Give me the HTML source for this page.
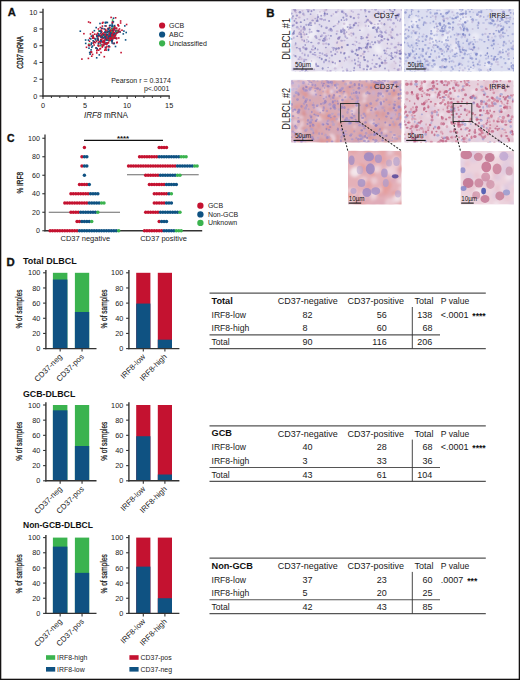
<!DOCTYPE html>
<html><head><meta charset="utf-8"><style>
html,body{margin:0;padding:0;background:#fff;}
body{width:520px;height:680px;overflow:hidden;}
svg{display:block;}
text{font-family:"Liberation Sans",sans-serif;}
.k0{fill:#e8d8e4;opacity:0.5}.k1{fill:#d8cce0;opacity:0.5}.k2{fill:#f4f2f8;opacity:0.7}.k3{fill:#b49ac4;opacity:0.45}.k4{fill:#6260ac;opacity:0.6}.k5{fill:#6e66b2;opacity:0.55}.k6{fill:#9a88c4;opacity:0.45}.k7{fill:#8076bc;opacity:0.5}.k8{fill:#cdd0ec;opacity:0.5}.k9{fill:#f2f2fa;opacity:0.7}.k10{fill:#e4e0f0;opacity:0.5}.k11{fill:#6470bc;opacity:0.55}.k12{fill:#9ca2d8;opacity:0.45}.k13{fill:#a898c8;opacity:0.4}.k14{fill:#7c86c8;opacity:0.5}.k15{fill:#6e7ac4;opacity:0.5}.k16{fill:#e4a09a;opacity:0.55}.k17{fill:#c4b0dc;opacity:0.5}.k18{fill:#f2e4ec;opacity:0.55}.k19{fill:#e0908a;opacity:0.6}.k20{fill:#d89090;opacity:0.55}.k21{fill:#a090cc;opacity:0.6}.k22{fill:#ac9cd0;opacity:0.55}.k23{fill:#9484c8;opacity:0.65}.k24{fill:#8878c0;opacity:0.65}.k25{fill:#e0b4c4;opacity:0.5}.k26{fill:#f6eef6;opacity:0.55}.k27{fill:#dcd0e8;opacity:0.5}.k28{fill:#bc5478;opacity:0.7}.k29{fill:#d48ca4;opacity:0.6}.k30{fill:#c4607e;opacity:0.7}.k31{fill:#cc7490;opacity:0.65}.k32{fill:#8890d0;opacity:0.55}.k33{fill:#b44c70;opacity:0.65}
</style></head><body>
<svg width="520" height="680" viewBox="0 0 520 680">
<defs><filter id="bl" x="-5%" y="-5%" width="110%" height="110%"><feGaussianBlur stdDeviation="0.5"/></filter><filter id="bm" x="-5%" y="-5%" width="110%" height="110%"><feGaussianBlur stdDeviation="1.6"/></filter><filter id="bh" x="-5%" y="-5%" width="110%" height="110%"><feGaussianBlur stdDeviation="0.8"/></filter><filter id="bi" x="-5%" y="-5%" width="110%" height="110%"><feGaussianBlur stdDeviation="0.75"/></filter></defs>
<rect x="0" y="0" width="520" height="680" fill="#fff"/>
<text x="7.70" y="16.10" font-size="11.2" text-anchor="start" font-weight="bold" fill="#111" stroke="#111" stroke-width="0.3">A</text>
<line x1="43.00" y1="8.80" x2="43.00" y2="96.60" stroke="#333" stroke-width="1.4" />
<line x1="42.40" y1="96.00" x2="169.80" y2="96.00" stroke="#333" stroke-width="1.4" />
<line x1="39.50" y1="96.00" x2="43.00" y2="96.00" stroke="#333" stroke-width="1.1" />
<text x="37.40" y="98.60" font-size="7.3" text-anchor="end" fill="#1a1a1a" >0</text>
<line x1="39.50" y1="79.24" x2="43.00" y2="79.24" stroke="#333" stroke-width="1.1" />
<text x="37.40" y="81.84" font-size="7.3" text-anchor="end" fill="#1a1a1a" >2</text>
<line x1="39.50" y1="62.48" x2="43.00" y2="62.48" stroke="#333" stroke-width="1.1" />
<text x="37.40" y="65.08" font-size="7.3" text-anchor="end" fill="#1a1a1a" >4</text>
<line x1="39.50" y1="45.72" x2="43.00" y2="45.72" stroke="#333" stroke-width="1.1" />
<text x="37.40" y="48.32" font-size="7.3" text-anchor="end" fill="#1a1a1a" >6</text>
<line x1="39.50" y1="28.96" x2="43.00" y2="28.96" stroke="#333" stroke-width="1.1" />
<text x="37.40" y="31.56" font-size="7.3" text-anchor="end" fill="#1a1a1a" >8</text>
<line x1="39.50" y1="12.20" x2="43.00" y2="12.20" stroke="#333" stroke-width="1.1" />
<text x="37.40" y="14.80" font-size="7.3" text-anchor="end" fill="#1a1a1a" >10</text>
<line x1="43.00" y1="96.00" x2="43.00" y2="99.00" stroke="#333" stroke-width="1.1" />
<text x="43.00" y="107.60" font-size="7.3" text-anchor="middle" fill="#1a1a1a" >0</text>
<line x1="51.41" y1="96.00" x2="51.41" y2="98.00" stroke="#333" stroke-width="1.0" />
<line x1="59.82" y1="96.00" x2="59.82" y2="98.00" stroke="#333" stroke-width="1.0" />
<line x1="68.23" y1="96.00" x2="68.23" y2="98.00" stroke="#333" stroke-width="1.0" />
<line x1="76.64" y1="96.00" x2="76.64" y2="98.00" stroke="#333" stroke-width="1.0" />
<line x1="85.05" y1="96.00" x2="85.05" y2="99.00" stroke="#333" stroke-width="1.1" />
<text x="85.05" y="107.60" font-size="7.3" text-anchor="middle" fill="#1a1a1a" >5</text>
<line x1="93.46" y1="96.00" x2="93.46" y2="98.00" stroke="#333" stroke-width="1.0" />
<line x1="101.87" y1="96.00" x2="101.87" y2="98.00" stroke="#333" stroke-width="1.0" />
<line x1="110.28" y1="96.00" x2="110.28" y2="98.00" stroke="#333" stroke-width="1.0" />
<line x1="118.69" y1="96.00" x2="118.69" y2="98.00" stroke="#333" stroke-width="1.0" />
<line x1="127.10" y1="96.00" x2="127.10" y2="99.00" stroke="#333" stroke-width="1.1" />
<text x="127.10" y="107.60" font-size="7.3" text-anchor="middle" fill="#1a1a1a" >10</text>
<line x1="135.51" y1="96.00" x2="135.51" y2="98.00" stroke="#333" stroke-width="1.0" />
<line x1="143.92" y1="96.00" x2="143.92" y2="98.00" stroke="#333" stroke-width="1.0" />
<line x1="152.33" y1="96.00" x2="152.33" y2="98.00" stroke="#333" stroke-width="1.0" />
<line x1="160.74" y1="96.00" x2="160.74" y2="98.00" stroke="#333" stroke-width="1.0" />
<line x1="169.15" y1="96.00" x2="169.15" y2="99.00" stroke="#333" stroke-width="1.1" />
<text x="169.15" y="107.60" font-size="7.3" text-anchor="middle" fill="#1a1a1a" >15</text>
<text x="106.00" y="117.80" font-size="8.2" text-anchor="middle" fill="#1a1a1a" ><tspan font-style="italic">IRF8</tspan> mRNA</text>
<text transform="translate(22.8,52.5) rotate(-90) scale(0.61,1)" font-size="9.3" text-anchor="middle" fill="#1a1a1a" stroke="#1a1a1a" stroke-width="0.35"><tspan font-style="italic">CD37</tspan> mRNA</text>
<rect x="114.0" y="25.9" width="1.6" height="1.6" fill="#c41230"/>
<rect x="113.1" y="31.8" width="1.6" height="1.6" fill="#c41230"/>
<rect x="101.5" y="45.4" width="1.6" height="1.6" fill="#c41230"/>
<rect x="109.3" y="24.5" width="1.6" height="1.6" fill="#0f5282"/>
<rect x="88.2" y="47.4" width="1.6" height="1.6" fill="#0f5282"/>
<rect x="90.8" y="51.3" width="1.6" height="1.6" fill="#c41230"/>
<rect x="101.3" y="35.6" width="1.6" height="1.6" fill="#c41230"/>
<rect x="99.9" y="41.2" width="1.6" height="1.6" fill="#0f5282"/>
<rect x="111.8" y="21.6" width="1.6" height="1.6" fill="#0f5282"/>
<rect x="102.6" y="34.4" width="1.6" height="1.6" fill="#c41230"/>
<rect x="108.8" y="26.8" width="1.6" height="1.6" fill="#c41230"/>
<rect x="112.6" y="30.1" width="1.6" height="1.6" fill="#0f5282"/>
<rect x="92.2" y="34.7" width="1.6" height="1.6" fill="#0f5282"/>
<rect x="104.0" y="36.5" width="1.6" height="1.6" fill="#0f5282"/>
<rect x="111.1" y="36.0" width="1.6" height="1.6" fill="#c41230"/>
<rect x="116.3" y="41.4" width="1.6" height="1.6" fill="#c41230"/>
<rect x="111.0" y="39.1" width="1.6" height="1.6" fill="#c41230"/>
<rect x="113.8" y="24.8" width="1.6" height="1.6" fill="#0f5282"/>
<rect x="111.7" y="24.7" width="1.6" height="1.6" fill="#0f5282"/>
<rect x="95.0" y="39.1" width="1.6" height="1.6" fill="#0f5282"/>
<rect x="95.3" y="47.3" width="1.6" height="1.6" fill="#c41230"/>
<rect x="90.1" y="51.0" width="1.6" height="1.6" fill="#c41230"/>
<rect x="100.0" y="38.9" width="1.6" height="1.6" fill="#c41230"/>
<rect x="112.1" y="28.4" width="1.6" height="1.6" fill="#3bb34f"/>
<rect x="103.9" y="33.4" width="1.6" height="1.6" fill="#c41230"/>
<rect x="99.2" y="22.7" width="1.6" height="1.6" fill="#0f5282"/>
<rect x="93.2" y="40.7" width="1.6" height="1.6" fill="#c41230"/>
<rect x="117.5" y="29.4" width="1.6" height="1.6" fill="#c41230"/>
<rect x="88.9" y="37.5" width="1.6" height="1.6" fill="#c41230"/>
<rect x="97.1" y="35.0" width="1.6" height="1.6" fill="#c41230"/>
<rect x="104.7" y="30.1" width="1.6" height="1.6" fill="#0f5282"/>
<rect x="110.6" y="33.7" width="1.6" height="1.6" fill="#c41230"/>
<rect x="93.3" y="44.2" width="1.6" height="1.6" fill="#c41230"/>
<rect x="105.7" y="37.7" width="1.6" height="1.6" fill="#c41230"/>
<rect x="100.8" y="40.0" width="1.6" height="1.6" fill="#c41230"/>
<rect x="91.0" y="46.5" width="1.6" height="1.6" fill="#0f5282"/>
<rect x="97.2" y="37.7" width="1.6" height="1.6" fill="#0f5282"/>
<rect x="113.1" y="33.3" width="1.6" height="1.6" fill="#c41230"/>
<rect x="97.0" y="39.0" width="1.6" height="1.6" fill="#0f5282"/>
<rect x="91.7" y="36.0" width="1.6" height="1.6" fill="#c41230"/>
<rect x="116.0" y="42.0" width="1.6" height="1.6" fill="#c41230"/>
<rect x="96.3" y="35.6" width="1.6" height="1.6" fill="#0f5282"/>
<rect x="109.7" y="37.3" width="1.6" height="1.6" fill="#c41230"/>
<rect x="100.1" y="30.2" width="1.6" height="1.6" fill="#0f5282"/>
<rect x="109.9" y="35.7" width="1.6" height="1.6" fill="#c41230"/>
<rect x="102.3" y="33.6" width="1.6" height="1.6" fill="#c41230"/>
<rect x="124.8" y="39.1" width="1.6" height="1.6" fill="#0f5282"/>
<rect x="115.3" y="27.7" width="1.6" height="1.6" fill="#0f5282"/>
<rect x="101.2" y="43.8" width="1.6" height="1.6" fill="#c41230"/>
<rect x="108.1" y="37.8" width="1.6" height="1.6" fill="#0f5282"/>
<rect x="108.9" y="31.3" width="1.6" height="1.6" fill="#c41230"/>
<rect x="103.5" y="34.1" width="1.6" height="1.6" fill="#c41230"/>
<rect x="112.8" y="28.1" width="1.6" height="1.6" fill="#c41230"/>
<rect x="112.5" y="26.2" width="1.6" height="1.6" fill="#3bb34f"/>
<rect x="113.2" y="35.1" width="1.6" height="1.6" fill="#c41230"/>
<rect x="103.2" y="40.0" width="1.6" height="1.6" fill="#0f5282"/>
<rect x="121.2" y="29.4" width="1.6" height="1.6" fill="#c41230"/>
<rect x="100.4" y="29.3" width="1.6" height="1.6" fill="#c41230"/>
<rect x="94.7" y="41.8" width="1.6" height="1.6" fill="#c41230"/>
<rect x="88.7" y="40.5" width="1.6" height="1.6" fill="#c41230"/>
<rect x="112.1" y="34.4" width="1.6" height="1.6" fill="#0f5282"/>
<rect x="107.2" y="27.7" width="1.6" height="1.6" fill="#c41230"/>
<rect x="102.2" y="35.2" width="1.6" height="1.6" fill="#3bb34f"/>
<rect x="99.8" y="44.4" width="1.6" height="1.6" fill="#0f5282"/>
<rect x="96.1" y="33.6" width="1.6" height="1.6" fill="#c41230"/>
<rect x="105.2" y="37.3" width="1.6" height="1.6" fill="#c41230"/>
<rect x="113.4" y="42.5" width="1.6" height="1.6" fill="#c41230"/>
<rect x="101.9" y="36.9" width="1.6" height="1.6" fill="#c41230"/>
<rect x="109.1" y="29.7" width="1.6" height="1.6" fill="#0f5282"/>
<rect x="103.9" y="42.1" width="1.6" height="1.6" fill="#0f5282"/>
<rect x="97.6" y="44.5" width="1.6" height="1.6" fill="#c41230"/>
<rect x="117.9" y="25.1" width="1.6" height="1.6" fill="#c41230"/>
<rect x="104.6" y="21.6" width="1.6" height="1.6" fill="#0f5282"/>
<rect x="104.3" y="31.2" width="1.6" height="1.6" fill="#0f5282"/>
<rect x="109.7" y="30.9" width="1.6" height="1.6" fill="#0f5282"/>
<rect x="105.2" y="38.2" width="1.6" height="1.6" fill="#c41230"/>
<rect x="105.9" y="35.0" width="1.6" height="1.6" fill="#c41230"/>
<rect x="93.7" y="37.5" width="1.6" height="1.6" fill="#c41230"/>
<rect x="99.8" y="40.2" width="1.6" height="1.6" fill="#c41230"/>
<rect x="111.8" y="29.9" width="1.6" height="1.6" fill="#c41230"/>
<rect x="96.5" y="48.8" width="1.6" height="1.6" fill="#c41230"/>
<rect x="107.5" y="28.2" width="1.6" height="1.6" fill="#c41230"/>
<rect x="109.7" y="36.1" width="1.6" height="1.6" fill="#3bb34f"/>
<rect x="99.9" y="32.8" width="1.6" height="1.6" fill="#c41230"/>
<rect x="115.1" y="33.1" width="1.6" height="1.6" fill="#0f5282"/>
<rect x="103.9" y="41.9" width="1.6" height="1.6" fill="#0f5282"/>
<rect x="101.9" y="27.8" width="1.6" height="1.6" fill="#c41230"/>
<rect x="84.9" y="42.6" width="1.6" height="1.6" fill="#0f5282"/>
<rect x="108.0" y="40.0" width="1.6" height="1.6" fill="#c41230"/>
<rect x="105.9" y="31.2" width="1.6" height="1.6" fill="#0f5282"/>
<rect x="104.6" y="46.5" width="1.6" height="1.6" fill="#0f5282"/>
<rect x="105.3" y="25.2" width="1.6" height="1.6" fill="#c41230"/>
<rect x="112.0" y="32.9" width="1.6" height="1.6" fill="#c41230"/>
<rect x="110.9" y="31.7" width="1.6" height="1.6" fill="#c41230"/>
<rect x="106.0" y="31.1" width="1.6" height="1.6" fill="#3bb34f"/>
<rect x="109.2" y="32.0" width="1.6" height="1.6" fill="#c41230"/>
<rect x="91.7" y="45.3" width="1.6" height="1.6" fill="#0f5282"/>
<rect x="111.7" y="21.1" width="1.6" height="1.6" fill="#c41230"/>
<rect x="112.4" y="42.7" width="1.6" height="1.6" fill="#c41230"/>
<rect x="125.8" y="23.7" width="1.6" height="1.6" fill="#c41230"/>
<rect x="112.8" y="36.6" width="1.6" height="1.6" fill="#c41230"/>
<rect x="106.6" y="21.7" width="1.6" height="1.6" fill="#0f5282"/>
<rect x="104.3" y="25.1" width="1.6" height="1.6" fill="#0f5282"/>
<rect x="103.2" y="43.6" width="1.6" height="1.6" fill="#0f5282"/>
<rect x="111.4" y="23.1" width="1.6" height="1.6" fill="#0f5282"/>
<rect x="101.5" y="36.0" width="1.6" height="1.6" fill="#0f5282"/>
<rect x="95.9" y="34.8" width="1.6" height="1.6" fill="#c41230"/>
<rect x="108.2" y="33.1" width="1.6" height="1.6" fill="#0f5282"/>
<rect x="111.2" y="40.7" width="1.6" height="1.6" fill="#c41230"/>
<rect x="114.8" y="37.4" width="1.6" height="1.6" fill="#0f5282"/>
<rect x="105.4" y="47.1" width="1.6" height="1.6" fill="#c41230"/>
<rect x="106.1" y="35.8" width="1.6" height="1.6" fill="#c41230"/>
<rect x="113.3" y="34.3" width="1.6" height="1.6" fill="#c41230"/>
<rect x="107.6" y="28.0" width="1.6" height="1.6" fill="#0f5282"/>
<rect x="100.9" y="30.7" width="1.6" height="1.6" fill="#c41230"/>
<rect x="108.9" y="39.9" width="1.6" height="1.6" fill="#3bb34f"/>
<rect x="110.3" y="34.2" width="1.6" height="1.6" fill="#c41230"/>
<rect x="111.6" y="39.4" width="1.6" height="1.6" fill="#c41230"/>
<rect x="91.9" y="31.5" width="1.6" height="1.6" fill="#c41230"/>
<rect x="98.4" y="34.4" width="1.6" height="1.6" fill="#0f5282"/>
<rect x="103.5" y="28.2" width="1.6" height="1.6" fill="#0f5282"/>
<rect x="111.0" y="34.8" width="1.6" height="1.6" fill="#c41230"/>
<rect x="93.7" y="41.0" width="1.6" height="1.6" fill="#0f5282"/>
<rect x="100.1" y="40.7" width="1.6" height="1.6" fill="#0f5282"/>
<rect x="84.8" y="39.2" width="1.6" height="1.6" fill="#0f5282"/>
<rect x="79.5" y="30.4" width="1.6" height="1.6" fill="#0f5282"/>
<rect x="92.3" y="40.0" width="1.6" height="1.6" fill="#0f5282"/>
<rect x="91.6" y="35.1" width="1.6" height="1.6" fill="#3bb34f"/>
<rect x="108.7" y="30.8" width="1.6" height="1.6" fill="#0f5282"/>
<rect x="105.7" y="21.6" width="1.6" height="1.6" fill="#0f5282"/>
<rect x="91.9" y="37.3" width="1.6" height="1.6" fill="#c41230"/>
<rect x="107.6" y="46.0" width="1.6" height="1.6" fill="#c41230"/>
<rect x="99.3" y="35.5" width="1.6" height="1.6" fill="#c41230"/>
<rect x="106.4" y="39.3" width="1.6" height="1.6" fill="#0f5282"/>
<rect x="104.7" y="22.2" width="1.6" height="1.6" fill="#0f5282"/>
<rect x="103.5" y="55.9" width="1.6" height="1.6" fill="#c41230"/>
<rect x="109.0" y="34.6" width="1.6" height="1.6" fill="#c41230"/>
<rect x="100.0" y="35.4" width="1.6" height="1.6" fill="#0f5282"/>
<rect x="103.0" y="37.1" width="1.6" height="1.6" fill="#0f5282"/>
<rect x="99.5" y="35.3" width="1.6" height="1.6" fill="#0f5282"/>
<rect x="104.8" y="42.9" width="1.6" height="1.6" fill="#0f5282"/>
<rect x="114.0" y="34.4" width="1.6" height="1.6" fill="#3bb34f"/>
<rect x="100.7" y="34.4" width="1.6" height="1.6" fill="#0f5282"/>
<rect x="106.1" y="45.6" width="1.6" height="1.6" fill="#c41230"/>
<rect x="108.8" y="34.3" width="1.6" height="1.6" fill="#c41230"/>
<rect x="110.9" y="28.5" width="1.6" height="1.6" fill="#c41230"/>
<rect x="104.4" y="36.4" width="1.6" height="1.6" fill="#c41230"/>
<rect x="107.7" y="35.4" width="1.6" height="1.6" fill="#0f5282"/>
<rect x="117.4" y="24.6" width="1.6" height="1.6" fill="#c41230"/>
<rect x="90.6" y="35.4" width="1.6" height="1.6" fill="#0f5282"/>
<rect x="104.3" y="38.4" width="1.6" height="1.6" fill="#c41230"/>
<rect x="105.0" y="29.7" width="1.6" height="1.6" fill="#c41230"/>
<rect x="99.1" y="48.1" width="1.6" height="1.6" fill="#c41230"/>
<rect x="89.7" y="52.0" width="1.6" height="1.6" fill="#c41230"/>
<rect x="88.2" y="43.3" width="1.6" height="1.6" fill="#3bb34f"/>
<rect x="87.7" y="39.3" width="1.6" height="1.6" fill="#0f5282"/>
<rect x="106.5" y="30.2" width="1.6" height="1.6" fill="#c41230"/>
<rect x="114.7" y="34.9" width="1.6" height="1.6" fill="#c41230"/>
<rect x="102.3" y="37.0" width="1.6" height="1.6" fill="#0f5282"/>
<rect x="100.4" y="31.8" width="1.6" height="1.6" fill="#0f5282"/>
<rect x="92.4" y="37.2" width="1.6" height="1.6" fill="#c41230"/>
<rect x="106.1" y="41.9" width="1.6" height="1.6" fill="#0f5282"/>
<rect x="111.3" y="30.9" width="1.6" height="1.6" fill="#0f5282"/>
<rect x="104.9" y="39.0" width="1.6" height="1.6" fill="#0f5282"/>
<rect x="108.8" y="46.0" width="1.6" height="1.6" fill="#c41230"/>
<rect x="111.8" y="29.4" width="1.6" height="1.6" fill="#c41230"/>
<rect x="111.4" y="39.8" width="1.6" height="1.6" fill="#0f5282"/>
<rect x="105.4" y="49.3" width="1.6" height="1.6" fill="#c41230"/>
<rect x="102.9" y="44.7" width="1.6" height="1.6" fill="#c41230"/>
<rect x="110.5" y="36.4" width="1.6" height="1.6" fill="#0f5282"/>
<rect x="90.8" y="42.3" width="1.6" height="1.6" fill="#0f5282"/>
<rect x="114.8" y="17.0" width="1.6" height="1.6" fill="#c41230"/>
<rect x="107.6" y="31.1" width="1.6" height="1.6" fill="#c41230"/>
<rect x="112.6" y="20.9" width="1.6" height="1.6" fill="#0f5282"/>
<rect x="118.2" y="30.6" width="1.6" height="1.6" fill="#0f5282"/>
<rect x="83.1" y="32.9" width="1.6" height="1.6" fill="#c41230"/>
<rect x="110.5" y="36.7" width="1.6" height="1.6" fill="#0f5282"/>
<rect x="112.0" y="35.8" width="1.6" height="1.6" fill="#0f5282"/>
<rect x="101.9" y="32.6" width="1.6" height="1.6" fill="#c41230"/>
<rect x="92.5" y="35.9" width="1.6" height="1.6" fill="#c41230"/>
<rect x="100.9" y="27.4" width="1.6" height="1.6" fill="#0f5282"/>
<rect x="122.5" y="33.1" width="1.6" height="1.6" fill="#0f5282"/>
<rect x="95.4" y="26.8" width="1.6" height="1.6" fill="#0f5282"/>
<rect x="105.1" y="36.4" width="1.6" height="1.6" fill="#c41230"/>
<rect x="109.1" y="37.3" width="1.6" height="1.6" fill="#c41230"/>
<rect x="109.8" y="36.4" width="1.6" height="1.6" fill="#0f5282"/>
<rect x="109.5" y="39.4" width="1.6" height="1.6" fill="#c41230"/>
<rect x="111.3" y="42.1" width="1.6" height="1.6" fill="#0f5282"/>
<rect x="110.8" y="33.0" width="1.6" height="1.6" fill="#0f5282"/>
<rect x="113.9" y="34.3" width="1.6" height="1.6" fill="#c41230"/>
<rect x="110.5" y="29.1" width="1.6" height="1.6" fill="#0f5282"/>
<rect x="104.7" y="35.3" width="1.6" height="1.6" fill="#0f5282"/>
<rect x="110.0" y="37.3" width="1.6" height="1.6" fill="#c41230"/>
<rect x="109.5" y="29.4" width="1.6" height="1.6" fill="#c41230"/>
<rect x="108.8" y="33.3" width="1.6" height="1.6" fill="#0f5282"/>
<rect x="104.5" y="34.3" width="1.6" height="1.6" fill="#c41230"/>
<rect x="114.2" y="36.3" width="1.6" height="1.6" fill="#c41230"/>
<rect x="95.3" y="47.1" width="1.6" height="1.6" fill="#0f5282"/>
<rect x="114.2" y="33.3" width="1.6" height="1.6" fill="#0f5282"/>
<rect x="107.8" y="34.6" width="1.6" height="1.6" fill="#3bb34f"/>
<rect x="98.4" y="40.7" width="1.6" height="1.6" fill="#c41230"/>
<rect x="100.1" y="36.5" width="1.6" height="1.6" fill="#c41230"/>
<rect x="111.1" y="37.4" width="1.6" height="1.6" fill="#0f5282"/>
<rect x="110.3" y="37.2" width="1.6" height="1.6" fill="#c41230"/>
<rect x="105.1" y="33.6" width="1.6" height="1.6" fill="#0f5282"/>
<rect x="87.8" y="21.2" width="1.6" height="1.6" fill="#c41230"/>
<rect x="97.8" y="34.4" width="1.6" height="1.6" fill="#0f5282"/>
<rect x="108.0" y="37.3" width="1.6" height="1.6" fill="#0f5282"/>
<rect x="115.6" y="31.9" width="1.6" height="1.6" fill="#0f5282"/>
<rect x="99.7" y="47.7" width="1.6" height="1.6" fill="#c41230"/>
<rect x="101.5" y="40.8" width="1.6" height="1.6" fill="#0f5282"/>
<rect x="105.4" y="33.5" width="1.6" height="1.6" fill="#c41230"/>
<rect x="113.5" y="37.3" width="1.6" height="1.6" fill="#c41230"/>
<rect x="99.5" y="44.9" width="1.6" height="1.6" fill="#3bb34f"/>
<rect x="97.6" y="28.2" width="1.6" height="1.6" fill="#c41230"/>
<rect x="96.4" y="47.8" width="1.6" height="1.6" fill="#0f5282"/>
<rect x="113.5" y="29.2" width="1.6" height="1.6" fill="#c41230"/>
<rect x="112.7" y="17.4" width="1.6" height="1.6" fill="#0f5282"/>
<rect x="111.0" y="40.2" width="1.6" height="1.6" fill="#0f5282"/>
<rect x="90.3" y="49.1" width="1.6" height="1.6" fill="#0f5282"/>
<rect x="113.5" y="28.0" width="1.6" height="1.6" fill="#0f5282"/>
<rect x="104.9" y="34.5" width="1.6" height="1.6" fill="#c41230"/>
<rect x="108.9" y="33.8" width="1.6" height="1.6" fill="#0f5282"/>
<rect x="113.2" y="34.0" width="1.6" height="1.6" fill="#0f5282"/>
<rect x="114.6" y="27.5" width="1.6" height="1.6" fill="#c41230"/>
<rect x="81.1" y="58.3" width="1.6" height="1.6" fill="#c41230"/>
<rect x="113.8" y="35.0" width="1.6" height="1.6" fill="#c41230"/>
<rect x="107.9" y="39.1" width="1.6" height="1.6" fill="#0f5282"/>
<rect x="105.6" y="36.4" width="1.6" height="1.6" fill="#c41230"/>
<rect x="102.2" y="21.6" width="1.6" height="1.6" fill="#c41230"/>
<rect x="102.2" y="33.8" width="1.6" height="1.6" fill="#c41230"/>
<rect x="108.1" y="45.1" width="1.6" height="1.6" fill="#0f5282"/>
<rect x="124.0" y="25.1" width="1.6" height="1.6" fill="#0f5282"/>
<rect x="88.0" y="44.8" width="1.6" height="1.6" fill="#0f5282"/>
<rect x="94.4" y="38.2" width="1.6" height="1.6" fill="#0f5282"/>
<rect x="100.5" y="39.1" width="1.6" height="1.6" fill="#c41230"/>
<rect x="104.8" y="31.7" width="1.6" height="1.6" fill="#c41230"/>
<rect x="110.2" y="30.7" width="1.6" height="1.6" fill="#c41230"/>
<rect x="88.9" y="51.7" width="1.6" height="1.6" fill="#0f5282"/>
<rect x="110.0" y="32.6" width="1.6" height="1.6" fill="#c41230"/>
<rect x="111.1" y="36.2" width="1.6" height="1.6" fill="#c41230"/>
<rect x="101.8" y="37.6" width="1.6" height="1.6" fill="#c41230"/>
<rect x="105.8" y="37.6" width="1.6" height="1.6" fill="#c41230"/>
<rect x="107.7" y="41.9" width="1.6" height="1.6" fill="#c41230"/>
<rect x="107.6" y="28.7" width="1.6" height="1.6" fill="#0f5282"/>
<rect x="99.6" y="42.2" width="1.6" height="1.6" fill="#0f5282"/>
<rect x="107.7" y="48.5" width="1.6" height="1.6" fill="#0f5282"/>
<rect x="90.4" y="43.7" width="1.6" height="1.6" fill="#0f5282"/>
<rect x="104.8" y="28.6" width="1.6" height="1.6" fill="#c41230"/>
<rect x="103.7" y="40.9" width="1.6" height="1.6" fill="#0f5282"/>
<rect x="87.6" y="57.6" width="1.6" height="1.6" fill="#c41230"/>
<rect x="97.3" y="35.9" width="1.6" height="1.6" fill="#c41230"/>
<rect x="107.8" y="36.0" width="1.6" height="1.6" fill="#c41230"/>
<rect x="96.0" y="49.9" width="1.6" height="1.6" fill="#c41230"/>
<rect x="111.4" y="32.8" width="1.6" height="1.6" fill="#c41230"/>
<rect x="116.0" y="32.3" width="1.6" height="1.6" fill="#c41230"/>
<rect x="108.8" y="36.1" width="1.6" height="1.6" fill="#c41230"/>
<rect x="109.1" y="32.6" width="1.6" height="1.6" fill="#c41230"/>
<rect x="110.3" y="31.1" width="1.6" height="1.6" fill="#0f5282"/>
<rect x="116.8" y="31.3" width="1.6" height="1.6" fill="#c41230"/>
<rect x="97.5" y="38.9" width="1.6" height="1.6" fill="#c41230"/>
<rect x="101.5" y="46.3" width="1.6" height="1.6" fill="#c41230"/>
<rect x="95.9" y="57.0" width="1.6" height="1.6" fill="#0f5282"/>
<rect x="93.2" y="41.4" width="1.6" height="1.6" fill="#c41230"/>
<rect x="108.7" y="37.5" width="1.6" height="1.6" fill="#c41230"/>
<rect x="102.8" y="40.4" width="1.6" height="1.6" fill="#c41230"/>
<rect x="107.6" y="30.6" width="1.6" height="1.6" fill="#0f5282"/>
<rect x="94.0" y="33.4" width="1.6" height="1.6" fill="#c41230"/>
<rect x="106.4" y="38.7" width="1.6" height="1.6" fill="#0f5282"/>
<rect x="100.2" y="51.7" width="1.6" height="1.6" fill="#c41230"/>
<rect x="111.9" y="31.0" width="1.6" height="1.6" fill="#c41230"/>
<rect x="111.1" y="38.4" width="1.6" height="1.6" fill="#0f5282"/>
<rect x="109.4" y="39.5" width="1.6" height="1.6" fill="#c41230"/>
<rect x="113.7" y="34.8" width="1.6" height="1.6" fill="#c41230"/>
<rect x="114.7" y="45.7" width="1.6" height="1.6" fill="#0f5282"/>
<rect x="112.0" y="38.1" width="1.6" height="1.6" fill="#c41230"/>
<rect x="105.9" y="37.0" width="1.6" height="1.6" fill="#0f5282"/>
<rect x="105.8" y="34.0" width="1.6" height="1.6" fill="#c41230"/>
<rect x="97.9" y="49.4" width="1.6" height="1.6" fill="#c41230"/>
<rect x="110.0" y="33.5" width="1.6" height="1.6" fill="#c41230"/>
<rect x="110.3" y="16.6" width="1.6" height="1.6" fill="#c41230"/>
<rect x="108.9" y="27.1" width="1.6" height="1.6" fill="#c41230"/>
<rect x="113.6" y="26.7" width="1.6" height="1.6" fill="#c41230"/>
<rect x="115.7" y="38.0" width="1.6" height="1.6" fill="#c41230"/>
<rect x="90.0" y="38.1" width="1.6" height="1.6" fill="#0f5282"/>
<rect x="112.3" y="37.3" width="1.6" height="1.6" fill="#c41230"/>
<rect x="106.1" y="43.5" width="1.6" height="1.6" fill="#c41230"/>
<rect x="99.5" y="26.7" width="1.6" height="1.6" fill="#c41230"/>
<rect x="115.2" y="29.5" width="1.6" height="1.6" fill="#c41230"/>
<rect x="119.3" y="31.3" width="1.6" height="1.6" fill="#0f5282"/>
<rect x="89.3" y="53.4" width="1.6" height="1.6" fill="#0f5282"/>
<rect x="93.6" y="29.9" width="1.6" height="1.6" fill="#0f5282"/>
<rect x="98.2" y="30.1" width="1.6" height="1.6" fill="#3bb34f"/>
<rect x="102.8" y="34.1" width="1.6" height="1.6" fill="#0f5282"/>
<rect x="100.4" y="40.2" width="1.6" height="1.6" fill="#0f5282"/>
<rect x="102.7" y="41.8" width="1.6" height="1.6" fill="#c41230"/>
<rect x="100.5" y="34.2" width="1.6" height="1.6" fill="#c41230"/>
<rect x="92.1" y="34.7" width="1.6" height="1.6" fill="#c41230"/>
<rect x="90.9" y="55.4" width="1.6" height="1.6" fill="#c41230"/>
<rect x="96.9" y="37.8" width="1.6" height="1.6" fill="#c41230"/>
<rect x="116.5" y="29.8" width="1.6" height="1.6" fill="#c41230"/>
<rect x="97.4" y="39.3" width="1.6" height="1.6" fill="#0f5282"/>
<rect x="119.8" y="20.2" width="1.6" height="1.6" fill="#c41230"/>
<rect x="100.6" y="36.9" width="1.6" height="1.6" fill="#0f5282"/>
<rect x="105.7" y="37.9" width="1.6" height="1.6" fill="#0f5282"/>
<rect x="95.8" y="40.4" width="1.6" height="1.6" fill="#c41230"/>
<rect x="96.4" y="37.4" width="1.6" height="1.6" fill="#0f5282"/>
<rect x="106.6" y="38.3" width="1.6" height="1.6" fill="#0f5282"/>
<rect x="103.1" y="32.1" width="1.6" height="1.6" fill="#c41230"/>
<rect x="110.9" y="30.6" width="1.6" height="1.6" fill="#c41230"/>
<rect x="96.0" y="35.3" width="1.6" height="1.6" fill="#0f5282"/>
<rect x="89.5" y="21.9" width="1.6" height="1.6" fill="#c41230"/>
<rect x="100.3" y="39.9" width="1.6" height="1.6" fill="#c41230"/>
<rect x="100.7" y="30.6" width="1.6" height="1.6" fill="#c41230"/>
<rect x="107.3" y="38.3" width="1.6" height="1.6" fill="#0f5282"/>
<rect x="115.1" y="30.4" width="1.6" height="1.6" fill="#0f5282"/>
<rect x="85.7" y="46.5" width="1.6" height="1.6" fill="#c41230"/>
<rect x="104.7" y="38.8" width="1.6" height="1.6" fill="#c41230"/>
<rect x="102.3" y="44.6" width="1.6" height="1.6" fill="#c41230"/>
<rect x="119.8" y="22.2" width="1.6" height="1.6" fill="#c41230"/>
<rect x="98.5" y="54.1" width="1.6" height="1.6" fill="#0f5282"/>
<rect x="107.0" y="38.5" width="1.6" height="1.6" fill="#3bb34f"/>
<rect x="115.9" y="37.2" width="1.6" height="1.6" fill="#c41230"/>
<rect x="111.5" y="30.1" width="1.6" height="1.6" fill="#0f5282"/>
<rect x="117.2" y="23.9" width="1.6" height="1.6" fill="#c41230"/>
<rect x="92.7" y="42.3" width="1.6" height="1.6" fill="#c41230"/>
<rect x="108.2" y="35.5" width="1.6" height="1.6" fill="#0f5282"/>
<rect x="110.6" y="31.8" width="1.6" height="1.6" fill="#0f5282"/>
<rect x="114.6" y="32.5" width="1.6" height="1.6" fill="#0f5282"/>
<rect x="103.6" y="41.3" width="1.6" height="1.6" fill="#c41230"/>
<rect x="113.4" y="37.0" width="1.6" height="1.6" fill="#c41230"/>
<rect x="88.9" y="44.7" width="1.6" height="1.6" fill="#c41230"/>
<rect x="109.5" y="31.4" width="1.6" height="1.6" fill="#c41230"/>
<rect x="106.5" y="31.6" width="1.6" height="1.6" fill="#0f5282"/>
<rect x="117.2" y="31.3" width="1.6" height="1.6" fill="#0f5282"/>
<rect x="115.9" y="27.4" width="1.6" height="1.6" fill="#c41230"/>
<rect x="113.6" y="31.8" width="1.6" height="1.6" fill="#c41230"/>
<rect x="109.5" y="31.5" width="1.6" height="1.6" fill="#c41230"/>
<rect x="106.7" y="37.5" width="1.6" height="1.6" fill="#c41230"/>
<rect x="104.6" y="48.3" width="1.6" height="1.6" fill="#c41230"/>
<rect x="104.0" y="49.4" width="1.6" height="1.6" fill="#c41230"/>
<rect x="101.7" y="37.9" width="1.6" height="1.6" fill="#c41230"/>
<rect x="104.2" y="31.6" width="1.6" height="1.6" fill="#0f5282"/>
<rect x="103.9" y="43.0" width="1.6" height="1.6" fill="#c41230"/>
<rect x="105.2" y="36.9" width="1.6" height="1.6" fill="#c41230"/>
<rect x="123.1" y="30.3" width="1.6" height="1.6" fill="#0f5282"/>
<rect x="108.6" y="39.2" width="1.6" height="1.6" fill="#c41230"/>
<rect x="109.3" y="31.3" width="1.6" height="1.6" fill="#c41230"/>
<rect x="110.9" y="27.8" width="1.6" height="1.6" fill="#0f5282"/>
<rect x="109.6" y="33.3" width="1.6" height="1.6" fill="#c41230"/>
<rect x="111.0" y="31.0" width="1.6" height="1.6" fill="#3bb34f"/>
<rect x="120.3" y="51.8" width="1.6" height="1.6" fill="#c41230"/>
<rect x="111.3" y="39.7" width="1.6" height="1.6" fill="#0f5282"/>
<rect x="110.6" y="34.1" width="1.6" height="1.6" fill="#c41230"/>
<rect x="101.6" y="22.4" width="1.6" height="1.6" fill="#c41230"/>
<rect x="96.9" y="32.4" width="1.6" height="1.6" fill="#c41230"/>
<rect x="92.1" y="37.4" width="1.6" height="1.6" fill="#c41230"/>
<rect x="99.5" y="41.9" width="1.6" height="1.6" fill="#c41230"/>
<rect x="119.1" y="30.6" width="1.6" height="1.6" fill="#c41230"/>
<rect x="108.8" y="25.0" width="1.6" height="1.6" fill="#0f5282"/>
<rect x="89.7" y="33.2" width="1.6" height="1.6" fill="#c41230"/>
<rect x="106.4" y="33.8" width="1.6" height="1.6" fill="#0f5282"/>
<rect x="109.7" y="32.1" width="1.6" height="1.6" fill="#0f5282"/>
<rect x="106.3" y="33.8" width="1.6" height="1.6" fill="#0f5282"/>
<rect x="111.2" y="25.9" width="1.6" height="1.6" fill="#0f5282"/>
<rect x="87.8" y="44.2" width="1.6" height="1.6" fill="#c41230"/>
<rect x="97.6" y="41.8" width="1.6" height="1.6" fill="#c41230"/>
<rect x="108.5" y="34.9" width="1.6" height="1.6" fill="#0f5282"/>
<rect x="112.4" y="31.0" width="1.6" height="1.6" fill="#c41230"/>
<rect x="101.5" y="40.8" width="1.6" height="1.6" fill="#c41230"/>
<rect x="107.3" y="37.4" width="1.6" height="1.6" fill="#0f5282"/>
<rect x="97.4" y="44.7" width="1.6" height="1.6" fill="#c41230"/>
<rect x="108.3" y="33.9" width="1.6" height="1.6" fill="#c41230"/>
<rect x="91.8" y="53.6" width="1.6" height="1.6" fill="#c41230"/>
<rect x="97.9" y="33.1" width="1.6" height="1.6" fill="#0f5282"/>
<rect x="110.8" y="28.5" width="1.6" height="1.6" fill="#3bb34f"/>
<rect x="90.8" y="42.4" width="1.6" height="1.6" fill="#0f5282"/>
<rect x="106.7" y="42.3" width="1.6" height="1.6" fill="#c41230"/>
<rect x="114.1" y="33.2" width="1.6" height="1.6" fill="#3bb34f"/>
<rect x="96.0" y="52.1" width="1.6" height="1.6" fill="#c41230"/>
<rect x="118.0" y="37.2" width="1.6" height="1.6" fill="#c41230"/>
<rect x="97.9" y="45.2" width="1.6" height="1.6" fill="#c41230"/>
<rect x="111.3" y="24.5" width="1.6" height="1.6" fill="#0f5282"/>
<rect x="109.9" y="33.4" width="1.6" height="1.6" fill="#0f5282"/>
<rect x="111.6" y="36.6" width="1.6" height="1.6" fill="#3bb34f"/>
<rect x="111.2" y="36.7" width="1.6" height="1.6" fill="#c41230"/>
<rect x="103.5" y="39.6" width="1.6" height="1.6" fill="#c41230"/>
<rect x="111.7" y="22.0" width="1.6" height="1.6" fill="#c41230"/>
<rect x="113.5" y="33.0" width="1.6" height="1.6" fill="#0f5282"/>
<rect x="116.4" y="30.5" width="1.6" height="1.6" fill="#3bb34f"/>
<rect x="110.4" y="38.2" width="1.6" height="1.6" fill="#c41230"/>
<rect x="104.1" y="35.9" width="1.6" height="1.6" fill="#0f5282"/>
<rect x="112.1" y="28.5" width="1.6" height="1.6" fill="#c41230"/>
<rect x="109.6" y="35.2" width="1.6" height="1.6" fill="#0f5282"/>
<rect x="102.1" y="41.6" width="1.6" height="1.6" fill="#c41230"/>
<rect x="106.8" y="38.1" width="1.6" height="1.6" fill="#c41230"/>
<rect x="108.5" y="30.6" width="1.6" height="1.6" fill="#0f5282"/>
<rect x="113.5" y="42.7" width="1.6" height="1.6" fill="#0f5282"/>
<rect x="106.6" y="42.4" width="1.6" height="1.6" fill="#c41230"/>
<rect x="114.7" y="33.6" width="1.6" height="1.6" fill="#c41230"/>
<rect x="111.8" y="34.7" width="1.6" height="1.6" fill="#c41230"/>
<rect x="103.5" y="41.9" width="1.6" height="1.6" fill="#c41230"/>
<rect x="97.7" y="42.9" width="1.6" height="1.6" fill="#0f5282"/>
<rect x="100.2" y="40.1" width="1.6" height="1.6" fill="#0f5282"/>
<rect x="111.0" y="34.1" width="1.6" height="1.6" fill="#c41230"/>
<rect x="107.6" y="49.5" width="1.6" height="1.6" fill="#0f5282"/>
<rect x="98.6" y="30.4" width="1.6" height="1.6" fill="#0f5282"/>
<rect x="104.4" y="37.2" width="1.6" height="1.6" fill="#0f5282"/>
<rect x="111.8" y="19.3" width="1.6" height="1.6" fill="#3bb34f"/>
<rect x="107.9" y="27.7" width="1.6" height="1.6" fill="#0f5282"/>
<rect x="110.0" y="29.8" width="1.6" height="1.6" fill="#c41230"/>
<rect x="105.8" y="39.1" width="1.6" height="1.6" fill="#0f5282"/>
<rect x="101.6" y="25.3" width="1.6" height="1.6" fill="#c41230"/>
<rect x="105.1" y="43.2" width="1.6" height="1.6" fill="#c41230"/>
<rect x="125.4" y="31.7" width="1.6" height="1.6" fill="#0f5282"/>
<rect x="99.9" y="30.6" width="1.6" height="1.6" fill="#0f5282"/>
<rect x="117.2" y="31.5" width="1.6" height="1.6" fill="#c41230"/>
<rect x="106.2" y="33.8" width="1.6" height="1.6" fill="#0f5282"/>
<rect x="118.7" y="28.2" width="1.6" height="1.6" fill="#c41230"/>
<rect x="111.7" y="25.4" width="1.6" height="1.6" fill="#0f5282"/>
<circle cx="162.1" cy="25.5" r="3.1" fill="#c41230"/>
<text x="169.10" y="28.00" font-size="7" text-anchor="start" fill="#1a1a1a" >GCB</text>
<circle cx="162.1" cy="34.5" r="3.1" fill="#0f5282"/>
<text x="169.10" y="37.00" font-size="7" text-anchor="start" fill="#1a1a1a" >ABC</text>
<circle cx="162.1" cy="43.3" r="3.1" fill="#3bb34f"/>
<text x="169.10" y="45.80" font-size="7" text-anchor="start" fill="#1a1a1a" >Unclassified</text>
<text x="170.90" y="83.00" font-size="7" text-anchor="end" fill="#1a1a1a" >Pearson r = 0.3174</text>
<text x="169.40" y="90.80" font-size="7" text-anchor="end" fill="#1a1a1a" >p&lt;.0001</text>
<text x="266.30" y="16.60" font-size="10.2" text-anchor="start" font-weight="bold" fill="#111" stroke="#111" stroke-width="0.35" transform="translate(266.3 0) scale(1.12 1) translate(-266.3 0)">B</text>
<text transform="translate(290.3,38.9) rotate(-90) scale(0.86,1)" font-size="10.6" text-anchor="middle" fill="#1a1a1a">DLBCL #1</text>
<text transform="translate(290.3,108.8) rotate(-90) scale(0.86,1)" font-size="10.6" text-anchor="middle" fill="#1a1a1a">DLBCL #2</text>
<clipPath id="c11"><rect x="291.2" y="9" width="110.8" height="62.5"/></clipPath>
<g clip-path="url(#c11)"><rect x="291.2" y="9" width="110.8" height="62.5" fill="#e2deee"/>
<g filter="url(#bm)">
<ellipse class="k0" cx="341.0" cy="44.3" rx="4.8" ry="3.8"/>
<ellipse class="k1" cx="310.4" cy="61.1" rx="2.9" ry="3.4"/>
<ellipse class="k1" cx="323.6" cy="12.2" rx="3.9" ry="4.4"/>
<ellipse class="k0" cx="400.9" cy="50.8" rx="2.6" ry="3.8"/>
<ellipse class="k1" cx="295.6" cy="8.4" rx="4.6" ry="3.9"/>
<ellipse class="k0" cx="339.7" cy="63.7" rx="3.0" ry="3.6"/>
<ellipse class="k2" cx="298.1" cy="50.9" rx="3.2" ry="2.6"/>
<ellipse class="k2" cx="370.9" cy="27.6" rx="1.9" ry="2.7"/>
<circle class="k2" cx="335.0" cy="64.0" r="3.2"/>
<ellipse class="k1" cx="313.1" cy="69.5" rx="2.2" ry="1.6"/>
<ellipse class="k1" cx="296.7" cy="49.1" rx="3.1" ry="4.3"/>
<ellipse class="k2" cx="290.0" cy="34.1" rx="4.8" ry="3.1"/>
<ellipse class="k2" cx="295.2" cy="60.6" rx="2.1" ry="2.5"/>
<ellipse class="k2" cx="403.3" cy="58.7" rx="2.5" ry="3.3"/>
<ellipse class="k2" cx="288.3" cy="65.2" rx="4.9" ry="4.1"/>
<ellipse class="k2" cx="312.8" cy="33.0" rx="3.9" ry="4.6"/>
<ellipse class="k2" cx="313.1" cy="23.7" rx="3.2" ry="4.3"/>
<ellipse class="k0" cx="296.9" cy="20.3" rx="2.4" ry="3.9"/>
<ellipse class="k2" cx="341.1" cy="71.7" rx="3.5" ry="2.9"/>
<ellipse class="k2" cx="361.5" cy="27.3" rx="2.7" ry="2.3"/>
<circle class="k0" cx="374.6" cy="70.4" r="2.6"/>
<ellipse class="k0" cx="297.4" cy="9.2" rx="1.9" ry="2.3"/>
<ellipse class="k2" cx="370.5" cy="23.6" rx="3.7" ry="4.5"/>
<ellipse class="k0" cx="396.7" cy="72.9" rx="2.4" ry="1.9"/>
<ellipse class="k1" cx="360.0" cy="25.2" rx="3.2" ry="4.8"/>
<ellipse class="k2" cx="336.3" cy="23.1" rx="2.1" ry="1.5"/>
<ellipse class="k0" cx="299.0" cy="15.5" rx="3.4" ry="2.5"/>
<ellipse class="k0" cx="356.5" cy="15.6" rx="2.1" ry="1.3"/>
<ellipse class="k1" cx="324.6" cy="8.3" rx="2.4" ry="3.8"/>
<ellipse class="k0" cx="325.4" cy="74.5" rx="2.2" ry="1.8"/>
<ellipse class="k1" cx="374.3" cy="14.9" rx="3.6" ry="4.9"/>
<ellipse class="k0" cx="393.4" cy="65.7" rx="3.3" ry="3.0"/>
<ellipse class="k2" cx="289.9" cy="51.4" rx="1.9" ry="3.1"/>
<ellipse class="k0" cx="362.9" cy="74.0" rx="4.1" ry="4.6"/>
<ellipse class="k0" cx="369.3" cy="37.4" rx="3.4" ry="2.8"/>
<ellipse class="k1" cx="291.7" cy="47.2" rx="3.4" ry="2.4"/>
<circle class="k2" cx="379.3" cy="51.2" r="3.3"/>
<circle class="k1" cx="367.4" cy="19.9" r="2.5"/>
<ellipse class="k2" cx="346.4" cy="22.5" rx="3.2" ry="2.3"/>
<ellipse class="k1" cx="391.0" cy="32.3" rx="2.7" ry="3.7"/>
<ellipse class="k2" cx="329.2" cy="67.4" rx="2.1" ry="1.3"/>
<ellipse class="k0" cx="301.4" cy="38.3" rx="4.5" ry="4.8"/>
<circle class="k2" cx="345.9" cy="27.6" r="4.5"/>
<ellipse class="k1" cx="385.0" cy="25.1" rx="3.3" ry="3.8"/>
<ellipse class="k2" cx="324.3" cy="60.2" rx="1.3" ry="2.1"/>
<ellipse class="k2" cx="378.0" cy="24.2" rx="4.3" ry="4.0"/>
<ellipse class="k0" cx="340.3" cy="49.2" rx="4.0" ry="3.7"/>
<ellipse class="k0" cx="311.3" cy="62.4" rx="2.8" ry="2.5"/>
<ellipse class="k0" cx="371.6" cy="18.3" rx="2.8" ry="2.1"/>
<circle class="k2" cx="346.6" cy="74.3" r="2.5"/>
<ellipse class="k0" cx="298.4" cy="69.9" rx="2.7" ry="4.2"/>
<ellipse class="k1" cx="391.8" cy="6.5" rx="3.7" ry="3.1"/>
<ellipse class="k0" cx="342.4" cy="50.6" rx="2.6" ry="2.3"/>
<ellipse class="k1" cx="396.2" cy="14.5" rx="2.1" ry="2.7"/>
<circle class="k1" cx="350.9" cy="60.2" r="3.0"/>
<ellipse class="k2" cx="347.2" cy="8.5" rx="2.3" ry="3.0"/>
<ellipse class="k0" cx="313.7" cy="65.4" rx="3.3" ry="2.0"/>
<ellipse class="k0" cx="380.2" cy="15.6" rx="2.4" ry="2.0"/>
<circle class="k2" cx="368.7" cy="70.8" r="3.4"/>
<ellipse class="k0" cx="339.5" cy="44.3" rx="3.7" ry="4.5"/>
<ellipse class="k0" cx="386.7" cy="44.4" rx="2.9" ry="2.2"/>
<ellipse class="k2" cx="312.5" cy="64.3" rx="4.9" ry="4.0"/>
<ellipse class="k2" cx="336.2" cy="13.8" rx="2.0" ry="1.5"/>
<ellipse class="k0" cx="348.5" cy="33.4" rx="3.6" ry="4.4"/>
<circle class="k1" cx="307.7" cy="69.8" r="3.4"/>
<ellipse class="k1" cx="319.6" cy="38.4" rx="2.4" ry="1.8"/>
<ellipse class="k0" cx="349.5" cy="13.4" rx="2.0" ry="3.3"/>
<ellipse class="k1" cx="379.2" cy="7.6" rx="2.6" ry="1.8"/>
<ellipse class="k0" cx="372.7" cy="22.7" rx="3.5" ry="2.8"/>
<ellipse class="k0" cx="361.0" cy="55.2" rx="3.9" ry="4.1"/>
<ellipse class="k0" cx="336.5" cy="42.3" rx="2.5" ry="1.7"/>
<ellipse class="k0" cx="313.7" cy="20.8" rx="3.0" ry="3.6"/>
<ellipse class="k2" cx="361.5" cy="29.8" rx="2.5" ry="2.1"/>
<ellipse class="k0" cx="313.7" cy="74.4" rx="3.0" ry="4.7"/>
<circle class="k0" cx="298.5" cy="32.6" r="3.3"/>
<ellipse class="k0" cx="302.9" cy="33.6" rx="2.5" ry="4.1"/>
<ellipse class="k1" cx="330.0" cy="62.2" rx="3.1" ry="2.7"/>
<ellipse class="k2" cx="346.9" cy="53.0" rx="1.6" ry="2.6"/>
<ellipse class="k2" cx="377.2" cy="48.0" rx="3.7" ry="4.7"/>
<circle class="k2" cx="312.0" cy="63.6" r="4.8"/>
<ellipse class="k1" cx="303.9" cy="52.6" rx="1.4" ry="2.2"/>
<ellipse class="k2" cx="348.4" cy="35.5" rx="3.8" ry="2.3"/>
<ellipse class="k2" cx="309.4" cy="37.1" rx="3.2" ry="4.2"/>
<ellipse class="k0" cx="299.3" cy="60.3" rx="3.0" ry="1.9"/>
<ellipse class="k1" cx="397.9" cy="45.0" rx="2.1" ry="2.6"/>
<ellipse class="k2" cx="320.8" cy="14.0" rx="4.2" ry="2.8"/>
<ellipse class="k1" cx="392.9" cy="66.3" rx="4.1" ry="3.7"/>
<ellipse class="k1" cx="312.4" cy="18.7" rx="3.2" ry="4.4"/>
<ellipse class="k1" cx="403.9" cy="67.8" rx="2.1" ry="1.5"/>
<ellipse class="k1" cx="327.7" cy="51.2" rx="3.0" ry="3.7"/>
</g>
<g filter="url(#bl)">
<circle class="k3" cx="363.2" cy="54.0" r="1.3"/>
<ellipse class="k4" cx="300.8" cy="22.2" rx="1.1" ry="0.9"/>
<ellipse class="k4" cx="289.5" cy="23.7" rx="1.0" ry="0.8"/>
<ellipse class="k5" cx="401.2" cy="44.9" rx="1.4" ry="1.2"/>
<ellipse class="k4" cx="352.4" cy="51.8" rx="1.4" ry="1.0"/>
<ellipse class="k4" cx="343.3" cy="17.6" rx="1.0" ry="1.1"/>
<ellipse class="k6" cx="337.3" cy="42.1" rx="0.9" ry="1.2"/>
<ellipse class="k7" cx="353.7" cy="25.4" rx="0.9" ry="1.3"/>
<circle class="k6" cx="356.6" cy="49.4" r="1.0"/>
<circle class="k7" cx="375.6" cy="9.4" r="1.4"/>
<ellipse class="k4" cx="338.4" cy="38.7" rx="1.4" ry="1.0"/>
<circle class="k4" cx="305.1" cy="71.8" r="0.9"/>
<ellipse class="k4" cx="341.4" cy="20.0" rx="0.8" ry="0.9"/>
<ellipse class="k6" cx="304.5" cy="34.6" rx="1.2" ry="1.0"/>
<circle class="k7" cx="379.1" cy="42.4" r="1.4"/>
<ellipse class="k6" cx="344.4" cy="40.5" rx="1.1" ry="0.8"/>
<ellipse class="k7" cx="319.9" cy="52.9" rx="1.2" ry="1.0"/>
<circle class="k5" cx="310.4" cy="23.1" r="1.4"/>
<ellipse class="k7" cx="361.6" cy="6.6" rx="0.6" ry="1.0"/>
<circle class="k6" cx="351.5" cy="11.0" r="0.9"/>
<ellipse class="k5" cx="344.7" cy="30.3" rx="0.9" ry="1.1"/>
<circle class="k4" cx="381.9" cy="36.6" r="1.3"/>
<ellipse class="k3" cx="337.8" cy="23.7" rx="1.3" ry="1.0"/>
<circle class="k6" cx="326.2" cy="43.6" r="1.2"/>
<ellipse class="k3" cx="356.0" cy="37.6" rx="0.9" ry="1.1"/>
<circle class="k7" cx="344.8" cy="52.9" r="1.0"/>
<ellipse class="k6" cx="394.6" cy="47.4" rx="1.2" ry="1.0"/>
<circle class="k5" cx="321.2" cy="15.8" r="1.0"/>
<circle class="k6" cx="325.9" cy="36.2" r="1.2"/>
<ellipse class="k3" cx="339.4" cy="61.0" rx="0.8" ry="1.1"/>
<ellipse class="k4" cx="317.2" cy="30.8" rx="0.8" ry="1.1"/>
<ellipse class="k3" cx="381.2" cy="56.6" rx="0.8" ry="1.1"/>
<circle class="k5" cx="353.9" cy="18.1" r="1.2"/>
<ellipse class="k4" cx="314.0" cy="10.0" rx="0.7" ry="1.0"/>
<ellipse class="k5" cx="295.7" cy="43.5" rx="0.8" ry="1.3"/>
<ellipse class="k4" cx="393.2" cy="11.8" rx="1.2" ry="0.8"/>
<ellipse class="k4" cx="316.9" cy="21.1" rx="1.3" ry="1.0"/>
<ellipse class="k5" cx="329.1" cy="61.3" rx="0.7" ry="1.1"/>
<circle class="k5" cx="370.9" cy="68.7" r="1.1"/>
<circle class="k3" cx="382.3" cy="63.1" r="1.3"/>
<circle class="k7" cx="330.5" cy="6.7" r="1.0"/>
<ellipse class="k4" cx="374.8" cy="73.9" rx="0.7" ry="1.1"/>
<ellipse class="k6" cx="350.0" cy="24.8" rx="1.3" ry="1.1"/>
<ellipse class="k3" cx="363.9" cy="59.2" rx="0.6" ry="1.0"/>
<ellipse class="k3" cx="344.4" cy="60.8" rx="0.7" ry="1.1"/>
<ellipse class="k6" cx="315.7" cy="55.1" rx="0.8" ry="1.2"/>
<ellipse class="k3" cx="335.2" cy="68.4" rx="1.4" ry="1.2"/>
<circle class="k3" cx="344.2" cy="23.8" r="1.3"/>
<ellipse class="k7" cx="378.3" cy="12.3" rx="1.0" ry="1.3"/>
<ellipse class="k5" cx="381.8" cy="32.4" rx="0.9" ry="1.2"/>
<ellipse class="k7" cx="365.0" cy="22.3" rx="0.7" ry="0.9"/>
<ellipse class="k6" cx="371.5" cy="47.5" rx="0.6" ry="1.0"/>
<circle class="k3" cx="394.3" cy="61.5" r="1.0"/>
<ellipse class="k7" cx="350.6" cy="16.3" rx="1.3" ry="0.8"/>
<circle class="k4" cx="384.2" cy="11.6" r="0.9"/>
<ellipse class="k5" cx="369.2" cy="11.7" rx="1.3" ry="1.0"/>
<ellipse class="k7" cx="380.4" cy="34.6" rx="1.4" ry="0.9"/>
<circle class="k6" cx="292.5" cy="34.3" r="1.1"/>
<ellipse class="k6" cx="324.5" cy="11.2" rx="1.1" ry="0.8"/>
<ellipse class="k5" cx="296.9" cy="15.6" rx="1.2" ry="1.1"/>
<circle class="k3" cx="364.6" cy="6.8" r="1.0"/>
<circle class="k3" cx="301.4" cy="58.9" r="1.3"/>
<circle class="k4" cx="306.0" cy="49.0" r="1.4"/>
<ellipse class="k6" cx="353.1" cy="12.0" rx="0.7" ry="1.0"/>
<ellipse class="k5" cx="398.6" cy="44.6" rx="1.3" ry="0.9"/>
<circle class="k7" cx="300.1" cy="48.6" r="0.8"/>
<ellipse class="k7" cx="335.2" cy="63.3" rx="0.8" ry="1.2"/>
<ellipse class="k3" cx="403.5" cy="35.7" rx="1.3" ry="0.9"/>
<circle class="k4" cx="304.4" cy="20.1" r="0.9"/>
<ellipse class="k7" cx="361.0" cy="55.8" rx="1.2" ry="0.9"/>
<ellipse class="k4" cx="365.3" cy="47.7" rx="0.7" ry="0.9"/>
<circle class="k3" cx="300.6" cy="31.9" r="1.2"/>
<ellipse class="k3" cx="371.5" cy="23.4" rx="0.8" ry="1.2"/>
<circle class="k7" cx="346.6" cy="15.7" r="1.3"/>
<circle class="k4" cx="354.5" cy="7.8" r="1.1"/>
<circle class="k4" cx="355.5" cy="53.8" r="1.0"/>
<ellipse class="k3" cx="391.3" cy="37.0" rx="1.3" ry="0.9"/>
<circle class="k6" cx="353.7" cy="44.4" r="1.0"/>
<ellipse class="k7" cx="358.5" cy="14.4" rx="1.3" ry="0.9"/>
<ellipse class="k4" cx="376.8" cy="30.9" rx="1.0" ry="0.8"/>
<circle class="k6" cx="291.9" cy="18.3" r="1.4"/>
<ellipse class="k5" cx="376.5" cy="64.0" rx="1.4" ry="1.1"/>
<ellipse class="k4" cx="306.7" cy="34.2" rx="0.7" ry="0.9"/>
<ellipse class="k5" cx="308.5" cy="41.6" rx="0.9" ry="1.0"/>
<ellipse class="k6" cx="372.5" cy="59.9" rx="0.9" ry="1.1"/>
<circle class="k4" cx="336.3" cy="48.7" r="1.2"/>
<ellipse class="k5" cx="392.1" cy="37.7" rx="1.4" ry="1.2"/>
<ellipse class="k5" cx="354.3" cy="68.0" rx="0.9" ry="1.2"/>
<circle class="k3" cx="325.7" cy="9.7" r="1.3"/>
<circle class="k4" cx="325.8" cy="60.1" r="1.3"/>
<ellipse class="k7" cx="316.5" cy="65.8" rx="1.1" ry="1.4"/>
<circle class="k6" cx="351.9" cy="51.0" r="1.4"/>
<ellipse class="k3" cx="389.4" cy="34.9" rx="1.3" ry="0.9"/>
<ellipse class="k3" cx="302.5" cy="10.9" rx="1.2" ry="0.8"/>
<ellipse class="k5" cx="399.3" cy="6.0" rx="0.7" ry="1.0"/>
<ellipse class="k7" cx="339.7" cy="36.8" rx="1.2" ry="0.8"/>
<ellipse class="k4" cx="293.6" cy="8.1" rx="1.0" ry="1.3"/>
<ellipse class="k6" cx="390.8" cy="19.9" rx="1.2" ry="1.3"/>
<ellipse class="k3" cx="386.1" cy="30.3" rx="1.1" ry="0.8"/>
<circle class="k5" cx="311.8" cy="49.3" r="0.9"/>
<ellipse class="k7" cx="324.0" cy="62.0" rx="1.0" ry="1.4"/>
<ellipse class="k6" cx="327.3" cy="71.6" rx="1.0" ry="1.3"/>
<circle class="k6" cx="302.3" cy="53.3" r="1.0"/>
<circle class="k7" cx="380.5" cy="31.5" r="1.2"/>
<ellipse class="k5" cx="402.3" cy="67.3" rx="0.7" ry="1.0"/>
<ellipse class="k5" cx="342.2" cy="11.2" rx="1.4" ry="0.9"/>
<circle class="k6" cx="358.2" cy="25.5" r="0.9"/>
<circle class="k7" cx="403.6" cy="19.0" r="0.9"/>
<circle class="k4" cx="403.6" cy="8.3" r="1.0"/>
<circle class="k4" cx="295.2" cy="10.4" r="1.2"/>
<circle class="k3" cx="379.7" cy="41.4" r="1.2"/>
<circle class="k4" cx="375.1" cy="42.4" r="1.1"/>
<circle class="k7" cx="315.7" cy="36.2" r="1.3"/>
<ellipse class="k7" cx="318.5" cy="43.3" rx="1.1" ry="1.3"/>
<circle class="k7" cx="357.9" cy="55.0" r="1.1"/>
<ellipse class="k5" cx="359.2" cy="47.7" rx="1.3" ry="1.0"/>
<ellipse class="k7" cx="296.7" cy="68.2" rx="1.2" ry="1.0"/>
<circle class="k3" cx="361.0" cy="9.7" r="1.1"/>
<ellipse class="k4" cx="379.4" cy="58.4" rx="1.1" ry="1.0"/>
<circle class="k5" cx="318.0" cy="16.9" r="1.2"/>
<circle class="k7" cx="325.1" cy="38.0" r="1.2"/>
<ellipse class="k5" cx="345.4" cy="58.1" rx="0.9" ry="1.4"/>
<ellipse class="k4" cx="288.6" cy="34.1" rx="1.2" ry="0.7"/>
<circle class="k3" cx="337.8" cy="11.2" r="0.9"/>
<ellipse class="k7" cx="315.0" cy="23.3" rx="0.8" ry="1.2"/>
<ellipse class="k4" cx="330.7" cy="29.1" rx="1.2" ry="1.4"/>
<ellipse class="k3" cx="356.6" cy="74.1" rx="1.3" ry="1.0"/>
<circle class="k4" cx="396.1" cy="18.1" r="1.3"/>
<ellipse class="k7" cx="379.5" cy="20.8" rx="1.1" ry="0.7"/>
<circle class="k4" cx="344.3" cy="33.4" r="1.1"/>
<ellipse class="k5" cx="404.2" cy="52.5" rx="0.9" ry="1.3"/>
<ellipse class="k6" cx="293.7" cy="24.9" rx="1.4" ry="1.2"/>
<ellipse class="k5" cx="348.0" cy="44.9" rx="0.8" ry="1.2"/>
<circle class="k5" cx="306.1" cy="70.2" r="1.1"/>
<ellipse class="k6" cx="290.6" cy="28.1" rx="1.1" ry="0.7"/>
<ellipse class="k4" cx="318.1" cy="66.2" rx="1.2" ry="0.9"/>
<ellipse class="k4" cx="293.0" cy="16.3" rx="0.7" ry="1.2"/>
<ellipse class="k4" cx="344.1" cy="53.5" rx="0.9" ry="1.2"/>
<ellipse class="k4" cx="366.0" cy="16.1" rx="1.0" ry="0.7"/>
<ellipse class="k3" cx="304.2" cy="41.4" rx="0.7" ry="1.1"/>
<circle class="k6" cx="313.4" cy="8.8" r="0.9"/>
<ellipse class="k5" cx="365.3" cy="10.6" rx="1.1" ry="1.3"/>
<circle class="k4" cx="399.8" cy="65.5" r="0.9"/>
<circle class="k6" cx="302.2" cy="39.8" r="1.1"/>
<circle class="k7" cx="314.1" cy="69.4" r="0.9"/>
<circle class="k6" cx="349.0" cy="56.9" r="1.2"/>
<ellipse class="k6" cx="370.1" cy="43.9" rx="0.8" ry="1.3"/>
<ellipse class="k6" cx="394.5" cy="68.5" rx="1.0" ry="0.8"/>
<ellipse class="k6" cx="343.0" cy="28.3" rx="0.6" ry="1.0"/>
<ellipse class="k3" cx="354.3" cy="23.9" rx="0.8" ry="1.2"/>
<circle class="k5" cx="328.1" cy="67.5" r="0.8"/>
<ellipse class="k4" cx="361.5" cy="48.5" rx="0.8" ry="1.1"/>
<ellipse class="k3" cx="391.0" cy="32.2" rx="0.8" ry="1.4"/>
<ellipse class="k6" cx="320.1" cy="39.9" rx="1.1" ry="0.7"/>
<ellipse class="k4" cx="314.9" cy="52.6" rx="1.0" ry="0.6"/>
<circle class="k3" cx="288.6" cy="43.5" r="1.2"/>
<ellipse class="k5" cx="391.5" cy="53.3" rx="0.9" ry="1.3"/>
<ellipse class="k7" cx="324.8" cy="55.0" rx="1.2" ry="1.1"/>
<ellipse class="k6" cx="306.8" cy="48.6" rx="0.9" ry="1.1"/>
<ellipse class="k7" cx="331.0" cy="51.8" rx="1.0" ry="1.1"/>
<circle class="k6" cx="395.4" cy="56.5" r="1.3"/>
<ellipse class="k4" cx="301.4" cy="36.9" rx="1.0" ry="1.3"/>
<ellipse class="k4" cx="389.8" cy="9.7" rx="1.0" ry="0.8"/>
<circle class="k7" cx="317.7" cy="49.5" r="0.9"/>
<ellipse class="k3" cx="386.6" cy="62.8" rx="1.2" ry="0.9"/>
<ellipse class="k6" cx="374.7" cy="24.4" rx="1.0" ry="0.7"/>
<ellipse class="k7" cx="315.2" cy="18.6" rx="0.9" ry="0.8"/>
<circle class="k7" cx="319.5" cy="24.6" r="0.9"/>
<ellipse class="k3" cx="293.9" cy="54.9" rx="0.6" ry="1.0"/>
<ellipse class="k4" cx="404.3" cy="14.2" rx="1.1" ry="0.7"/>
<circle class="k7" cx="308.2" cy="10.6" r="1.1"/>
<circle class="k7" cx="333.9" cy="48.3" r="1.3"/>
<ellipse class="k6" cx="352.0" cy="60.8" rx="0.7" ry="1.0"/>
<circle class="k3" cx="391.0" cy="35.6" r="0.9"/>
<ellipse class="k6" cx="305.0" cy="48.8" rx="0.7" ry="1.0"/>
<ellipse class="k5" cx="352.6" cy="44.3" rx="1.0" ry="0.6"/>
<circle class="k4" cx="288.7" cy="29.0" r="1.0"/>
<ellipse class="k3" cx="344.8" cy="34.4" rx="1.0" ry="1.3"/>
<ellipse class="k7" cx="360.2" cy="62.7" rx="0.7" ry="1.0"/>
<circle class="k5" cx="404.3" cy="36.4" r="1.2"/>
<ellipse class="k3" cx="398.5" cy="42.9" rx="0.9" ry="1.2"/>
<ellipse class="k5" cx="324.4" cy="41.2" rx="0.9" ry="0.6"/>
<circle class="k6" cx="377.8" cy="24.1" r="1.0"/>
<circle class="k4" cx="382.0" cy="62.7" r="1.3"/>
<circle class="k3" cx="335.2" cy="54.3" r="1.0"/>
<ellipse class="k6" cx="304.6" cy="28.2" rx="1.0" ry="1.3"/>
<ellipse class="k3" cx="361.4" cy="36.8" rx="1.1" ry="0.7"/>
<ellipse class="k3" cx="299.2" cy="28.9" rx="1.3" ry="0.9"/>
<ellipse class="k7" cx="323.8" cy="20.1" rx="0.7" ry="1.1"/>
<ellipse class="k3" cx="338.5" cy="6.6" rx="0.9" ry="1.2"/>
<ellipse class="k3" cx="386.3" cy="58.2" rx="0.6" ry="0.9"/>
<circle class="k4" cx="300.9" cy="73.6" r="1.1"/>
<ellipse class="k6" cx="379.4" cy="66.8" rx="0.8" ry="1.3"/>
<ellipse class="k4" cx="391.2" cy="59.3" rx="1.2" ry="0.7"/>
<ellipse class="k4" cx="394.6" cy="9.8" rx="0.9" ry="1.2"/>
<circle class="k4" cx="347.2" cy="44.9" r="1.0"/>
<ellipse class="k3" cx="339.1" cy="38.0" rx="1.1" ry="1.3"/>
<circle class="k3" cx="355.1" cy="41.3" r="0.8"/>
<ellipse class="k6" cx="293.6" cy="9.7" rx="0.9" ry="1.1"/>
<circle class="k7" cx="374.4" cy="27.4" r="1.3"/>
<ellipse class="k7" cx="376.1" cy="67.5" rx="1.0" ry="0.6"/>
<circle class="k5" cx="385.1" cy="60.6" r="1.2"/>
<ellipse class="k4" cx="371.3" cy="23.2" rx="1.3" ry="1.0"/>
<ellipse class="k4" cx="311.1" cy="25.2" rx="1.2" ry="0.8"/>
<ellipse class="k5" cx="390.6" cy="10.9" rx="1.1" ry="0.7"/>
<ellipse class="k6" cx="381.3" cy="16.4" rx="0.7" ry="1.1"/>
<ellipse class="k5" cx="399.8" cy="21.0" rx="1.0" ry="0.8"/>
<ellipse class="k7" cx="387.4" cy="48.3" rx="1.4" ry="0.8"/>
<circle class="k4" cx="350.4" cy="27.7" r="1.4"/>
<circle class="k3" cx="332.4" cy="61.9" r="1.2"/>
<ellipse class="k5" cx="312.6" cy="20.4" rx="1.3" ry="0.9"/>
<ellipse class="k7" cx="303.3" cy="13.9" rx="1.2" ry="1.4"/>
<circle class="k4" cx="289.1" cy="10.7" r="1.0"/>
<ellipse class="k6" cx="311.6" cy="10.9" rx="1.0" ry="0.8"/>
<ellipse class="k7" cx="341.6" cy="40.7" rx="1.4" ry="1.0"/>
<circle class="k5" cx="345.7" cy="14.1" r="1.0"/>
<ellipse class="k3" cx="367.2" cy="37.2" rx="1.4" ry="1.0"/>
<ellipse class="k6" cx="313.9" cy="49.8" rx="1.1" ry="0.8"/>
<ellipse class="k7" cx="322.4" cy="53.6" rx="0.9" ry="1.2"/>
<ellipse class="k3" cx="357.5" cy="65.3" rx="0.8" ry="1.1"/>
<ellipse class="k5" cx="300.4" cy="51.0" rx="1.1" ry="0.8"/>
<ellipse class="k5" cx="331.9" cy="55.5" rx="1.2" ry="0.9"/>
<ellipse class="k4" cx="366.2" cy="16.7" rx="0.9" ry="0.6"/>
<circle class="k4" cx="366.6" cy="47.5" r="1.4"/>
<ellipse class="k4" cx="338.8" cy="21.8" rx="0.8" ry="1.2"/>
<ellipse class="k4" cx="364.8" cy="60.1" rx="1.4" ry="1.1"/>
<circle class="k7" cx="331.4" cy="15.8" r="1.0"/>
<circle class="k4" cx="400.1" cy="53.7" r="1.3"/>
<ellipse class="k5" cx="378.8" cy="14.2" rx="1.1" ry="0.7"/>
<circle class="k5" cx="300.9" cy="34.3" r="1.2"/>
<ellipse class="k5" cx="323.4" cy="40.8" rx="0.8" ry="1.0"/>
<ellipse class="k4" cx="347.7" cy="27.1" rx="1.1" ry="0.8"/>
<ellipse class="k5" cx="294.5" cy="20.9" rx="0.9" ry="1.1"/>
<ellipse class="k3" cx="382.8" cy="40.5" rx="0.8" ry="1.0"/>
<ellipse class="k7" cx="359.7" cy="65.2" rx="1.1" ry="1.4"/>
<ellipse class="k3" cx="381.3" cy="13.5" rx="1.0" ry="1.3"/>
<circle class="k5" cx="291.5" cy="13.6" r="1.1"/>
<ellipse class="k4" cx="333.7" cy="26.5" rx="1.0" ry="0.8"/>
<circle class="k3" cx="326.6" cy="39.5" r="1.2"/>
<circle class="k3" cx="402.8" cy="69.5" r="0.8"/>
<ellipse class="k4" cx="318.4" cy="31.2" rx="0.9" ry="1.1"/>
<ellipse class="k4" cx="327.2" cy="14.0" rx="0.9" ry="1.1"/>
<ellipse class="k6" cx="352.2" cy="33.4" rx="0.6" ry="1.0"/>
<ellipse class="k6" cx="330.2" cy="71.1" rx="1.2" ry="0.9"/>
<circle class="k6" cx="335.7" cy="72.2" r="0.9"/>
<ellipse class="k5" cx="400.7" cy="53.5" rx="1.3" ry="0.9"/>
<circle class="k5" cx="325.0" cy="40.1" r="1.0"/>
<circle class="k6" cx="313.1" cy="46.4" r="1.3"/>
<ellipse class="k6" cx="335.2" cy="25.6" rx="1.2" ry="0.8"/>
<circle class="k5" cx="326.5" cy="27.7" r="1.3"/>
<ellipse class="k6" cx="405.0" cy="39.6" rx="0.7" ry="1.1"/>
<circle class="k5" cx="362.8" cy="7.5" r="1.4"/>
<ellipse class="k5" cx="384.4" cy="38.8" rx="1.1" ry="0.9"/>
<ellipse class="k4" cx="308.3" cy="11.7" rx="1.2" ry="0.8"/>
<circle class="k6" cx="381.8" cy="36.5" r="1.3"/>
<ellipse class="k3" cx="366.0" cy="43.5" rx="0.6" ry="1.0"/>
<ellipse class="k5" cx="301.5" cy="65.5" rx="0.7" ry="0.9"/>
<circle class="k7" cx="306.3" cy="24.8" r="1.1"/>
<circle class="k4" cx="367.0" cy="69.6" r="1.0"/>
<ellipse class="k6" cx="300.5" cy="56.9" rx="0.8" ry="1.0"/>
<circle class="k4" cx="384.4" cy="50.6" r="1.1"/>
<ellipse class="k4" cx="355.3" cy="63.7" rx="0.9" ry="1.1"/>
<ellipse class="k3" cx="326.5" cy="53.8" rx="1.0" ry="0.7"/>
<ellipse class="k7" cx="293.5" cy="69.1" rx="0.9" ry="1.3"/>
<circle class="k4" cx="338.7" cy="48.3" r="1.2"/>
<ellipse class="k3" cx="333.4" cy="14.1" rx="1.0" ry="0.8"/>
<ellipse class="k6" cx="387.2" cy="8.4" rx="1.2" ry="1.0"/>
<ellipse class="k7" cx="345.4" cy="36.6" rx="1.0" ry="1.4"/>
<ellipse class="k5" cx="379.8" cy="21.0" rx="1.0" ry="0.8"/>
<circle class="k6" cx="307.3" cy="19.0" r="1.0"/>
<ellipse class="k6" cx="330.7" cy="71.1" rx="1.3" ry="0.9"/>
<circle class="k6" cx="301.1" cy="30.5" r="1.0"/>
<ellipse class="k6" cx="317.7" cy="15.0" rx="0.8" ry="1.1"/>
<circle class="k7" cx="398.4" cy="16.4" r="1.1"/>
<ellipse class="k3" cx="359.4" cy="43.2" rx="1.3" ry="1.0"/>
<circle class="k3" cx="378.7" cy="23.8" r="0.9"/>
<circle class="k3" cx="315.5" cy="37.0" r="1.1"/>
<ellipse class="k3" cx="319.8" cy="55.8" rx="1.3" ry="0.8"/>
<circle class="k3" cx="398.0" cy="51.0" r="0.9"/>
<ellipse class="k5" cx="400.5" cy="19.4" rx="0.8" ry="1.1"/>
<circle class="k3" cx="304.6" cy="34.3" r="1.0"/>
<ellipse class="k3" cx="351.5" cy="35.9" rx="1.2" ry="0.8"/>
<ellipse class="k5" cx="346.5" cy="19.5" rx="1.0" ry="1.3"/>
<circle class="k6" cx="369.2" cy="8.0" r="1.3"/>
<ellipse class="k7" cx="318.1" cy="21.0" rx="1.0" ry="0.7"/>
<ellipse class="k3" cx="388.5" cy="70.0" rx="0.9" ry="0.7"/>
<ellipse class="k5" cx="359.8" cy="48.0" rx="1.4" ry="0.9"/>
<circle class="k7" cx="300.9" cy="26.4" r="1.0"/>
<ellipse class="k5" cx="385.1" cy="53.2" rx="1.2" ry="1.0"/>
<circle class="k4" cx="288.3" cy="10.7" r="1.3"/>
<circle class="k5" cx="329.1" cy="21.0" r="1.1"/>
<circle class="k7" cx="356.6" cy="42.0" r="0.9"/>
<ellipse class="k7" cx="396.9" cy="34.4" rx="0.7" ry="1.0"/>
<circle class="k3" cx="379.7" cy="28.8" r="0.9"/>
<ellipse class="k3" cx="355.3" cy="45.3" rx="0.7" ry="0.9"/>
<circle class="k5" cx="326.7" cy="55.8" r="1.2"/>
<ellipse class="k7" cx="368.2" cy="40.5" rx="1.1" ry="0.7"/>
<circle class="k7" cx="331.5" cy="30.4" r="1.4"/>
<circle class="k6" cx="337.2" cy="51.9" r="1.0"/>
<circle class="k5" cx="353.9" cy="70.7" r="0.9"/>
<circle class="k7" cx="346.5" cy="32.1" r="0.9"/>
<ellipse class="k7" cx="306.9" cy="39.8" rx="0.7" ry="1.0"/>
<ellipse class="k7" cx="304.8" cy="54.9" rx="0.9" ry="1.4"/>
<ellipse class="k5" cx="391.3" cy="55.8" rx="1.1" ry="1.4"/>
<circle class="k5" cx="396.1" cy="16.0" r="1.3"/>
<ellipse class="k3" cx="302.6" cy="28.0" rx="1.2" ry="0.8"/>
<ellipse class="k5" cx="339.9" cy="61.0" rx="1.0" ry="0.7"/>
<circle class="k7" cx="297.2" cy="27.2" r="1.3"/>
<ellipse class="k3" cx="400.9" cy="49.7" rx="1.0" ry="0.8"/>
<ellipse class="k4" cx="341.9" cy="47.3" rx="1.0" ry="1.3"/>
<ellipse class="k7" cx="402.4" cy="7.7" rx="1.0" ry="1.3"/>
<circle class="k4" cx="293.5" cy="33.5" r="1.3"/>
<ellipse class="k5" cx="381.5" cy="40.2" rx="1.0" ry="1.2"/>
<circle class="k4" cx="307.6" cy="72.6" r="1.1"/>
<ellipse class="k3" cx="317.5" cy="56.9" rx="1.0" ry="0.6"/>
<ellipse class="k7" cx="336.9" cy="43.0" rx="1.1" ry="0.8"/>
<ellipse class="k3" cx="367.4" cy="48.6" rx="1.2" ry="1.3"/>
<circle class="k3" cx="403.2" cy="25.8" r="0.9"/>
<ellipse class="k5" cx="335.3" cy="54.1" rx="1.1" ry="0.9"/>
<circle class="k4" cx="328.7" cy="44.3" r="1.1"/>
<ellipse class="k3" cx="368.3" cy="51.4" rx="1.1" ry="0.9"/>
<ellipse class="k5" cx="342.2" cy="12.2" rx="1.1" ry="0.9"/>
<circle class="k4" cx="320.9" cy="36.3" r="0.9"/>
<ellipse class="k3" cx="381.4" cy="23.4" rx="1.1" ry="1.4"/>
<ellipse class="k3" cx="295.0" cy="11.0" rx="0.9" ry="1.3"/>
<ellipse class="k6" cx="346.9" cy="69.5" rx="1.1" ry="1.2"/>
<circle class="k6" cx="402.5" cy="68.8" r="1.2"/>
<ellipse class="k5" cx="381.8" cy="18.1" rx="0.9" ry="1.3"/>
<ellipse class="k4" cx="399.9" cy="51.1" rx="1.1" ry="1.0"/>
<circle class="k6" cx="397.1" cy="50.1" r="0.8"/>
<circle class="k3" cx="390.0" cy="27.3" r="1.0"/>
<ellipse class="k4" cx="364.0" cy="57.3" rx="1.0" ry="1.2"/>
<circle class="k4" cx="379.9" cy="65.8" r="1.2"/>
<circle class="k7" cx="314.5" cy="54.7" r="0.9"/>
<ellipse class="k4" cx="315.2" cy="48.4" rx="0.6" ry="1.0"/>
<ellipse class="k6" cx="320.1" cy="18.8" rx="1.2" ry="1.1"/>
<ellipse class="k6" cx="326.6" cy="9.7" rx="0.9" ry="0.7"/>
<ellipse class="k4" cx="400.6" cy="59.0" rx="1.1" ry="0.8"/>
<ellipse class="k3" cx="295.9" cy="12.6" rx="1.3" ry="0.8"/>
<ellipse class="k5" cx="317.4" cy="19.6" rx="0.8" ry="1.2"/>
<circle class="k3" cx="327.9" cy="71.7" r="1.0"/>
<ellipse class="k5" cx="336.6" cy="33.9" rx="1.0" ry="0.8"/>
<ellipse class="k3" cx="338.3" cy="38.6" rx="1.1" ry="0.9"/>
<circle class="k7" cx="393.6" cy="23.2" r="1.2"/>
<ellipse class="k3" cx="309.4" cy="73.6" rx="1.2" ry="0.8"/>
<ellipse class="k4" cx="373.1" cy="27.9" rx="1.3" ry="1.1"/>
<ellipse class="k5" cx="295.3" cy="72.8" rx="0.9" ry="1.4"/>
<ellipse class="k4" cx="352.5" cy="6.1" rx="1.1" ry="1.0"/>
<circle class="k3" cx="346.4" cy="59.8" r="0.9"/>
<ellipse class="k4" cx="336.0" cy="12.0" rx="1.2" ry="0.8"/>
<ellipse class="k7" cx="290.2" cy="11.0" rx="0.9" ry="1.1"/>
<ellipse class="k5" cx="387.7" cy="39.3" rx="1.2" ry="0.9"/>
<circle class="k4" cx="327.4" cy="7.5" r="1.3"/>
<ellipse class="k7" cx="389.8" cy="19.1" rx="0.6" ry="0.9"/>
<ellipse class="k4" cx="330.9" cy="35.9" rx="1.1" ry="0.8"/>
<circle class="k3" cx="390.1" cy="48.6" r="0.9"/>
<circle class="k4" cx="341.3" cy="31.8" r="1.3"/>
<ellipse class="k3" cx="391.7" cy="11.1" rx="1.0" ry="0.7"/>
<ellipse class="k5" cx="364.8" cy="51.8" rx="1.0" ry="1.1"/>
<circle class="k4" cx="351.2" cy="73.1" r="0.9"/>
<ellipse class="k6" cx="328.4" cy="35.2" rx="0.9" ry="0.7"/>
<ellipse class="k7" cx="404.3" cy="19.5" rx="1.4" ry="0.8"/>
<circle class="k6" cx="386.0" cy="32.8" r="1.2"/>
<ellipse class="k5" cx="355.8" cy="23.2" rx="1.3" ry="1.0"/>
<circle class="k6" cx="304.1" cy="59.5" r="1.1"/>
<ellipse class="k4" cx="376.6" cy="29.5" rx="1.4" ry="1.0"/>
<ellipse class="k3" cx="365.7" cy="25.8" rx="1.0" ry="1.3"/>
<ellipse class="k6" cx="293.8" cy="37.7" rx="0.9" ry="1.2"/>
<ellipse class="k6" cx="329.4" cy="58.0" rx="0.9" ry="0.7"/>
<ellipse class="k5" cx="385.0" cy="32.0" rx="1.0" ry="0.8"/>
<circle class="k3" cx="351.2" cy="33.3" r="1.1"/>
<ellipse class="k7" cx="317.4" cy="18.2" rx="1.0" ry="0.6"/>
<ellipse class="k6" cx="319.1" cy="39.5" rx="1.2" ry="0.8"/>
<ellipse class="k7" cx="312.9" cy="54.2" rx="1.2" ry="0.9"/>
<circle class="k6" cx="387.0" cy="54.0" r="0.9"/>
<ellipse class="k7" cx="359.4" cy="73.6" rx="1.0" ry="0.7"/>
<circle class="k7" cx="363.8" cy="69.1" r="1.2"/>
<ellipse class="k7" cx="395.1" cy="52.4" rx="1.0" ry="0.7"/>
<ellipse class="k4" cx="378.1" cy="27.8" rx="1.1" ry="1.3"/>
<ellipse class="k3" cx="372.1" cy="9.2" rx="1.2" ry="0.8"/>
<ellipse class="k4" cx="398.1" cy="7.7" rx="1.1" ry="0.9"/>
<ellipse class="k3" cx="358.3" cy="65.1" rx="0.6" ry="0.9"/>
<ellipse class="k4" cx="308.8" cy="24.7" rx="1.1" ry="1.2"/>
<ellipse class="k6" cx="379.2" cy="21.1" rx="0.6" ry="0.9"/>
<ellipse class="k7" cx="323.2" cy="7.0" rx="0.8" ry="1.1"/>
<ellipse class="k3" cx="301.4" cy="64.0" rx="0.9" ry="1.1"/>
<ellipse class="k6" cx="381.6" cy="36.4" rx="1.3" ry="0.9"/>
<ellipse class="k7" cx="347.1" cy="38.1" rx="1.2" ry="0.9"/>
<ellipse class="k4" cx="321.5" cy="26.3" rx="0.9" ry="1.1"/>
<circle class="k6" cx="321.5" cy="19.1" r="1.3"/>
<ellipse class="k7" cx="375.2" cy="37.1" rx="1.1" ry="0.9"/>
<ellipse class="k6" cx="296.9" cy="22.9" rx="1.4" ry="1.1"/>
<circle class="k5" cx="292.7" cy="25.8" r="1.1"/>
<ellipse class="k3" cx="289.8" cy="16.2" rx="0.9" ry="1.1"/>
<ellipse class="k7" cx="403.8" cy="67.4" rx="1.0" ry="1.2"/>
<ellipse class="k3" cx="296.2" cy="57.0" rx="1.0" ry="0.8"/>
<ellipse class="k7" cx="383.1" cy="73.8" rx="1.2" ry="1.4"/>
<ellipse class="k3" cx="358.7" cy="22.6" rx="1.1" ry="0.7"/>
<circle class="k7" cx="300.0" cy="49.6" r="1.0"/>
<ellipse class="k5" cx="294.9" cy="8.3" rx="0.9" ry="1.3"/>
<circle class="k7" cx="374.7" cy="66.7" r="1.2"/>
<circle class="k6" cx="325.5" cy="13.9" r="0.9"/>
<circle class="k4" cx="332.9" cy="62.4" r="0.9"/>
<ellipse class="k5" cx="364.7" cy="8.4" rx="0.8" ry="1.2"/>
<ellipse class="k5" cx="295.9" cy="18.8" rx="1.0" ry="0.7"/>
<ellipse class="k4" cx="402.6" cy="51.9" rx="1.2" ry="0.9"/>
<ellipse class="k5" cx="289.0" cy="34.1" rx="0.8" ry="1.2"/>
<ellipse class="k3" cx="291.5" cy="73.3" rx="0.8" ry="1.1"/>
<ellipse class="k3" cx="363.3" cy="47.6" rx="1.0" ry="0.6"/>
<ellipse class="k5" cx="361.4" cy="36.7" rx="1.1" ry="0.7"/>
<ellipse class="k7" cx="303.4" cy="32.3" rx="0.8" ry="1.0"/>
<circle class="k7" cx="377.1" cy="55.5" r="0.9"/>
<circle class="k5" cx="360.0" cy="67.4" r="0.9"/>
<circle class="k7" cx="304.4" cy="29.4" r="1.4"/>
<ellipse class="k7" cx="321.7" cy="19.1" rx="1.0" ry="0.7"/>
<ellipse class="k3" cx="296.5" cy="62.6" rx="1.0" ry="1.3"/>
<circle class="k6" cx="299.5" cy="6.4" r="1.0"/>
<circle class="k6" cx="397.4" cy="35.0" r="1.2"/>
<circle class="k5" cx="398.0" cy="15.0" r="1.0"/>
<ellipse class="k5" cx="394.3" cy="8.8" rx="1.0" ry="0.7"/>
<ellipse class="k6" cx="369.9" cy="69.3" rx="1.0" ry="0.8"/>
<circle class="k3" cx="301.4" cy="73.1" r="1.2"/>
<circle class="k7" cx="367.2" cy="45.5" r="1.3"/>
<ellipse class="k3" cx="386.2" cy="50.9" rx="0.9" ry="1.4"/>
<ellipse class="k7" cx="298.7" cy="59.2" rx="1.2" ry="0.9"/>
<ellipse class="k5" cx="325.9" cy="47.6" rx="1.0" ry="0.8"/>
<ellipse class="k7" cx="318.9" cy="31.0" rx="1.2" ry="0.8"/>
<ellipse class="k6" cx="332.6" cy="47.6" rx="1.3" ry="0.8"/>
<ellipse class="k7" cx="363.1" cy="38.1" rx="0.7" ry="1.2"/>
<ellipse class="k6" cx="381.8" cy="18.2" rx="1.1" ry="0.9"/>
<circle class="k3" cx="325.3" cy="33.2" r="0.9"/>
<ellipse class="k7" cx="305.9" cy="59.6" rx="1.4" ry="0.9"/>
<ellipse class="k6" cx="368.2" cy="34.9" rx="1.1" ry="1.3"/>
<ellipse class="k6" cx="401.3" cy="10.0" rx="0.6" ry="0.9"/>
<ellipse class="k5" cx="368.1" cy="43.5" rx="1.0" ry="1.3"/>
<circle class="k6" cx="343.8" cy="12.9" r="1.1"/>
<ellipse class="k6" cx="303.2" cy="47.3" rx="1.0" ry="1.3"/>
<circle class="k6" cx="391.5" cy="44.0" r="1.2"/>
<ellipse class="k4" cx="321.7" cy="59.0" rx="1.0" ry="1.2"/>
<ellipse class="k3" cx="387.7" cy="39.0" rx="0.9" ry="1.4"/>
<circle class="k6" cx="303.6" cy="47.6" r="1.2"/>
<ellipse class="k4" cx="296.8" cy="47.7" rx="1.1" ry="0.8"/>
<ellipse class="k4" cx="396.8" cy="52.7" rx="0.8" ry="1.3"/>
<ellipse class="k5" cx="350.5" cy="71.9" rx="1.4" ry="1.1"/>
<ellipse class="k7" cx="358.5" cy="58.3" rx="0.8" ry="1.1"/>
<ellipse class="k5" cx="373.3" cy="6.2" rx="0.6" ry="1.0"/>
<circle class="k4" cx="392.2" cy="57.3" r="0.8"/>
<ellipse class="k4" cx="309.6" cy="73.2" rx="1.0" ry="0.6"/>
<circle class="k7" cx="379.3" cy="13.5" r="0.8"/>
<ellipse class="k4" cx="385.0" cy="68.4" rx="0.8" ry="1.0"/>
<circle class="k3" cx="312.5" cy="50.1" r="0.9"/>
<circle class="k3" cx="309.3" cy="10.1" r="1.1"/>
<ellipse class="k7" cx="316.1" cy="63.8" rx="0.9" ry="1.2"/>
<circle class="k6" cx="352.7" cy="27.7" r="1.0"/>
<ellipse class="k3" cx="367.0" cy="65.5" rx="0.9" ry="1.4"/>
<ellipse class="k6" cx="299.4" cy="17.6" rx="1.3" ry="1.0"/>
<ellipse class="k5" cx="311.4" cy="11.3" rx="0.9" ry="1.0"/>
<circle class="k4" cx="370.3" cy="47.0" r="1.2"/>
<ellipse class="k6" cx="335.7" cy="50.4" rx="0.8" ry="1.1"/>
<circle class="k6" cx="329.4" cy="30.1" r="1.3"/>
<ellipse class="k7" cx="333.3" cy="50.0" rx="0.7" ry="1.0"/>
<ellipse class="k3" cx="395.8" cy="26.7" rx="0.7" ry="1.1"/>
<circle class="k5" cx="392.4" cy="11.8" r="0.9"/>
<ellipse class="k6" cx="329.4" cy="38.4" rx="0.7" ry="1.0"/>
<ellipse class="k4" cx="323.9" cy="38.9" rx="1.0" ry="0.8"/>
<circle class="k5" cx="310.6" cy="14.2" r="0.9"/>
<ellipse class="k4" cx="316.5" cy="38.0" rx="1.1" ry="0.8"/>
<circle class="k3" cx="329.5" cy="72.6" r="1.1"/>
<ellipse class="k3" cx="302.6" cy="29.4" rx="1.2" ry="0.8"/>
<circle class="k6" cx="299.0" cy="34.1" r="1.0"/>
<ellipse class="k5" cx="399.9" cy="57.9" rx="1.2" ry="1.0"/>
<ellipse class="k3" cx="306.7" cy="42.3" rx="1.1" ry="0.9"/>
<ellipse class="k5" cx="354.7" cy="60.0" rx="0.8" ry="1.3"/>
<ellipse class="k7" cx="388.8" cy="71.9" rx="0.8" ry="1.3"/>
<ellipse class="k4" cx="354.1" cy="25.1" rx="1.3" ry="0.9"/>
<circle class="k6" cx="288.3" cy="43.5" r="0.9"/>
<ellipse class="k7" cx="363.9" cy="51.7" rx="0.9" ry="1.3"/>
<ellipse class="k3" cx="338.2" cy="8.9" rx="0.9" ry="0.7"/>
<ellipse class="k4" cx="311.3" cy="42.5" rx="1.2" ry="0.7"/>
<ellipse class="k4" cx="361.4" cy="38.6" rx="1.2" ry="1.0"/>
<ellipse class="k5" cx="397.7" cy="20.3" rx="0.6" ry="1.0"/>
<ellipse class="k3" cx="394.5" cy="38.5" rx="0.7" ry="1.0"/>
<ellipse class="k4" cx="378.8" cy="35.9" rx="0.9" ry="1.1"/>
<circle class="k7" cx="347.3" cy="71.2" r="1.3"/>
<ellipse class="k4" cx="293.5" cy="32.5" rx="0.7" ry="1.1"/>
<ellipse class="k5" cx="366.3" cy="21.4" rx="0.7" ry="1.1"/>
<circle class="k7" cx="324.5" cy="15.4" r="1.1"/>
<circle class="k5" cx="309.7" cy="29.4" r="1.0"/>
<ellipse class="k5" cx="311.5" cy="31.9" rx="1.1" ry="0.7"/>
<circle class="k5" cx="341.0" cy="30.3" r="1.0"/>
<circle class="k6" cx="395.7" cy="47.2" r="1.3"/>
<ellipse class="k3" cx="311.6" cy="61.1" rx="0.7" ry="1.0"/>
<circle class="k5" cx="367.7" cy="20.0" r="1.3"/>
<ellipse class="k4" cx="322.7" cy="68.5" rx="1.0" ry="1.3"/>
<ellipse class="k5" cx="296.5" cy="22.8" rx="0.9" ry="1.3"/>
<ellipse class="k3" cx="378.7" cy="27.1" rx="1.0" ry="0.7"/>
<ellipse class="k4" cx="322.2" cy="7.2" rx="0.9" ry="1.2"/>
<circle class="k7" cx="299.0" cy="48.6" r="0.8"/>
<circle class="k4" cx="291.6" cy="38.9" r="0.9"/>
<ellipse class="k4" cx="350.8" cy="17.1" rx="1.1" ry="0.8"/>
<ellipse class="k7" cx="299.5" cy="32.5" rx="1.0" ry="0.8"/>
<ellipse class="k5" cx="366.9" cy="37.6" rx="1.2" ry="1.0"/>
<ellipse class="k3" cx="385.5" cy="62.6" rx="1.2" ry="1.0"/>
<ellipse class="k7" cx="343.7" cy="31.7" rx="1.4" ry="0.9"/>
<circle class="k4" cx="392.9" cy="58.1" r="1.0"/>
<circle class="k6" cx="289.0" cy="21.4" r="1.3"/>
<circle class="k3" cx="400.4" cy="34.0" r="1.1"/>
<ellipse class="k4" cx="297.2" cy="36.3" rx="1.0" ry="0.7"/>
<ellipse class="k5" cx="397.4" cy="14.5" rx="1.1" ry="0.8"/>
<ellipse class="k6" cx="309.5" cy="32.3" rx="0.9" ry="1.2"/>
<circle class="k7" cx="398.0" cy="69.8" r="1.3"/>
<circle class="k6" cx="311.3" cy="68.6" r="1.1"/>
<ellipse class="k5" cx="324.7" cy="7.3" rx="0.9" ry="0.6"/>
<ellipse class="k3" cx="365.1" cy="12.8" rx="1.0" ry="0.6"/>
<ellipse class="k6" cx="300.2" cy="72.2" rx="1.2" ry="1.4"/>
<ellipse class="k6" cx="377.8" cy="40.9" rx="1.0" ry="0.8"/>
<circle class="k5" cx="374.8" cy="15.3" r="1.0"/>
<circle class="k3" cx="399.2" cy="69.4" r="1.3"/>
<circle class="k4" cx="367.7" cy="66.4" r="1.2"/>
<circle class="k4" cx="295.4" cy="56.0" r="1.1"/>
<ellipse class="k5" cx="388.0" cy="19.7" rx="0.8" ry="1.1"/>
<ellipse class="k7" cx="377.1" cy="31.9" rx="1.3" ry="1.0"/>
<ellipse class="k4" cx="340.9" cy="52.6" rx="0.8" ry="1.2"/>
<circle class="k3" cx="395.6" cy="63.2" r="1.0"/>
<circle class="k6" cx="394.8" cy="52.4" r="0.9"/>
<ellipse class="k5" cx="359.9" cy="30.3" rx="1.1" ry="0.7"/>
<ellipse class="k5" cx="387.4" cy="43.6" rx="0.7" ry="0.9"/>
<ellipse class="k3" cx="400.3" cy="61.7" rx="1.1" ry="1.4"/>
<ellipse class="k6" cx="358.5" cy="17.6" rx="1.0" ry="1.3"/>
<circle class="k7" cx="361.2" cy="73.5" r="1.2"/>
<ellipse class="k6" cx="342.2" cy="67.5" rx="0.7" ry="1.1"/>
<ellipse class="k3" cx="295.3" cy="45.0" rx="1.1" ry="0.7"/>
<ellipse class="k5" cx="323.9" cy="33.1" rx="0.8" ry="1.0"/>
<ellipse class="k5" cx="327.8" cy="72.9" rx="0.8" ry="1.0"/>
<ellipse class="k3" cx="349.3" cy="34.5" rx="1.2" ry="0.9"/>
<ellipse class="k3" cx="319.3" cy="42.6" rx="0.7" ry="0.9"/>
<ellipse class="k5" cx="303.8" cy="27.3" rx="0.8" ry="1.1"/>
<ellipse class="k3" cx="386.3" cy="73.8" rx="1.3" ry="0.9"/>
<ellipse class="k5" cx="339.4" cy="37.8" rx="1.1" ry="0.8"/>
<circle class="k7" cx="402.8" cy="32.4" r="0.8"/>
<circle class="k3" cx="308.1" cy="37.1" r="1.1"/>
<ellipse class="k5" cx="403.9" cy="66.9" rx="1.4" ry="1.0"/>
<ellipse class="k7" cx="358.3" cy="61.5" rx="1.1" ry="0.9"/>
<circle class="k4" cx="372.0" cy="42.1" r="0.8"/>
<ellipse class="k5" cx="388.3" cy="39.9" rx="1.1" ry="0.8"/>
<circle class="k6" cx="396.3" cy="52.4" r="1.0"/>
<ellipse class="k6" cx="372.2" cy="63.6" rx="1.0" ry="0.8"/>
<ellipse class="k5" cx="368.6" cy="26.1" rx="0.7" ry="0.9"/>
<circle class="k4" cx="299.9" cy="12.2" r="1.3"/>
<ellipse class="k6" cx="307.3" cy="9.4" rx="1.2" ry="1.0"/>
<circle class="k3" cx="319.9" cy="11.8" r="0.9"/>
<ellipse class="k3" cx="337.2" cy="31.2" rx="1.4" ry="1.0"/>
<ellipse class="k7" cx="338.5" cy="37.7" rx="1.1" ry="0.9"/>
<circle class="k7" cx="370.2" cy="21.9" r="1.2"/>
<ellipse class="k4" cx="322.7" cy="40.5" rx="0.7" ry="1.1"/>
<ellipse class="k5" cx="294.2" cy="31.3" rx="0.8" ry="1.4"/>
<circle class="k4" cx="288.5" cy="68.8" r="1.3"/>
<ellipse class="k7" cx="316.1" cy="64.4" rx="0.8" ry="1.0"/>
<circle class="k4" cx="339.8" cy="61.3" r="1.0"/>
<ellipse class="k4" cx="384.4" cy="24.2" rx="0.9" ry="1.2"/>
<ellipse class="k6" cx="398.9" cy="53.6" rx="0.7" ry="1.0"/>
<ellipse class="k3" cx="314.3" cy="73.7" rx="1.2" ry="0.9"/>
<circle class="k7" cx="302.3" cy="70.1" r="1.3"/>
<ellipse class="k7" cx="308.1" cy="55.7" rx="0.9" ry="1.4"/>
<circle class="k5" cx="343.2" cy="29.7" r="1.2"/>
<ellipse class="k3" cx="304.2" cy="15.2" rx="1.2" ry="1.0"/>
<ellipse class="k7" cx="304.2" cy="26.8" rx="0.8" ry="1.0"/>
<circle class="k7" cx="367.8" cy="61.4" r="1.1"/>
<ellipse class="k7" cx="325.2" cy="19.8" rx="0.9" ry="1.1"/>
<circle class="k6" cx="322.0" cy="35.5" r="1.3"/>
<circle class="k3" cx="323.5" cy="43.8" r="1.4"/>
<ellipse class="k4" cx="305.2" cy="45.0" rx="0.7" ry="0.9"/>
<ellipse class="k5" cx="344.3" cy="20.3" rx="0.9" ry="0.7"/>
<circle class="k5" cx="398.8" cy="14.4" r="1.2"/>
<ellipse class="k5" cx="304.2" cy="40.8" rx="0.8" ry="1.2"/>
<ellipse class="k3" cx="359.4" cy="65.4" rx="0.8" ry="1.2"/>
<ellipse class="k4" cx="356.5" cy="50.3" rx="0.8" ry="1.2"/>
<ellipse class="k7" cx="299.4" cy="57.3" rx="0.6" ry="1.0"/>
<ellipse class="k5" cx="353.5" cy="34.0" rx="0.9" ry="1.4"/>
<ellipse class="k6" cx="336.3" cy="12.4" rx="1.3" ry="1.0"/>
<circle class="k6" cx="355.5" cy="22.9" r="1.2"/>
<ellipse class="k7" cx="373.2" cy="44.5" rx="1.0" ry="0.7"/>
<ellipse class="k5" cx="392.4" cy="29.7" rx="1.1" ry="1.4"/>
<circle class="k5" cx="324.5" cy="13.8" r="0.8"/>
<ellipse class="k5" cx="310.5" cy="52.0" rx="1.1" ry="1.3"/>
<ellipse class="k3" cx="385.0" cy="63.2" rx="1.4" ry="1.2"/>
<ellipse class="k4" cx="315.3" cy="48.3" rx="0.8" ry="1.0"/>
<ellipse class="k4" cx="389.1" cy="55.3" rx="0.6" ry="1.0"/>
<circle class="k5" cx="304.1" cy="61.2" r="1.0"/>
<ellipse class="k4" cx="367.4" cy="44.2" rx="0.8" ry="1.2"/>
<ellipse class="k4" cx="324.7" cy="13.3" rx="0.8" ry="1.4"/>
<circle class="k7" cx="343.2" cy="71.5" r="1.2"/>
<circle class="k3" cx="289.1" cy="51.3" r="1.0"/>
<ellipse class="k3" cx="381.1" cy="59.7" rx="1.1" ry="0.7"/>
<ellipse class="k3" cx="368.6" cy="20.8" rx="1.3" ry="1.1"/>
<ellipse class="k4" cx="319.6" cy="57.7" rx="1.0" ry="0.7"/>
<circle class="k4" cx="374.0" cy="55.3" r="1.0"/>
<ellipse class="k6" cx="348.8" cy="29.2" rx="0.8" ry="1.0"/>
<circle class="k4" cx="357.3" cy="55.2" r="1.1"/>
<ellipse class="k5" cx="358.7" cy="49.4" rx="1.2" ry="1.0"/>
</g>
</g>
<clipPath id="c12"><rect x="404" y="9" width="110.0" height="62.5"/></clipPath>
<g clip-path="url(#c12)"><rect x="404" y="9" width="110.0" height="62.5" fill="#dcdef0"/>
<g filter="url(#bm)">
<ellipse class="k8" cx="456.1" cy="51.0" rx="2.6" ry="4.0"/>
<ellipse class="k9" cx="457.0" cy="50.1" rx="3.2" ry="3.4"/>
<ellipse class="k9" cx="477.7" cy="16.0" rx="3.3" ry="2.2"/>
<ellipse class="k9" cx="467.8" cy="19.7" rx="3.5" ry="3.3"/>
<ellipse class="k8" cx="403.2" cy="10.2" rx="3.8" ry="4.7"/>
<ellipse class="k10" cx="510.8" cy="13.7" rx="2.1" ry="3.3"/>
<ellipse class="k9" cx="465.7" cy="72.9" rx="4.7" ry="3.8"/>
<ellipse class="k9" cx="447.5" cy="34.7" rx="3.0" ry="3.8"/>
<ellipse class="k8" cx="475.3" cy="11.7" rx="2.4" ry="2.6"/>
<ellipse class="k8" cx="501.5" cy="32.4" rx="2.1" ry="2.9"/>
<ellipse class="k8" cx="460.3" cy="61.5" rx="3.5" ry="2.1"/>
<ellipse class="k10" cx="404.8" cy="7.8" rx="2.5" ry="4.0"/>
<ellipse class="k8" cx="412.9" cy="43.7" rx="2.2" ry="2.5"/>
<ellipse class="k8" cx="458.8" cy="47.2" rx="3.4" ry="4.2"/>
<ellipse class="k9" cx="433.7" cy="38.6" rx="4.9" ry="3.9"/>
<ellipse class="k10" cx="454.9" cy="43.6" rx="2.3" ry="2.5"/>
<ellipse class="k9" cx="401.8" cy="24.4" rx="3.2" ry="4.3"/>
<ellipse class="k9" cx="459.2" cy="23.0" rx="2.3" ry="1.7"/>
<ellipse class="k9" cx="403.8" cy="28.1" rx="4.4" ry="4.1"/>
<ellipse class="k8" cx="492.0" cy="40.4" rx="3.5" ry="2.6"/>
<circle class="k10" cx="504.7" cy="17.1" r="2.7"/>
<ellipse class="k9" cx="475.3" cy="36.5" rx="4.4" ry="3.9"/>
<circle class="k9" cx="480.3" cy="53.5" r="2.3"/>
<ellipse class="k8" cx="424.2" cy="38.3" rx="2.2" ry="1.8"/>
<circle class="k10" cx="489.2" cy="34.6" r="3.8"/>
<ellipse class="k10" cx="465.6" cy="73.1" rx="3.0" ry="3.9"/>
<ellipse class="k10" cx="483.4" cy="67.9" rx="4.4" ry="4.2"/>
<ellipse class="k8" cx="424.2" cy="69.5" rx="3.9" ry="4.4"/>
<ellipse class="k10" cx="509.3" cy="53.2" rx="3.1" ry="3.6"/>
<ellipse class="k9" cx="470.5" cy="52.5" rx="2.4" ry="3.7"/>
<ellipse class="k10" cx="480.5" cy="15.7" rx="2.3" ry="1.6"/>
<ellipse class="k8" cx="477.5" cy="70.0" rx="1.9" ry="3.1"/>
<ellipse class="k9" cx="457.3" cy="9.9" rx="3.8" ry="3.0"/>
<ellipse class="k8" cx="510.5" cy="6.5" rx="2.2" ry="3.1"/>
<circle class="k10" cx="435.3" cy="41.4" r="2.3"/>
<ellipse class="k9" cx="454.9" cy="47.5" rx="3.2" ry="4.5"/>
<ellipse class="k10" cx="497.5" cy="21.6" rx="3.3" ry="3.6"/>
<ellipse class="k10" cx="452.0" cy="9.6" rx="1.9" ry="2.3"/>
<ellipse class="k8" cx="403.0" cy="59.1" rx="4.0" ry="4.7"/>
<ellipse class="k8" cx="427.2" cy="43.3" rx="2.8" ry="1.7"/>
<ellipse class="k10" cx="448.4" cy="49.0" rx="2.8" ry="2.6"/>
<ellipse class="k8" cx="438.2" cy="14.6" rx="3.9" ry="3.7"/>
<ellipse class="k8" cx="448.8" cy="48.3" rx="2.1" ry="2.8"/>
<ellipse class="k9" cx="510.0" cy="61.8" rx="2.5" ry="2.3"/>
<circle class="k10" cx="513.6" cy="41.8" r="2.2"/>
<ellipse class="k9" cx="442.6" cy="56.3" rx="2.9" ry="1.9"/>
<ellipse class="k9" cx="487.9" cy="64.9" rx="3.7" ry="2.3"/>
<ellipse class="k8" cx="419.9" cy="55.0" rx="2.0" ry="2.9"/>
<ellipse class="k9" cx="464.4" cy="7.5" rx="3.5" ry="4.7"/>
<ellipse class="k10" cx="453.0" cy="42.1" rx="4.0" ry="3.6"/>
<ellipse class="k9" cx="435.0" cy="30.4" rx="4.5" ry="4.3"/>
<ellipse class="k10" cx="483.9" cy="25.1" rx="4.8" ry="3.8"/>
<ellipse class="k8" cx="413.0" cy="63.8" rx="4.4" ry="3.6"/>
<ellipse class="k9" cx="488.4" cy="63.5" rx="1.5" ry="2.4"/>
<ellipse class="k10" cx="494.5" cy="63.3" rx="4.8" ry="2.9"/>
<ellipse class="k9" cx="472.4" cy="72.1" rx="4.9" ry="4.4"/>
<ellipse class="k8" cx="469.8" cy="46.2" rx="3.8" ry="4.4"/>
<ellipse class="k10" cx="450.1" cy="43.2" rx="2.1" ry="2.9"/>
<ellipse class="k9" cx="440.1" cy="10.0" rx="4.4" ry="3.8"/>
<ellipse class="k9" cx="435.6" cy="69.3" rx="3.3" ry="3.8"/>
<ellipse class="k10" cx="415.3" cy="35.9" rx="2.3" ry="3.0"/>
<ellipse class="k10" cx="445.3" cy="65.1" rx="3.9" ry="5.0"/>
<ellipse class="k10" cx="474.7" cy="48.4" rx="1.6" ry="2.2"/>
<ellipse class="k8" cx="415.7" cy="43.1" rx="4.4" ry="4.9"/>
<ellipse class="k9" cx="515.9" cy="14.2" rx="3.0" ry="3.8"/>
<ellipse class="k8" cx="470.1" cy="45.5" rx="2.3" ry="3.1"/>
<ellipse class="k8" cx="510.4" cy="47.0" rx="2.2" ry="1.9"/>
<ellipse class="k10" cx="473.0" cy="48.2" rx="3.0" ry="4.6"/>
<ellipse class="k10" cx="475.5" cy="8.9" rx="3.0" ry="2.4"/>
<circle class="k9" cx="412.7" cy="23.1" r="4.4"/>
<ellipse class="k8" cx="493.0" cy="21.7" rx="1.9" ry="2.2"/>
<ellipse class="k8" cx="475.0" cy="49.6" rx="3.8" ry="3.0"/>
<ellipse class="k9" cx="416.4" cy="39.1" rx="2.5" ry="3.3"/>
<ellipse class="k10" cx="428.7" cy="42.0" rx="4.2" ry="3.3"/>
<ellipse class="k10" cx="499.5" cy="29.3" rx="2.1" ry="3.2"/>
<ellipse class="k10" cx="492.6" cy="32.7" rx="4.7" ry="4.9"/>
<ellipse class="k9" cx="449.8" cy="27.5" rx="2.1" ry="2.8"/>
<ellipse class="k10" cx="453.6" cy="42.4" rx="2.7" ry="1.9"/>
<circle class="k9" cx="445.0" cy="39.6" r="3.7"/>
<circle class="k9" cx="445.1" cy="42.2" r="2.8"/>
<ellipse class="k9" cx="415.6" cy="20.2" rx="2.9" ry="4.5"/>
<ellipse class="k10" cx="462.9" cy="68.1" rx="2.0" ry="2.3"/>
<ellipse class="k8" cx="498.4" cy="50.1" rx="2.0" ry="3.3"/>
<circle class="k10" cx="498.6" cy="11.8" r="3.5"/>
<ellipse class="k8" cx="447.4" cy="6.6" rx="2.7" ry="3.5"/>
<circle class="k8" cx="493.4" cy="42.2" r="3.9"/>
<ellipse class="k9" cx="433.5" cy="41.3" rx="3.2" ry="2.0"/>
<ellipse class="k9" cx="501.8" cy="50.5" rx="2.2" ry="3.1"/>
<ellipse class="k10" cx="496.7" cy="13.9" rx="2.8" ry="4.4"/>
<ellipse class="k9" cx="462.8" cy="18.1" rx="4.5" ry="4.2"/>
</g>
<g filter="url(#bl)">
<ellipse class="k11" cx="497.5" cy="7.3" rx="0.8" ry="1.0"/>
<ellipse class="k12" cx="488.2" cy="62.4" rx="1.3" ry="0.9"/>
<ellipse class="k13" cx="424.9" cy="71.4" rx="1.0" ry="1.4"/>
<ellipse class="k13" cx="457.8" cy="34.4" rx="1.1" ry="0.9"/>
<circle class="k14" cx="473.2" cy="44.0" r="0.9"/>
<circle class="k14" cx="509.7" cy="9.9" r="1.1"/>
<ellipse class="k11" cx="503.6" cy="12.0" rx="1.4" ry="1.2"/>
<circle class="k15" cx="516.8" cy="59.4" r="1.1"/>
<circle class="k14" cx="474.2" cy="73.6" r="1.1"/>
<ellipse class="k14" cx="473.0" cy="62.6" rx="1.2" ry="1.0"/>
<circle class="k14" cx="460.7" cy="52.1" r="1.1"/>
<ellipse class="k12" cx="499.1" cy="52.4" rx="0.8" ry="1.2"/>
<ellipse class="k15" cx="515.3" cy="13.9" rx="0.8" ry="1.2"/>
<ellipse class="k12" cx="439.1" cy="73.7" rx="1.0" ry="1.2"/>
<ellipse class="k13" cx="506.3" cy="17.6" rx="1.1" ry="1.3"/>
<ellipse class="k14" cx="417.7" cy="43.1" rx="1.0" ry="0.7"/>
<circle class="k15" cx="406.0" cy="38.3" r="1.2"/>
<ellipse class="k12" cx="500.5" cy="37.5" rx="1.2" ry="1.4"/>
<ellipse class="k13" cx="493.0" cy="72.5" rx="1.3" ry="1.1"/>
<ellipse class="k13" cx="500.7" cy="23.9" rx="0.6" ry="0.9"/>
<ellipse class="k14" cx="502.9" cy="51.9" rx="1.1" ry="0.7"/>
<ellipse class="k15" cx="512.8" cy="49.2" rx="1.3" ry="1.1"/>
<ellipse class="k12" cx="402.0" cy="56.3" rx="0.7" ry="1.0"/>
<circle class="k11" cx="476.5" cy="54.6" r="1.3"/>
<circle class="k15" cx="409.0" cy="17.2" r="1.1"/>
<circle class="k11" cx="418.5" cy="11.5" r="1.0"/>
<ellipse class="k12" cx="414.8" cy="51.1" rx="1.0" ry="0.8"/>
<ellipse class="k15" cx="496.6" cy="59.7" rx="0.8" ry="1.1"/>
<circle class="k12" cx="413.3" cy="24.7" r="1.2"/>
<ellipse class="k12" cx="456.3" cy="6.3" rx="0.6" ry="0.9"/>
<ellipse class="k12" cx="479.8" cy="65.1" rx="1.4" ry="1.0"/>
<ellipse class="k12" cx="481.3" cy="12.3" rx="0.9" ry="1.3"/>
<ellipse class="k11" cx="437.2" cy="26.4" rx="1.3" ry="0.8"/>
<circle class="k15" cx="458.3" cy="44.4" r="1.3"/>
<ellipse class="k11" cx="449.0" cy="11.4" rx="0.8" ry="1.1"/>
<ellipse class="k11" cx="442.2" cy="27.2" rx="0.7" ry="1.1"/>
<circle class="k13" cx="423.6" cy="34.4" r="1.0"/>
<ellipse class="k14" cx="495.4" cy="56.6" rx="1.0" ry="0.7"/>
<ellipse class="k12" cx="403.5" cy="31.3" rx="1.0" ry="1.3"/>
<circle class="k12" cx="473.2" cy="12.2" r="0.8"/>
<ellipse class="k14" cx="422.5" cy="49.0" rx="0.9" ry="1.3"/>
<ellipse class="k13" cx="436.4" cy="57.7" rx="0.8" ry="1.4"/>
<circle class="k12" cx="486.2" cy="58.6" r="1.2"/>
<ellipse class="k15" cx="473.8" cy="65.2" rx="0.7" ry="1.1"/>
<circle class="k13" cx="515.2" cy="10.1" r="1.3"/>
<ellipse class="k12" cx="436.9" cy="42.2" rx="0.9" ry="1.1"/>
<circle class="k11" cx="448.0" cy="49.0" r="1.2"/>
<ellipse class="k15" cx="420.9" cy="72.7" rx="1.3" ry="0.9"/>
<ellipse class="k12" cx="425.0" cy="62.5" rx="0.8" ry="1.3"/>
<ellipse class="k11" cx="502.1" cy="73.6" rx="1.1" ry="1.2"/>
<ellipse class="k14" cx="506.0" cy="43.7" rx="0.7" ry="1.1"/>
<circle class="k11" cx="403.5" cy="69.5" r="1.0"/>
<ellipse class="k12" cx="512.3" cy="34.2" rx="1.0" ry="0.8"/>
<circle class="k15" cx="477.2" cy="53.6" r="0.9"/>
<ellipse class="k15" cx="463.2" cy="43.1" rx="1.0" ry="0.7"/>
<ellipse class="k13" cx="404.1" cy="63.8" rx="1.1" ry="0.9"/>
<ellipse class="k12" cx="452.9" cy="60.7" rx="0.7" ry="1.1"/>
<ellipse class="k12" cx="413.1" cy="51.9" rx="1.2" ry="0.9"/>
<ellipse class="k12" cx="425.1" cy="22.8" rx="0.9" ry="1.4"/>
<ellipse class="k15" cx="502.5" cy="72.7" rx="0.7" ry="1.0"/>
<circle class="k15" cx="411.6" cy="45.3" r="1.0"/>
<ellipse class="k14" cx="459.6" cy="47.0" rx="1.0" ry="1.2"/>
<circle class="k11" cx="417.8" cy="61.5" r="1.1"/>
<ellipse class="k15" cx="401.1" cy="22.4" rx="1.2" ry="1.0"/>
<circle class="k14" cx="405.3" cy="33.8" r="0.9"/>
<circle class="k13" cx="418.3" cy="6.7" r="1.3"/>
<ellipse class="k11" cx="471.8" cy="9.0" rx="0.9" ry="1.1"/>
<ellipse class="k12" cx="469.6" cy="48.7" rx="1.1" ry="1.3"/>
<circle class="k12" cx="444.4" cy="44.6" r="1.3"/>
<ellipse class="k13" cx="443.0" cy="58.6" rx="1.4" ry="0.9"/>
<ellipse class="k14" cx="449.6" cy="58.3" rx="0.8" ry="1.2"/>
<ellipse class="k14" cx="508.7" cy="59.1" rx="1.3" ry="1.1"/>
<ellipse class="k13" cx="408.5" cy="57.5" rx="0.6" ry="0.9"/>
<ellipse class="k15" cx="449.6" cy="27.4" rx="1.4" ry="1.2"/>
<ellipse class="k12" cx="432.1" cy="38.9" rx="1.1" ry="1.2"/>
<circle class="k13" cx="424.5" cy="71.1" r="1.0"/>
<ellipse class="k11" cx="470.8" cy="67.3" rx="1.0" ry="0.7"/>
<circle class="k13" cx="458.4" cy="24.5" r="1.3"/>
<ellipse class="k13" cx="487.0" cy="19.5" rx="1.2" ry="0.7"/>
<ellipse class="k11" cx="459.6" cy="49.0" rx="1.0" ry="0.8"/>
<circle class="k13" cx="455.9" cy="48.0" r="1.2"/>
<circle class="k13" cx="496.0" cy="62.0" r="1.0"/>
<ellipse class="k11" cx="443.7" cy="31.1" rx="1.3" ry="1.1"/>
<ellipse class="k12" cx="472.2" cy="41.8" rx="1.1" ry="0.8"/>
<ellipse class="k11" cx="404.1" cy="42.5" rx="1.3" ry="1.0"/>
<circle class="k13" cx="494.1" cy="15.9" r="1.2"/>
<ellipse class="k12" cx="467.5" cy="21.0" rx="1.2" ry="1.3"/>
<circle class="k12" cx="401.9" cy="71.5" r="1.3"/>
<ellipse class="k12" cx="430.7" cy="13.1" rx="1.0" ry="1.3"/>
<ellipse class="k11" cx="442.1" cy="54.0" rx="1.2" ry="1.0"/>
<ellipse class="k13" cx="466.0" cy="16.9" rx="1.3" ry="1.0"/>
<ellipse class="k14" cx="416.5" cy="40.0" rx="1.0" ry="1.1"/>
<circle class="k13" cx="508.4" cy="55.9" r="1.1"/>
<ellipse class="k13" cx="485.3" cy="33.9" rx="1.3" ry="1.1"/>
<ellipse class="k15" cx="415.1" cy="58.2" rx="1.0" ry="1.4"/>
<ellipse class="k14" cx="507.5" cy="54.4" rx="0.7" ry="0.9"/>
<circle class="k14" cx="506.1" cy="51.5" r="1.0"/>
<circle class="k15" cx="505.4" cy="63.2" r="1.1"/>
<ellipse class="k11" cx="496.2" cy="30.7" rx="1.0" ry="0.6"/>
<circle class="k12" cx="406.2" cy="61.0" r="1.3"/>
<ellipse class="k12" cx="403.3" cy="37.5" rx="1.4" ry="1.1"/>
<ellipse class="k12" cx="418.6" cy="8.1" rx="0.9" ry="1.1"/>
<ellipse class="k13" cx="459.6" cy="34.0" rx="1.2" ry="0.8"/>
<ellipse class="k15" cx="440.3" cy="67.1" rx="1.3" ry="1.1"/>
<ellipse class="k11" cx="444.0" cy="20.8" rx="0.7" ry="1.0"/>
<ellipse class="k12" cx="419.3" cy="28.4" rx="1.1" ry="1.3"/>
<ellipse class="k15" cx="403.5" cy="34.3" rx="1.3" ry="1.0"/>
<ellipse class="k13" cx="497.2" cy="21.1" rx="1.3" ry="1.0"/>
<ellipse class="k11" cx="493.9" cy="40.4" rx="0.9" ry="1.1"/>
<circle class="k15" cx="446.3" cy="40.2" r="1.3"/>
<ellipse class="k13" cx="462.7" cy="35.4" rx="1.1" ry="1.3"/>
<ellipse class="k15" cx="412.5" cy="62.4" rx="1.1" ry="0.7"/>
<ellipse class="k15" cx="434.9" cy="51.3" rx="0.9" ry="1.2"/>
<ellipse class="k13" cx="447.5" cy="50.3" rx="0.8" ry="1.2"/>
<ellipse class="k15" cx="458.4" cy="65.3" rx="0.9" ry="0.7"/>
<circle class="k14" cx="408.4" cy="36.6" r="1.4"/>
<ellipse class="k12" cx="439.4" cy="10.4" rx="1.3" ry="0.9"/>
<ellipse class="k12" cx="515.2" cy="29.5" rx="1.0" ry="1.3"/>
<ellipse class="k12" cx="403.8" cy="17.7" rx="0.8" ry="1.2"/>
<ellipse class="k15" cx="481.2" cy="12.3" rx="1.1" ry="0.9"/>
<circle class="k11" cx="431.2" cy="31.0" r="1.0"/>
<circle class="k11" cx="412.0" cy="72.5" r="1.2"/>
<circle class="k14" cx="480.7" cy="16.0" r="1.0"/>
<ellipse class="k15" cx="442.8" cy="34.5" rx="1.2" ry="0.7"/>
<ellipse class="k13" cx="418.8" cy="73.3" rx="1.1" ry="0.9"/>
<circle class="k15" cx="491.9" cy="23.4" r="1.0"/>
<circle class="k13" cx="491.7" cy="11.0" r="1.2"/>
<ellipse class="k12" cx="438.3" cy="29.4" rx="0.9" ry="0.6"/>
<circle class="k13" cx="443.2" cy="19.8" r="1.3"/>
<ellipse class="k11" cx="456.7" cy="53.4" rx="1.0" ry="0.8"/>
<ellipse class="k11" cx="436.8" cy="13.3" rx="1.4" ry="1.1"/>
<circle class="k14" cx="473.4" cy="44.5" r="1.1"/>
<ellipse class="k13" cx="486.2" cy="28.9" rx="1.3" ry="1.0"/>
<ellipse class="k11" cx="511.5" cy="48.6" rx="1.0" ry="0.7"/>
<circle class="k13" cx="413.8" cy="57.2" r="1.3"/>
<ellipse class="k12" cx="468.1" cy="66.1" rx="1.2" ry="0.9"/>
<ellipse class="k11" cx="417.7" cy="27.5" rx="1.2" ry="0.8"/>
<circle class="k11" cx="424.6" cy="59.2" r="1.0"/>
<ellipse class="k14" cx="460.1" cy="50.4" rx="1.1" ry="1.3"/>
<circle class="k12" cx="412.5" cy="26.7" r="1.2"/>
<ellipse class="k13" cx="496.9" cy="27.3" rx="0.7" ry="1.0"/>
<circle class="k14" cx="422.2" cy="17.8" r="1.1"/>
<ellipse class="k15" cx="512.9" cy="65.0" rx="1.1" ry="0.9"/>
<ellipse class="k15" cx="476.0" cy="54.0" rx="1.1" ry="1.4"/>
<circle class="k15" cx="508.9" cy="21.5" r="1.1"/>
<circle class="k14" cx="463.1" cy="17.2" r="1.0"/>
<ellipse class="k11" cx="453.6" cy="18.7" rx="1.3" ry="0.8"/>
<ellipse class="k11" cx="439.6" cy="7.5" rx="0.8" ry="0.9"/>
<circle class="k15" cx="448.4" cy="23.6" r="1.0"/>
<ellipse class="k11" cx="426.6" cy="36.4" rx="1.1" ry="1.3"/>
<circle class="k13" cx="473.1" cy="49.6" r="1.2"/>
<circle class="k12" cx="508.0" cy="6.8" r="1.4"/>
<ellipse class="k11" cx="408.8" cy="53.5" rx="1.1" ry="0.7"/>
<circle class="k11" cx="440.9" cy="13.9" r="1.0"/>
<circle class="k12" cx="487.7" cy="16.4" r="1.0"/>
<circle class="k14" cx="454.5" cy="34.8" r="0.9"/>
<ellipse class="k11" cx="431.3" cy="33.7" rx="1.4" ry="1.1"/>
<ellipse class="k13" cx="498.2" cy="44.2" rx="1.0" ry="0.8"/>
<circle class="k13" cx="503.1" cy="11.8" r="1.4"/>
<ellipse class="k11" cx="439.7" cy="23.6" rx="1.3" ry="1.1"/>
<ellipse class="k11" cx="502.9" cy="32.7" rx="0.9" ry="1.3"/>
<circle class="k14" cx="440.0" cy="49.1" r="1.4"/>
<ellipse class="k13" cx="446.4" cy="18.2" rx="1.2" ry="0.8"/>
<ellipse class="k15" cx="417.2" cy="45.7" rx="0.9" ry="0.6"/>
<ellipse class="k11" cx="511.5" cy="66.5" rx="0.9" ry="1.4"/>
<circle class="k13" cx="479.9" cy="16.6" r="1.4"/>
<ellipse class="k12" cx="436.1" cy="23.2" rx="0.6" ry="1.0"/>
<ellipse class="k14" cx="425.3" cy="45.0" rx="1.3" ry="0.9"/>
<ellipse class="k13" cx="435.8" cy="16.5" rx="0.9" ry="1.2"/>
<ellipse class="k14" cx="441.7" cy="28.2" rx="0.8" ry="1.1"/>
<ellipse class="k12" cx="450.4" cy="51.6" rx="0.9" ry="1.3"/>
<circle class="k12" cx="430.3" cy="23.1" r="1.0"/>
<circle class="k13" cx="490.1" cy="73.4" r="1.0"/>
<ellipse class="k13" cx="513.3" cy="45.4" rx="0.7" ry="0.9"/>
<circle class="k15" cx="465.2" cy="35.2" r="0.9"/>
<ellipse class="k12" cx="463.9" cy="54.3" rx="1.0" ry="0.8"/>
<ellipse class="k15" cx="410.2" cy="70.8" rx="0.7" ry="0.9"/>
<circle class="k11" cx="402.6" cy="47.0" r="0.9"/>
<circle class="k11" cx="440.5" cy="30.8" r="1.2"/>
<ellipse class="k12" cx="415.9" cy="33.6" rx="1.2" ry="1.1"/>
<ellipse class="k15" cx="443.9" cy="21.1" rx="0.9" ry="1.3"/>
<circle class="k13" cx="429.6" cy="63.0" r="1.1"/>
<circle class="k11" cx="499.3" cy="31.8" r="1.3"/>
<ellipse class="k14" cx="426.9" cy="16.4" rx="1.1" ry="0.9"/>
<ellipse class="k15" cx="422.7" cy="51.1" rx="1.3" ry="1.1"/>
<ellipse class="k14" cx="487.4" cy="53.2" rx="0.7" ry="1.0"/>
<ellipse class="k14" cx="509.1" cy="69.1" rx="1.0" ry="0.9"/>
<ellipse class="k11" cx="423.5" cy="24.7" rx="0.8" ry="1.4"/>
<ellipse class="k12" cx="443.8" cy="55.9" rx="1.2" ry="0.8"/>
<ellipse class="k13" cx="452.2" cy="50.6" rx="1.0" ry="1.3"/>
<ellipse class="k15" cx="412.3" cy="50.0" rx="0.7" ry="1.1"/>
<ellipse class="k12" cx="451.2" cy="61.2" rx="1.2" ry="1.0"/>
<ellipse class="k15" cx="446.9" cy="8.3" rx="1.2" ry="0.8"/>
<ellipse class="k14" cx="412.9" cy="47.5" rx="0.7" ry="1.2"/>
<circle class="k15" cx="464.4" cy="50.3" r="1.2"/>
<ellipse class="k12" cx="490.9" cy="66.6" rx="1.0" ry="0.7"/>
<ellipse class="k15" cx="411.8" cy="9.8" rx="1.1" ry="0.9"/>
<ellipse class="k12" cx="419.7" cy="57.5" rx="0.9" ry="1.3"/>
<circle class="k15" cx="449.0" cy="46.4" r="1.0"/>
<circle class="k13" cx="426.3" cy="23.2" r="1.1"/>
<ellipse class="k13" cx="417.8" cy="39.2" rx="1.1" ry="1.4"/>
<ellipse class="k11" cx="449.3" cy="61.8" rx="0.7" ry="1.0"/>
<ellipse class="k11" cx="409.1" cy="27.1" rx="0.9" ry="1.1"/>
<ellipse class="k11" cx="459.2" cy="71.1" rx="0.7" ry="1.1"/>
<ellipse class="k15" cx="459.4" cy="63.8" rx="1.1" ry="1.4"/>
<circle class="k15" cx="503.4" cy="45.4" r="1.1"/>
<ellipse class="k12" cx="438.6" cy="52.9" rx="1.0" ry="0.7"/>
<ellipse class="k15" cx="493.5" cy="21.1" rx="1.3" ry="1.1"/>
<ellipse class="k15" cx="416.5" cy="54.1" rx="1.0" ry="0.7"/>
<ellipse class="k14" cx="436.4" cy="73.4" rx="1.1" ry="0.7"/>
<circle class="k11" cx="447.6" cy="12.6" r="1.2"/>
<circle class="k14" cx="456.3" cy="39.1" r="1.1"/>
<ellipse class="k14" cx="495.1" cy="24.3" rx="1.2" ry="1.0"/>
<circle class="k14" cx="473.1" cy="20.6" r="1.0"/>
<circle class="k14" cx="500.2" cy="51.8" r="1.4"/>
<ellipse class="k14" cx="514.6" cy="54.7" rx="0.7" ry="1.2"/>
<ellipse class="k15" cx="508.0" cy="73.8" rx="0.9" ry="0.7"/>
<ellipse class="k13" cx="507.8" cy="68.6" rx="0.7" ry="1.1"/>
<circle class="k12" cx="503.5" cy="27.3" r="1.2"/>
<ellipse class="k15" cx="442.1" cy="7.4" rx="1.0" ry="1.3"/>
<ellipse class="k15" cx="433.8" cy="45.1" rx="1.0" ry="0.8"/>
<ellipse class="k12" cx="406.7" cy="9.9" rx="1.1" ry="0.8"/>
<ellipse class="k11" cx="412.9" cy="51.1" rx="0.8" ry="1.2"/>
<ellipse class="k12" cx="464.1" cy="30.7" rx="1.1" ry="0.8"/>
<circle class="k15" cx="458.4" cy="34.2" r="0.9"/>
<circle class="k12" cx="464.8" cy="54.9" r="0.8"/>
<ellipse class="k15" cx="456.7" cy="6.8" rx="0.7" ry="1.0"/>
<ellipse class="k15" cx="498.6" cy="25.0" rx="1.3" ry="0.8"/>
<ellipse class="k11" cx="471.2" cy="49.4" rx="1.0" ry="0.6"/>
<ellipse class="k15" cx="511.1" cy="8.0" rx="0.7" ry="1.1"/>
<circle class="k14" cx="424.3" cy="22.4" r="1.2"/>
<ellipse class="k14" cx="503.4" cy="28.1" rx="0.6" ry="0.9"/>
<circle class="k14" cx="450.1" cy="24.0" r="1.0"/>
<ellipse class="k15" cx="459.3" cy="64.2" rx="1.1" ry="0.8"/>
<ellipse class="k15" cx="411.7" cy="14.1" rx="0.9" ry="0.8"/>
<ellipse class="k13" cx="432.7" cy="46.9" rx="0.8" ry="1.1"/>
<circle class="k11" cx="446.1" cy="59.6" r="1.2"/>
<circle class="k14" cx="489.0" cy="63.6" r="1.0"/>
<ellipse class="k15" cx="408.5" cy="45.6" rx="0.9" ry="1.2"/>
<circle class="k12" cx="493.8" cy="58.7" r="1.3"/>
<ellipse class="k15" cx="478.6" cy="8.0" rx="1.1" ry="0.8"/>
<circle class="k14" cx="439.9" cy="23.5" r="1.3"/>
<circle class="k13" cx="478.9" cy="23.7" r="0.9"/>
<ellipse class="k13" cx="416.8" cy="31.7" rx="1.0" ry="0.7"/>
<ellipse class="k11" cx="463.5" cy="34.6" rx="0.9" ry="1.3"/>
<circle class="k15" cx="418.9" cy="57.5" r="0.9"/>
<ellipse class="k11" cx="408.6" cy="30.4" rx="0.8" ry="1.0"/>
<circle class="k14" cx="503.3" cy="36.6" r="1.1"/>
<ellipse class="k11" cx="485.7" cy="55.3" rx="1.2" ry="0.8"/>
<circle class="k13" cx="459.6" cy="21.0" r="1.1"/>
<circle class="k15" cx="504.1" cy="42.1" r="1.3"/>
<ellipse class="k12" cx="411.8" cy="33.0" rx="1.2" ry="1.4"/>
<circle class="k12" cx="438.2" cy="47.3" r="1.3"/>
<circle class="k13" cx="437.4" cy="31.2" r="1.2"/>
<ellipse class="k11" cx="501.6" cy="19.4" rx="0.9" ry="1.3"/>
<ellipse class="k15" cx="469.0" cy="44.0" rx="1.0" ry="1.4"/>
<ellipse class="k13" cx="474.3" cy="66.7" rx="1.1" ry="0.8"/>
<ellipse class="k14" cx="460.0" cy="9.5" rx="1.2" ry="1.0"/>
<circle class="k14" cx="477.8" cy="25.4" r="1.1"/>
<ellipse class="k12" cx="471.0" cy="53.6" rx="0.8" ry="1.0"/>
<circle class="k14" cx="452.9" cy="69.1" r="1.1"/>
<ellipse class="k11" cx="490.4" cy="23.3" rx="1.1" ry="1.2"/>
<ellipse class="k14" cx="504.8" cy="74.0" rx="0.6" ry="1.0"/>
<ellipse class="k15" cx="502.9" cy="20.0" rx="0.7" ry="1.1"/>
<circle class="k11" cx="501.0" cy="30.2" r="1.0"/>
<ellipse class="k15" cx="470.7" cy="16.9" rx="0.8" ry="0.9"/>
<ellipse class="k14" cx="484.7" cy="65.5" rx="0.9" ry="0.7"/>
<circle class="k15" cx="444.4" cy="67.2" r="1.2"/>
<ellipse class="k13" cx="461.1" cy="29.4" rx="0.9" ry="1.2"/>
<circle class="k11" cx="462.4" cy="9.7" r="1.1"/>
<circle class="k11" cx="433.4" cy="21.4" r="1.0"/>
<ellipse class="k12" cx="411.3" cy="37.0" rx="0.7" ry="1.0"/>
<circle class="k11" cx="405.8" cy="54.6" r="1.0"/>
<circle class="k14" cx="453.1" cy="56.2" r="0.9"/>
<ellipse class="k14" cx="405.0" cy="25.1" rx="0.9" ry="1.3"/>
<circle class="k14" cx="434.5" cy="64.4" r="1.3"/>
<ellipse class="k12" cx="488.1" cy="39.8" rx="0.7" ry="1.0"/>
<ellipse class="k15" cx="491.6" cy="64.1" rx="1.2" ry="1.4"/>
<ellipse class="k14" cx="425.7" cy="39.7" rx="1.1" ry="1.3"/>
<ellipse class="k11" cx="425.9" cy="74.3" rx="1.0" ry="0.8"/>
<ellipse class="k13" cx="479.1" cy="62.2" rx="1.3" ry="1.0"/>
<circle class="k13" cx="514.1" cy="18.6" r="1.2"/>
<ellipse class="k14" cx="498.4" cy="54.4" rx="1.1" ry="0.8"/>
<circle class="k15" cx="411.6" cy="21.4" r="0.9"/>
<ellipse class="k12" cx="431.8" cy="38.4" rx="1.2" ry="1.0"/>
<ellipse class="k11" cx="490.3" cy="69.5" rx="1.1" ry="1.4"/>
<circle class="k11" cx="515.8" cy="29.7" r="1.1"/>
<circle class="k11" cx="447.3" cy="45.4" r="1.0"/>
<ellipse class="k11" cx="470.6" cy="72.2" rx="1.3" ry="0.9"/>
<ellipse class="k12" cx="473.2" cy="68.5" rx="1.0" ry="0.6"/>
<circle class="k15" cx="462.0" cy="14.0" r="0.9"/>
<ellipse class="k11" cx="514.1" cy="66.1" rx="1.3" ry="0.9"/>
<ellipse class="k15" cx="493.8" cy="14.4" rx="1.3" ry="0.9"/>
<ellipse class="k11" cx="429.4" cy="57.0" rx="1.4" ry="1.1"/>
<ellipse class="k13" cx="428.1" cy="49.3" rx="0.7" ry="1.1"/>
<circle class="k14" cx="440.3" cy="25.2" r="1.0"/>
<ellipse class="k14" cx="434.3" cy="60.8" rx="1.3" ry="0.8"/>
<ellipse class="k12" cx="476.2" cy="19.8" rx="1.4" ry="0.9"/>
<circle class="k14" cx="467.3" cy="54.6" r="0.8"/>
<circle class="k14" cx="500.9" cy="57.3" r="1.3"/>
<ellipse class="k15" cx="425.9" cy="61.3" rx="0.7" ry="1.0"/>
<ellipse class="k14" cx="419.4" cy="33.4" rx="0.6" ry="1.0"/>
<ellipse class="k11" cx="491.8" cy="45.4" rx="1.2" ry="1.0"/>
<circle class="k12" cx="511.8" cy="47.8" r="1.3"/>
<ellipse class="k13" cx="515.3" cy="24.6" rx="1.3" ry="1.0"/>
<ellipse class="k15" cx="517.0" cy="18.2" rx="0.9" ry="0.5"/>
<ellipse class="k12" cx="450.1" cy="17.3" rx="0.9" ry="1.1"/>
<ellipse class="k13" cx="447.6" cy="18.6" rx="1.2" ry="1.4"/>
<ellipse class="k15" cx="488.5" cy="71.8" rx="1.1" ry="0.7"/>
<ellipse class="k14" cx="511.2" cy="62.9" rx="0.8" ry="1.0"/>
<circle class="k15" cx="446.4" cy="13.3" r="1.4"/>
<ellipse class="k14" cx="474.4" cy="39.8" rx="1.1" ry="0.7"/>
<ellipse class="k11" cx="497.4" cy="74.4" rx="0.9" ry="1.2"/>
<ellipse class="k11" cx="451.7" cy="74.3" rx="1.3" ry="0.9"/>
<ellipse class="k15" cx="434.9" cy="13.7" rx="0.9" ry="1.2"/>
<ellipse class="k11" cx="409.7" cy="15.2" rx="1.2" ry="0.7"/>
<ellipse class="k14" cx="434.3" cy="35.4" rx="1.0" ry="0.8"/>
<circle class="k12" cx="513.0" cy="68.0" r="1.0"/>
<ellipse class="k13" cx="418.2" cy="70.0" rx="1.4" ry="1.2"/>
<ellipse class="k11" cx="422.7" cy="41.3" rx="1.1" ry="0.9"/>
<ellipse class="k12" cx="495.3" cy="36.4" rx="1.3" ry="1.1"/>
<ellipse class="k15" cx="437.1" cy="10.4" rx="0.7" ry="0.9"/>
<ellipse class="k11" cx="478.1" cy="28.0" rx="0.8" ry="1.0"/>
<circle class="k11" cx="512.9" cy="23.7" r="0.9"/>
<circle class="k13" cx="453.6" cy="62.0" r="1.0"/>
<circle class="k11" cx="460.5" cy="74.3" r="0.9"/>
<circle class="k15" cx="430.0" cy="56.6" r="0.9"/>
<ellipse class="k15" cx="497.5" cy="58.9" rx="1.2" ry="0.8"/>
<circle class="k11" cx="458.4" cy="41.8" r="1.1"/>
<ellipse class="k12" cx="489.7" cy="62.4" rx="1.0" ry="1.2"/>
<circle class="k11" cx="409.4" cy="55.7" r="1.2"/>
<ellipse class="k11" cx="439.4" cy="41.3" rx="1.0" ry="0.7"/>
<circle class="k15" cx="491.5" cy="56.0" r="1.0"/>
<circle class="k14" cx="497.8" cy="19.9" r="0.8"/>
<ellipse class="k12" cx="456.9" cy="56.1" rx="1.1" ry="0.9"/>
<ellipse class="k12" cx="414.7" cy="54.9" rx="1.1" ry="0.9"/>
<ellipse class="k13" cx="461.7" cy="52.4" rx="1.4" ry="0.9"/>
<ellipse class="k13" cx="506.7" cy="30.4" rx="0.7" ry="1.2"/>
<ellipse class="k13" cx="453.8" cy="15.2" rx="1.0" ry="0.8"/>
<ellipse class="k12" cx="464.8" cy="26.7" rx="0.8" ry="1.1"/>
<circle class="k12" cx="513.9" cy="69.5" r="1.1"/>
<ellipse class="k11" cx="487.3" cy="53.4" rx="0.8" ry="1.2"/>
<circle class="k12" cx="442.8" cy="50.3" r="1.1"/>
<ellipse class="k15" cx="455.4" cy="73.3" rx="0.9" ry="1.2"/>
<ellipse class="k15" cx="502.8" cy="49.8" rx="0.7" ry="1.1"/>
<ellipse class="k15" cx="448.9" cy="23.3" rx="1.0" ry="1.3"/>
<circle class="k11" cx="405.5" cy="12.5" r="1.2"/>
<ellipse class="k11" cx="402.5" cy="29.4" rx="1.3" ry="1.0"/>
<ellipse class="k15" cx="471.9" cy="58.5" rx="1.4" ry="1.2"/>
<ellipse class="k11" cx="515.3" cy="7.6" rx="1.0" ry="0.6"/>
<circle class="k15" cx="404.8" cy="71.9" r="1.1"/>
<ellipse class="k11" cx="488.4" cy="56.6" rx="0.7" ry="1.0"/>
<ellipse class="k13" cx="448.8" cy="56.1" rx="1.0" ry="1.2"/>
<ellipse class="k13" cx="478.4" cy="14.7" rx="0.7" ry="1.0"/>
<circle class="k15" cx="456.3" cy="43.0" r="0.9"/>
<circle class="k12" cx="441.6" cy="67.7" r="1.1"/>
<circle class="k11" cx="412.5" cy="27.3" r="1.0"/>
<ellipse class="k15" cx="516.8" cy="63.7" rx="1.4" ry="1.2"/>
<circle class="k12" cx="421.3" cy="55.0" r="1.4"/>
<circle class="k11" cx="499.4" cy="8.1" r="1.0"/>
<circle class="k15" cx="441.2" cy="48.9" r="0.9"/>
<ellipse class="k12" cx="490.2" cy="9.1" rx="1.3" ry="0.9"/>
<circle class="k13" cx="447.9" cy="32.9" r="1.3"/>
<ellipse class="k13" cx="461.6" cy="6.4" rx="0.9" ry="0.6"/>
<circle class="k12" cx="460.0" cy="55.5" r="1.0"/>
<circle class="k15" cx="457.6" cy="16.8" r="1.3"/>
<ellipse class="k11" cx="493.4" cy="48.5" rx="0.6" ry="1.0"/>
<ellipse class="k13" cx="498.1" cy="25.8" rx="1.1" ry="1.3"/>
<circle class="k14" cx="462.9" cy="24.6" r="1.3"/>
<ellipse class="k12" cx="465.0" cy="54.0" rx="1.0" ry="1.2"/>
<ellipse class="k15" cx="473.3" cy="65.4" rx="0.9" ry="0.6"/>
<ellipse class="k15" cx="428.5" cy="47.9" rx="1.3" ry="1.0"/>
<ellipse class="k11" cx="506.1" cy="6.5" rx="0.7" ry="1.2"/>
<ellipse class="k12" cx="410.9" cy="54.0" rx="0.7" ry="0.9"/>
<circle class="k13" cx="436.3" cy="24.1" r="1.1"/>
<circle class="k13" cx="462.8" cy="47.7" r="1.1"/>
<ellipse class="k15" cx="447.9" cy="36.9" rx="0.9" ry="0.6"/>
<circle class="k11" cx="502.1" cy="29.3" r="1.3"/>
<ellipse class="k13" cx="471.4" cy="19.8" rx="1.1" ry="0.7"/>
<ellipse class="k13" cx="499.5" cy="36.0" rx="0.9" ry="1.1"/>
<ellipse class="k14" cx="427.5" cy="61.4" rx="1.2" ry="0.8"/>
<ellipse class="k14" cx="462.4" cy="49.5" rx="0.8" ry="1.2"/>
<ellipse class="k12" cx="449.4" cy="31.5" rx="1.0" ry="1.2"/>
<ellipse class="k14" cx="411.6" cy="25.8" rx="0.7" ry="0.9"/>
<ellipse class="k15" cx="452.2" cy="18.4" rx="0.9" ry="1.1"/>
<ellipse class="k15" cx="419.3" cy="20.0" rx="1.1" ry="1.3"/>
<ellipse class="k11" cx="500.0" cy="21.3" rx="1.0" ry="0.8"/>
<circle class="k11" cx="443.1" cy="16.4" r="1.2"/>
<circle class="k11" cx="414.6" cy="72.2" r="1.1"/>
<circle class="k15" cx="448.2" cy="40.4" r="0.9"/>
<circle class="k12" cx="488.2" cy="58.0" r="0.9"/>
<ellipse class="k11" cx="422.5" cy="66.4" rx="1.1" ry="0.7"/>
<circle class="k11" cx="407.4" cy="57.7" r="1.1"/>
<ellipse class="k13" cx="436.6" cy="26.9" rx="0.7" ry="1.1"/>
<ellipse class="k13" cx="425.1" cy="65.0" rx="0.7" ry="1.0"/>
<ellipse class="k15" cx="504.8" cy="33.2" rx="1.0" ry="0.7"/>
<ellipse class="k12" cx="511.8" cy="68.3" rx="0.8" ry="1.0"/>
<circle class="k11" cx="465.3" cy="22.5" r="1.3"/>
<ellipse class="k11" cx="481.3" cy="74.4" rx="0.8" ry="1.0"/>
<ellipse class="k14" cx="442.0" cy="42.1" rx="0.8" ry="1.1"/>
<circle class="k14" cx="508.4" cy="49.5" r="1.2"/>
<ellipse class="k13" cx="467.5" cy="31.3" rx="1.2" ry="1.0"/>
<ellipse class="k11" cx="455.0" cy="54.5" rx="1.3" ry="1.0"/>
<circle class="k11" cx="477.2" cy="14.7" r="1.2"/>
<circle class="k12" cx="493.9" cy="25.3" r="1.1"/>
<ellipse class="k13" cx="402.4" cy="37.8" rx="0.7" ry="1.1"/>
<ellipse class="k15" cx="467.9" cy="71.9" rx="1.0" ry="0.7"/>
<ellipse class="k14" cx="407.7" cy="72.5" rx="1.3" ry="0.8"/>
<ellipse class="k15" cx="513.0" cy="7.6" rx="0.8" ry="1.3"/>
<circle class="k14" cx="422.5" cy="36.5" r="1.1"/>
<ellipse class="k15" cx="501.8" cy="18.4" rx="1.2" ry="0.9"/>
<ellipse class="k15" cx="460.8" cy="18.9" rx="0.7" ry="1.0"/>
<ellipse class="k12" cx="479.6" cy="60.9" rx="0.9" ry="1.4"/>
<ellipse class="k11" cx="442.5" cy="28.8" rx="1.4" ry="0.9"/>
<circle class="k12" cx="479.3" cy="69.6" r="1.3"/>
<ellipse class="k13" cx="412.9" cy="30.8" rx="0.9" ry="0.7"/>
<circle class="k11" cx="419.5" cy="48.8" r="0.9"/>
<ellipse class="k14" cx="483.8" cy="17.0" rx="0.8" ry="1.1"/>
<ellipse class="k11" cx="478.5" cy="22.8" rx="0.9" ry="1.2"/>
<ellipse class="k14" cx="513.8" cy="71.2" rx="0.9" ry="1.4"/>
<ellipse class="k12" cx="481.8" cy="39.9" rx="0.8" ry="1.2"/>
<circle class="k13" cx="456.4" cy="8.3" r="1.1"/>
<ellipse class="k14" cx="507.1" cy="21.3" rx="1.0" ry="0.7"/>
<ellipse class="k15" cx="444.8" cy="28.9" rx="0.8" ry="1.3"/>
<ellipse class="k11" cx="485.1" cy="63.2" rx="0.6" ry="0.9"/>
<ellipse class="k11" cx="439.9" cy="73.3" rx="1.1" ry="0.7"/>
<ellipse class="k14" cx="433.0" cy="41.9" rx="0.8" ry="1.1"/>
<ellipse class="k12" cx="410.1" cy="46.9" rx="1.3" ry="1.1"/>
<ellipse class="k13" cx="429.7" cy="39.6" rx="0.9" ry="1.3"/>
<ellipse class="k11" cx="484.4" cy="41.8" rx="1.2" ry="0.8"/>
<ellipse class="k12" cx="402.7" cy="25.5" rx="1.1" ry="0.9"/>
<ellipse class="k11" cx="510.6" cy="12.9" rx="1.0" ry="0.8"/>
<circle class="k13" cx="438.6" cy="8.1" r="1.2"/>
<ellipse class="k11" cx="442.4" cy="31.3" rx="1.1" ry="1.2"/>
<ellipse class="k11" cx="488.8" cy="40.0" rx="0.6" ry="0.9"/>
<ellipse class="k12" cx="474.5" cy="52.9" rx="0.9" ry="0.6"/>
<circle class="k14" cx="424.3" cy="67.8" r="1.3"/>
<ellipse class="k14" cx="416.1" cy="49.0" rx="0.7" ry="1.0"/>
<circle class="k15" cx="506.9" cy="23.2" r="1.0"/>
<ellipse class="k12" cx="444.3" cy="52.0" rx="0.8" ry="1.2"/>
<ellipse class="k11" cx="445.1" cy="58.9" rx="1.4" ry="1.0"/>
<circle class="k15" cx="466.7" cy="28.9" r="1.3"/>
<ellipse class="k12" cx="430.3" cy="12.6" rx="0.9" ry="1.3"/>
<ellipse class="k13" cx="435.7" cy="18.9" rx="0.8" ry="1.2"/>
<ellipse class="k15" cx="428.1" cy="10.0" rx="1.2" ry="0.7"/>
<ellipse class="k14" cx="431.8" cy="65.8" rx="1.1" ry="0.8"/>
<ellipse class="k14" cx="514.8" cy="14.6" rx="1.3" ry="0.9"/>
<ellipse class="k11" cx="455.0" cy="56.7" rx="1.0" ry="0.7"/>
<ellipse class="k11" cx="497.6" cy="18.8" rx="0.7" ry="1.0"/>
<circle class="k11" cx="415.4" cy="32.8" r="1.2"/>
<ellipse class="k13" cx="426.0" cy="67.3" rx="1.0" ry="0.8"/>
<ellipse class="k15" cx="494.8" cy="56.8" rx="1.3" ry="1.1"/>
<circle class="k14" cx="505.5" cy="22.0" r="1.2"/>
<ellipse class="k14" cx="420.5" cy="60.6" rx="0.9" ry="1.1"/>
<ellipse class="k15" cx="466.1" cy="50.6" rx="1.0" ry="1.2"/>
<ellipse class="k12" cx="461.7" cy="25.0" rx="0.7" ry="0.9"/>
<circle class="k12" cx="470.4" cy="56.1" r="1.2"/>
<ellipse class="k14" cx="440.3" cy="25.0" rx="1.1" ry="0.7"/>
<ellipse class="k11" cx="448.7" cy="74.4" rx="0.6" ry="1.0"/>
<circle class="k13" cx="497.8" cy="62.0" r="1.0"/>
<circle class="k14" cx="464.8" cy="53.3" r="1.1"/>
<ellipse class="k15" cx="511.0" cy="42.9" rx="0.8" ry="1.0"/>
<ellipse class="k13" cx="508.4" cy="53.8" rx="1.2" ry="1.3"/>
<ellipse class="k14" cx="407.8" cy="7.7" rx="1.2" ry="1.0"/>
<circle class="k13" cx="442.5" cy="35.2" r="1.3"/>
<circle class="k12" cx="418.2" cy="16.2" r="1.2"/>
<ellipse class="k14" cx="481.3" cy="11.0" rx="1.3" ry="1.1"/>
<ellipse class="k14" cx="481.0" cy="70.2" rx="0.8" ry="1.1"/>
<circle class="k15" cx="472.5" cy="19.3" r="1.2"/>
<ellipse class="k13" cx="509.2" cy="41.1" rx="0.8" ry="1.3"/>
<ellipse class="k13" cx="460.7" cy="63.6" rx="1.2" ry="0.9"/>
<circle class="k12" cx="447.0" cy="44.1" r="1.0"/>
<ellipse class="k13" cx="495.2" cy="59.6" rx="1.3" ry="0.8"/>
<ellipse class="k12" cx="433.6" cy="48.0" rx="0.9" ry="0.7"/>
<ellipse class="k12" cx="407.7" cy="43.2" rx="1.0" ry="1.2"/>
<ellipse class="k12" cx="498.6" cy="16.5" rx="0.9" ry="1.2"/>
<ellipse class="k12" cx="460.1" cy="34.5" rx="0.8" ry="1.1"/>
<ellipse class="k15" cx="443.1" cy="26.2" rx="0.9" ry="0.7"/>
<ellipse class="k14" cx="512.9" cy="41.3" rx="0.7" ry="1.1"/>
<circle class="k14" cx="451.8" cy="67.1" r="1.2"/>
<circle class="k13" cx="513.0" cy="46.8" r="1.2"/>
<ellipse class="k12" cx="445.6" cy="30.8" rx="1.2" ry="0.9"/>
<ellipse class="k15" cx="494.0" cy="58.4" rx="0.8" ry="1.0"/>
<ellipse class="k13" cx="487.7" cy="70.3" rx="0.9" ry="1.3"/>
<ellipse class="k13" cx="510.0" cy="19.2" rx="1.0" ry="1.2"/>
<ellipse class="k15" cx="465.6" cy="74.0" rx="1.4" ry="0.9"/>
<ellipse class="k13" cx="470.3" cy="43.6" rx="0.7" ry="1.0"/>
<circle class="k11" cx="444.1" cy="25.0" r="0.9"/>
<ellipse class="k13" cx="501.8" cy="67.0" rx="1.3" ry="0.9"/>
<ellipse class="k12" cx="445.8" cy="27.0" rx="0.7" ry="0.9"/>
<ellipse class="k12" cx="468.2" cy="9.1" rx="1.1" ry="1.2"/>
<circle class="k15" cx="467.5" cy="30.0" r="1.2"/>
<circle class="k11" cx="435.9" cy="40.5" r="0.9"/>
<ellipse class="k14" cx="462.9" cy="58.2" rx="1.3" ry="1.1"/>
<ellipse class="k12" cx="512.7" cy="7.5" rx="1.1" ry="0.6"/>
<ellipse class="k15" cx="430.8" cy="54.2" rx="0.8" ry="1.1"/>
<ellipse class="k15" cx="426.1" cy="68.6" rx="1.1" ry="0.9"/>
<ellipse class="k15" cx="474.3" cy="47.3" rx="1.1" ry="1.0"/>
<ellipse class="k13" cx="442.1" cy="66.8" rx="0.7" ry="1.0"/>
<circle class="k12" cx="426.0" cy="61.1" r="1.0"/>
<ellipse class="k11" cx="416.2" cy="43.3" rx="0.8" ry="1.2"/>
<circle class="k15" cx="455.9" cy="17.9" r="1.2"/>
<ellipse class="k15" cx="422.8" cy="56.3" rx="1.0" ry="1.3"/>
<ellipse class="k15" cx="476.1" cy="58.9" rx="1.0" ry="1.2"/>
<circle class="k12" cx="432.8" cy="66.7" r="1.3"/>
<circle class="k13" cx="426.9" cy="60.6" r="1.3"/>
<ellipse class="k12" cx="476.3" cy="55.6" rx="0.6" ry="0.9"/>
<ellipse class="k15" cx="460.1" cy="27.5" rx="0.7" ry="1.1"/>
<ellipse class="k11" cx="514.8" cy="65.6" rx="0.8" ry="1.3"/>
<circle class="k13" cx="425.3" cy="72.1" r="1.1"/>
<ellipse class="k15" cx="466.6" cy="41.0" rx="0.8" ry="1.1"/>
<ellipse class="k15" cx="493.9" cy="44.1" rx="1.0" ry="1.3"/>
<circle class="k15" cx="488.1" cy="36.9" r="1.3"/>
<ellipse class="k14" cx="467.3" cy="39.2" rx="1.0" ry="0.8"/>
<circle class="k11" cx="493.7" cy="33.8" r="1.1"/>
<ellipse class="k14" cx="500.9" cy="26.0" rx="1.3" ry="1.1"/>
<ellipse class="k12" cx="461.3" cy="11.3" rx="0.8" ry="1.0"/>
<circle class="k14" cx="445.6" cy="67.6" r="1.0"/>
<circle class="k14" cx="509.1" cy="68.9" r="1.0"/>
<ellipse class="k13" cx="404.8" cy="53.3" rx="1.2" ry="0.9"/>
<circle class="k12" cx="463.2" cy="13.2" r="1.0"/>
<ellipse class="k11" cx="454.9" cy="73.2" rx="1.3" ry="1.0"/>
<circle class="k11" cx="464.2" cy="28.4" r="1.1"/>
<ellipse class="k12" cx="464.9" cy="68.2" rx="0.9" ry="1.3"/>
<ellipse class="k15" cx="446.7" cy="66.5" rx="0.8" ry="1.1"/>
<circle class="k12" cx="402.6" cy="33.2" r="1.0"/>
<circle class="k13" cx="452.4" cy="12.2" r="1.1"/>
<ellipse class="k13" cx="473.9" cy="37.3" rx="1.3" ry="0.9"/>
<circle class="k13" cx="435.6" cy="17.1" r="1.1"/>
<circle class="k11" cx="488.8" cy="62.3" r="1.3"/>
<circle class="k11" cx="492.5" cy="20.4" r="1.3"/>
<ellipse class="k14" cx="450.8" cy="36.7" rx="0.8" ry="1.2"/>
<ellipse class="k13" cx="506.4" cy="18.5" rx="0.9" ry="1.2"/>
<ellipse class="k14" cx="410.6" cy="53.4" rx="0.8" ry="1.2"/>
<ellipse class="k12" cx="403.0" cy="68.0" rx="1.2" ry="0.9"/>
<ellipse class="k12" cx="463.4" cy="57.8" rx="1.3" ry="0.9"/>
<circle class="k13" cx="491.6" cy="58.8" r="0.9"/>
<circle class="k15" cx="480.7" cy="55.6" r="1.1"/>
<circle class="k14" cx="416.1" cy="15.6" r="0.9"/>
<ellipse class="k11" cx="409.4" cy="54.8" rx="1.0" ry="0.7"/>
<circle class="k15" cx="430.3" cy="8.8" r="1.2"/>
<ellipse class="k13" cx="492.0" cy="37.5" rx="0.7" ry="1.1"/>
<circle class="k12" cx="445.6" cy="61.2" r="1.3"/>
<circle class="k11" cx="472.6" cy="50.1" r="0.8"/>
<circle class="k13" cx="444.1" cy="18.8" r="1.2"/>
<ellipse class="k14" cx="508.3" cy="18.1" rx="1.2" ry="0.7"/>
<ellipse class="k13" cx="413.9" cy="31.2" rx="0.8" ry="1.4"/>
<ellipse class="k15" cx="469.8" cy="11.7" rx="1.1" ry="0.9"/>
<ellipse class="k12" cx="479.6" cy="71.4" rx="0.7" ry="1.0"/>
<ellipse class="k15" cx="466.1" cy="6.3" rx="0.7" ry="1.1"/>
<circle class="k12" cx="418.9" cy="37.0" r="1.2"/>
<ellipse class="k11" cx="444.7" cy="67.0" rx="1.1" ry="0.9"/>
<ellipse class="k13" cx="460.2" cy="24.3" rx="1.2" ry="0.8"/>
<ellipse class="k11" cx="469.4" cy="34.8" rx="0.9" ry="1.2"/>
<ellipse class="k14" cx="455.8" cy="17.6" rx="1.2" ry="0.9"/>
<circle class="k12" cx="468.4" cy="61.6" r="1.1"/>
<circle class="k11" cx="453.2" cy="22.4" r="1.1"/>
<ellipse class="k13" cx="499.9" cy="47.4" rx="0.9" ry="0.6"/>
<ellipse class="k14" cx="460.5" cy="51.9" rx="1.1" ry="0.7"/>
<circle class="k11" cx="473.9" cy="47.5" r="1.2"/>
<ellipse class="k15" cx="428.4" cy="64.9" rx="1.1" ry="1.3"/>
<ellipse class="k12" cx="515.5" cy="26.2" rx="0.8" ry="1.2"/>
<ellipse class="k15" cx="463.6" cy="29.2" rx="0.9" ry="1.2"/>
<circle class="k13" cx="500.6" cy="53.1" r="1.2"/>
<ellipse class="k14" cx="462.1" cy="65.0" rx="1.0" ry="0.7"/>
<circle class="k12" cx="475.5" cy="41.8" r="1.1"/>
<ellipse class="k11" cx="463.5" cy="30.3" rx="0.8" ry="1.0"/>
<ellipse class="k11" cx="445.7" cy="25.8" rx="1.0" ry="0.6"/>
<ellipse class="k12" cx="509.4" cy="27.6" rx="0.9" ry="0.7"/>
<ellipse class="k13" cx="477.6" cy="41.8" rx="0.9" ry="0.6"/>
<ellipse class="k12" cx="455.3" cy="66.0" rx="1.1" ry="1.3"/>
<ellipse class="k13" cx="437.5" cy="28.7" rx="1.3" ry="0.9"/>
<ellipse class="k12" cx="465.0" cy="35.3" rx="1.0" ry="1.3"/>
<circle class="k15" cx="482.6" cy="34.6" r="1.1"/>
<ellipse class="k14" cx="430.2" cy="38.1" rx="0.8" ry="1.4"/>
<ellipse class="k14" cx="508.1" cy="35.7" rx="1.1" ry="0.7"/>
<ellipse class="k15" cx="430.7" cy="17.2" rx="0.9" ry="0.6"/>
<ellipse class="k12" cx="461.7" cy="37.2" rx="1.1" ry="1.4"/>
<ellipse class="k11" cx="462.8" cy="26.6" rx="0.8" ry="1.2"/>
<ellipse class="k13" cx="415.8" cy="71.1" rx="0.7" ry="1.1"/>
<ellipse class="k13" cx="503.5" cy="43.5" rx="0.7" ry="1.0"/>
<ellipse class="k15" cx="416.4" cy="54.0" rx="0.7" ry="1.0"/>
<circle class="k13" cx="453.0" cy="28.4" r="1.3"/>
<ellipse class="k15" cx="446.1" cy="47.0" rx="0.9" ry="1.2"/>
<ellipse class="k12" cx="405.6" cy="58.1" rx="0.6" ry="1.0"/>
<circle class="k13" cx="509.2" cy="10.7" r="1.2"/>
<ellipse class="k12" cx="450.1" cy="27.8" rx="1.2" ry="0.8"/>
<ellipse class="k14" cx="403.3" cy="42.2" rx="1.1" ry="0.8"/>
<circle class="k15" cx="513.2" cy="68.5" r="1.0"/>
<ellipse class="k12" cx="479.8" cy="39.6" rx="1.2" ry="1.1"/>
<ellipse class="k13" cx="427.0" cy="11.7" rx="1.3" ry="0.8"/>
<circle class="k15" cx="442.5" cy="60.2" r="1.3"/>
<ellipse class="k12" cx="503.3" cy="26.7" rx="0.8" ry="1.2"/>
<ellipse class="k13" cx="478.6" cy="48.4" rx="0.8" ry="1.2"/>
<circle class="k13" cx="442.5" cy="66.0" r="1.3"/>
<ellipse class="k15" cx="479.1" cy="12.1" rx="1.3" ry="1.2"/>
<ellipse class="k13" cx="459.9" cy="68.0" rx="0.8" ry="1.0"/>
<circle class="k11" cx="465.1" cy="22.2" r="0.9"/>
<ellipse class="k13" cx="406.9" cy="29.2" rx="1.4" ry="1.0"/>
<ellipse class="k14" cx="452.6" cy="29.5" rx="0.8" ry="1.3"/>
<ellipse class="k15" cx="498.4" cy="30.8" rx="0.7" ry="1.0"/>
<circle class="k14" cx="457.4" cy="13.2" r="1.2"/>
<ellipse class="k15" cx="444.9" cy="27.0" rx="1.0" ry="0.7"/>
<ellipse class="k11" cx="502.9" cy="52.8" rx="1.0" ry="0.8"/>
<ellipse class="k13" cx="501.0" cy="35.3" rx="1.4" ry="1.2"/>
<ellipse class="k13" cx="414.3" cy="7.0" rx="1.0" ry="1.4"/>
<ellipse class="k14" cx="510.2" cy="17.4" rx="1.2" ry="0.8"/>
<circle class="k14" cx="469.0" cy="69.4" r="1.1"/>
<circle class="k12" cx="477.5" cy="13.5" r="1.2"/>
<circle class="k13" cx="441.7" cy="51.0" r="1.4"/>
<ellipse class="k12" cx="451.8" cy="61.3" rx="0.6" ry="1.0"/>
<ellipse class="k12" cx="488.7" cy="23.0" rx="0.9" ry="1.3"/>
<circle class="k12" cx="452.4" cy="49.8" r="0.9"/>
<circle class="k11" cx="435.9" cy="45.2" r="0.9"/>
<circle class="k12" cx="402.0" cy="34.7" r="1.2"/>
<circle class="k14" cx="401.5" cy="41.5" r="1.4"/>
<ellipse class="k11" cx="416.3" cy="21.7" rx="1.0" ry="0.8"/>
<circle class="k14" cx="470.5" cy="42.5" r="1.0"/>
<ellipse class="k11" cx="426.1" cy="53.7" rx="0.9" ry="1.4"/>
<ellipse class="k12" cx="488.7" cy="15.4" rx="1.3" ry="0.8"/>
<circle class="k13" cx="472.6" cy="29.0" r="1.0"/>
<circle class="k12" cx="403.8" cy="54.1" r="0.8"/>
<ellipse class="k13" cx="482.9" cy="7.1" rx="0.9" ry="1.4"/>
<circle class="k12" cx="436.7" cy="34.8" r="1.4"/>
<circle class="k13" cx="501.6" cy="8.4" r="1.3"/>
<circle class="k11" cx="465.8" cy="13.6" r="1.3"/>
<circle class="k13" cx="494.5" cy="15.3" r="1.0"/>
<ellipse class="k12" cx="445.7" cy="43.1" rx="1.2" ry="0.7"/>
<ellipse class="k13" cx="462.4" cy="58.0" rx="1.3" ry="0.8"/>
<circle class="k13" cx="509.1" cy="53.0" r="0.8"/>
<ellipse class="k11" cx="516.0" cy="58.3" rx="0.8" ry="1.1"/>
<ellipse class="k15" cx="427.3" cy="64.7" rx="1.2" ry="0.9"/>
<ellipse class="k11" cx="514.2" cy="58.2" rx="1.1" ry="0.9"/>
<ellipse class="k13" cx="472.3" cy="21.9" rx="1.1" ry="1.3"/>
<ellipse class="k11" cx="470.4" cy="58.1" rx="1.2" ry="0.8"/>
<ellipse class="k11" cx="416.9" cy="72.7" rx="0.6" ry="1.0"/>
<circle class="k15" cx="439.2" cy="56.8" r="1.2"/>
<ellipse class="k14" cx="446.8" cy="51.6" rx="0.7" ry="1.0"/>
<ellipse class="k13" cx="464.9" cy="36.8" rx="1.2" ry="1.3"/>
<ellipse class="k11" cx="462.9" cy="13.8" rx="1.2" ry="1.1"/>
<circle class="k15" cx="493.8" cy="59.9" r="1.1"/>
<circle class="k15" cx="458.9" cy="46.4" r="1.2"/>
<ellipse class="k12" cx="441.7" cy="16.1" rx="1.1" ry="0.8"/>
<ellipse class="k14" cx="447.7" cy="37.9" rx="0.6" ry="1.0"/>
<ellipse class="k11" cx="452.9" cy="27.3" rx="1.0" ry="0.8"/>
<ellipse class="k14" cx="486.9" cy="9.0" rx="0.6" ry="0.9"/>
<ellipse class="k12" cx="427.0" cy="52.0" rx="1.2" ry="0.8"/>
<circle class="k15" cx="409.4" cy="54.7" r="1.1"/>
<ellipse class="k12" cx="456.0" cy="41.4" rx="0.8" ry="1.3"/>
<ellipse class="k13" cx="462.6" cy="14.8" rx="0.8" ry="1.2"/>
<ellipse class="k14" cx="504.0" cy="58.8" rx="1.0" ry="0.8"/>
<ellipse class="k15" cx="502.5" cy="29.2" rx="1.0" ry="1.3"/>
<circle class="k11" cx="487.6" cy="48.1" r="1.0"/>
<ellipse class="k14" cx="418.8" cy="40.9" rx="1.4" ry="0.9"/>
<circle class="k11" cx="433.1" cy="60.5" r="1.3"/>
<ellipse class="k14" cx="513.7" cy="13.4" rx="0.9" ry="1.2"/>
<circle class="k11" cx="460.6" cy="14.3" r="1.2"/>
<ellipse class="k13" cx="441.1" cy="71.9" rx="0.8" ry="1.1"/>
<ellipse class="k15" cx="420.4" cy="62.0" rx="1.3" ry="0.9"/>
<ellipse class="k13" cx="429.9" cy="43.2" rx="1.3" ry="0.9"/>
<ellipse class="k11" cx="421.1" cy="66.5" rx="1.1" ry="1.2"/>
<ellipse class="k15" cx="493.1" cy="40.9" rx="1.3" ry="1.1"/>
<circle class="k12" cx="469.0" cy="54.1" r="1.2"/>
<circle class="k14" cx="465.9" cy="11.4" r="1.1"/>
<ellipse class="k11" cx="431.6" cy="50.3" rx="0.8" ry="1.0"/>
<circle class="k11" cx="477.8" cy="64.3" r="1.1"/>
<ellipse class="k14" cx="490.6" cy="18.7" rx="1.2" ry="1.0"/>
<circle class="k14" cx="467.4" cy="41.0" r="0.9"/>
<circle class="k13" cx="463.0" cy="70.4" r="1.2"/>
<circle class="k12" cx="512.8" cy="34.0" r="1.2"/>
<circle class="k11" cx="417.4" cy="25.8" r="1.2"/>
<ellipse class="k13" cx="512.5" cy="74.1" rx="1.3" ry="0.9"/>
<ellipse class="k13" cx="417.7" cy="67.1" rx="0.7" ry="0.9"/>
<ellipse class="k12" cx="485.7" cy="20.0" rx="0.9" ry="1.3"/>
<ellipse class="k13" cx="501.2" cy="72.7" rx="0.9" ry="1.3"/>
<circle class="k13" cx="434.2" cy="45.5" r="1.0"/>
<ellipse class="k11" cx="411.5" cy="11.7" rx="0.7" ry="1.0"/>
<ellipse class="k13" cx="413.1" cy="10.2" rx="1.0" ry="0.7"/>
<ellipse class="k12" cx="446.6" cy="32.9" rx="1.0" ry="1.3"/>
<ellipse class="k11" cx="437.6" cy="46.8" rx="1.0" ry="1.2"/>
<ellipse class="k11" cx="462.9" cy="34.0" rx="1.3" ry="1.1"/>
<ellipse class="k13" cx="432.6" cy="16.0" rx="1.1" ry="0.9"/>
<circle class="k12" cx="456.7" cy="33.6" r="1.0"/>
<ellipse class="k13" cx="424.4" cy="73.2" rx="0.9" ry="1.3"/>
<ellipse class="k11" cx="423.2" cy="49.5" rx="0.8" ry="1.1"/>
<circle class="k13" cx="427.9" cy="69.6" r="1.2"/>
<ellipse class="k15" cx="500.7" cy="17.7" rx="1.1" ry="0.9"/>
<circle class="k15" cx="434.5" cy="27.6" r="1.0"/>
<ellipse class="k14" cx="509.4" cy="27.0" rx="1.1" ry="0.7"/>
<ellipse class="k13" cx="457.6" cy="35.6" rx="1.4" ry="1.0"/>
<ellipse class="k12" cx="483.5" cy="23.0" rx="1.4" ry="1.1"/>
<ellipse class="k13" cx="471.7" cy="49.1" rx="0.7" ry="1.1"/>
<circle class="k15" cx="418.8" cy="64.4" r="0.9"/>
<ellipse class="k13" cx="498.0" cy="64.6" rx="1.4" ry="1.0"/>
<ellipse class="k14" cx="405.6" cy="29.8" rx="0.9" ry="1.2"/>
<ellipse class="k13" cx="460.9" cy="28.3" rx="0.8" ry="1.0"/>
<circle class="k12" cx="451.1" cy="71.6" r="1.3"/>
<ellipse class="k12" cx="450.8" cy="44.8" rx="0.6" ry="1.0"/>
<ellipse class="k11" cx="489.8" cy="33.7" rx="1.2" ry="0.8"/>
<ellipse class="k11" cx="463.0" cy="49.9" rx="0.9" ry="0.8"/>
</g>
</g>
<clipPath id="c13"><rect x="291.2" y="80.2" width="110.3" height="62.4"/></clipPath>
<g clip-path="url(#c13)"><rect x="291.2" y="80.2" width="110.3" height="62.4" fill="#d8aab4"/>
<g filter="url(#bh)">
<ellipse class="k16" cx="318.3" cy="124.1" rx="2.5" ry="2.7"/>
<ellipse class="k16" cx="365.7" cy="136.7" rx="1.7" ry="2.6"/>
<ellipse class="k17" cx="374.8" cy="79.3" rx="1.7" ry="1.5"/>
<circle class="k18" cx="385.2" cy="83.0" r="2.7"/>
<ellipse class="k18" cx="374.8" cy="142.1" rx="2.8" ry="2.0"/>
<ellipse class="k17" cx="392.7" cy="114.8" rx="3.2" ry="2.8"/>
<ellipse class="k18" cx="364.4" cy="100.9" rx="2.1" ry="2.5"/>
<ellipse class="k16" cx="352.7" cy="128.4" rx="1.5" ry="1.7"/>
<ellipse class="k17" cx="322.3" cy="89.5" rx="1.6" ry="2.1"/>
<ellipse class="k16" cx="334.2" cy="86.1" rx="1.6" ry="2.3"/>
<ellipse class="k19" cx="369.8" cy="86.2" rx="1.9" ry="2.2"/>
<ellipse class="k18" cx="371.8" cy="141.0" rx="1.6" ry="1.0"/>
<circle class="k17" cx="362.5" cy="88.1" r="2.2"/>
<ellipse class="k20" cx="311.8" cy="135.6" rx="1.9" ry="2.1"/>
<ellipse class="k19" cx="315.8" cy="111.1" rx="3.0" ry="1.8"/>
<ellipse class="k20" cx="330.0" cy="127.0" rx="1.5" ry="2.1"/>
<ellipse class="k20" cx="301.3" cy="92.6" rx="1.6" ry="1.4"/>
<ellipse class="k16" cx="369.0" cy="143.6" rx="2.9" ry="2.5"/>
<ellipse class="k19" cx="404.3" cy="85.5" rx="2.0" ry="1.4"/>
<ellipse class="k16" cx="397.3" cy="112.9" rx="1.8" ry="2.9"/>
<ellipse class="k17" cx="345.9" cy="143.5" rx="2.4" ry="1.9"/>
<ellipse class="k18" cx="381.1" cy="102.9" rx="1.8" ry="2.7"/>
<ellipse class="k16" cx="367.8" cy="135.3" rx="1.6" ry="1.9"/>
<ellipse class="k18" cx="357.1" cy="106.5" rx="2.0" ry="2.6"/>
<ellipse class="k16" cx="298.3" cy="129.1" rx="2.5" ry="1.5"/>
<ellipse class="k16" cx="340.5" cy="145.0" rx="2.2" ry="1.4"/>
<ellipse class="k20" cx="305.5" cy="80.8" rx="1.4" ry="2.1"/>
<ellipse class="k20" cx="333.4" cy="79.5" rx="1.3" ry="1.7"/>
<ellipse class="k17" cx="403.3" cy="80.2" rx="2.4" ry="1.6"/>
<circle class="k16" cx="307.6" cy="137.9" r="2.8"/>
<ellipse class="k19" cx="298.6" cy="140.9" rx="1.6" ry="1.1"/>
<ellipse class="k18" cx="371.7" cy="122.8" rx="3.1" ry="2.5"/>
<ellipse class="k20" cx="310.9" cy="104.1" rx="1.3" ry="1.6"/>
<ellipse class="k20" cx="304.2" cy="113.7" rx="2.3" ry="2.9"/>
<ellipse class="k19" cx="322.8" cy="83.1" rx="1.6" ry="1.0"/>
<ellipse class="k16" cx="349.2" cy="95.8" rx="1.7" ry="1.2"/>
<ellipse class="k19" cx="360.6" cy="134.2" rx="2.7" ry="1.9"/>
<ellipse class="k16" cx="299.2" cy="105.0" rx="1.6" ry="2.2"/>
<ellipse class="k16" cx="340.6" cy="77.5" rx="1.1" ry="1.5"/>
<ellipse class="k18" cx="399.1" cy="142.3" rx="2.1" ry="1.4"/>
<circle class="k18" cx="335.8" cy="87.8" r="2.4"/>
<circle class="k20" cx="371.2" cy="134.1" r="1.5"/>
<ellipse class="k18" cx="309.0" cy="84.2" rx="2.5" ry="1.8"/>
<ellipse class="k18" cx="354.6" cy="126.8" rx="1.6" ry="1.4"/>
<ellipse class="k20" cx="291.3" cy="113.6" rx="2.5" ry="2.8"/>
<circle class="k18" cx="306.1" cy="80.9" r="2.3"/>
<ellipse class="k17" cx="290.7" cy="83.6" rx="2.0" ry="1.6"/>
<circle class="k20" cx="364.1" cy="118.8" r="2.4"/>
<circle class="k16" cx="374.3" cy="84.1" r="3.1"/>
<ellipse class="k16" cx="367.4" cy="126.5" rx="2.2" ry="2.6"/>
<ellipse class="k20" cx="302.8" cy="89.4" rx="1.4" ry="1.7"/>
<ellipse class="k20" cx="291.2" cy="108.8" rx="2.1" ry="1.8"/>
<ellipse class="k18" cx="347.9" cy="81.8" rx="2.4" ry="3.0"/>
<ellipse class="k18" cx="366.4" cy="139.6" rx="2.0" ry="2.7"/>
<ellipse class="k18" cx="396.6" cy="97.7" rx="3.1" ry="1.9"/>
<ellipse class="k16" cx="335.9" cy="115.8" rx="1.8" ry="2.8"/>
<ellipse class="k20" cx="350.1" cy="144.9" rx="2.4" ry="2.9"/>
<ellipse class="k16" cx="322.5" cy="91.1" rx="2.0" ry="3.2"/>
<ellipse class="k16" cx="399.4" cy="115.1" rx="2.6" ry="1.9"/>
<ellipse class="k18" cx="369.4" cy="80.6" rx="1.9" ry="1.6"/>
<ellipse class="k20" cx="369.7" cy="131.7" rx="2.0" ry="3.0"/>
<ellipse class="k18" cx="294.2" cy="133.3" rx="2.5" ry="2.8"/>
<ellipse class="k18" cx="323.7" cy="97.5" rx="1.9" ry="1.8"/>
<ellipse class="k16" cx="393.7" cy="96.4" rx="2.7" ry="1.7"/>
<ellipse class="k20" cx="293.7" cy="85.4" rx="2.8" ry="1.8"/>
<ellipse class="k20" cx="323.7" cy="84.3" rx="2.3" ry="1.4"/>
<ellipse class="k19" cx="351.6" cy="86.6" rx="2.3" ry="1.8"/>
<ellipse class="k17" cx="288.4" cy="137.9" rx="1.7" ry="1.1"/>
<ellipse class="k16" cx="340.2" cy="106.0" rx="1.7" ry="1.0"/>
<ellipse class="k17" cx="328.7" cy="106.5" rx="1.7" ry="2.2"/>
<ellipse class="k19" cx="375.0" cy="84.5" rx="2.8" ry="2.3"/>
<ellipse class="k16" cx="381.1" cy="118.2" rx="2.8" ry="2.2"/>
<circle class="k18" cx="360.2" cy="103.0" r="1.4"/>
<ellipse class="k20" cx="334.7" cy="82.7" rx="1.9" ry="1.3"/>
<circle class="k18" cx="293.9" cy="108.8" r="1.7"/>
<ellipse class="k16" cx="374.7" cy="138.1" rx="2.0" ry="2.4"/>
<ellipse class="k16" cx="401.3" cy="80.3" rx="2.0" ry="1.5"/>
<ellipse class="k18" cx="374.3" cy="108.6" rx="2.9" ry="2.0"/>
<ellipse class="k16" cx="375.9" cy="104.1" rx="2.2" ry="1.5"/>
<ellipse class="k20" cx="353.8" cy="106.1" rx="1.4" ry="1.6"/>
<circle class="k18" cx="333.9" cy="139.9" r="2.2"/>
<circle class="k20" cx="400.9" cy="117.3" r="2.3"/>
<ellipse class="k19" cx="289.7" cy="125.8" rx="2.3" ry="1.6"/>
<ellipse class="k19" cx="337.1" cy="141.2" rx="2.3" ry="3.0"/>
<circle class="k19" cx="311.7" cy="127.2" r="2.3"/>
<ellipse class="k18" cx="308.9" cy="81.8" rx="1.4" ry="1.8"/>
<circle class="k20" cx="288.4" cy="126.3" r="1.5"/>
<ellipse class="k19" cx="295.8" cy="113.2" rx="1.5" ry="1.8"/>
<ellipse class="k17" cx="332.6" cy="91.2" rx="3.2" ry="2.5"/>
<ellipse class="k16" cx="304.8" cy="120.2" rx="1.7" ry="2.6"/>
<ellipse class="k20" cx="355.6" cy="141.3" rx="2.7" ry="2.5"/>
<ellipse class="k17" cx="372.2" cy="112.2" rx="1.5" ry="1.8"/>
<circle class="k16" cx="321.5" cy="130.0" r="1.4"/>
<ellipse class="k20" cx="318.9" cy="126.4" rx="1.6" ry="2.3"/>
<ellipse class="k16" cx="394.2" cy="125.4" rx="3.0" ry="2.6"/>
<ellipse class="k16" cx="337.3" cy="93.7" rx="2.0" ry="2.2"/>
<circle class="k17" cx="292.3" cy="99.7" r="1.5"/>
<circle class="k18" cx="298.1" cy="129.5" r="2.8"/>
<ellipse class="k20" cx="390.5" cy="109.2" rx="2.7" ry="2.1"/>
<circle class="k19" cx="327.7" cy="127.6" r="2.1"/>
<ellipse class="k20" cx="357.4" cy="142.2" rx="1.5" ry="1.8"/>
<ellipse class="k18" cx="322.2" cy="111.1" rx="2.8" ry="2.4"/>
<ellipse class="k16" cx="310.7" cy="116.7" rx="1.3" ry="2.2"/>
<ellipse class="k16" cx="343.1" cy="123.9" rx="2.2" ry="1.4"/>
<ellipse class="k18" cx="362.8" cy="118.4" rx="1.9" ry="2.7"/>
<ellipse class="k18" cx="290.6" cy="88.6" rx="2.1" ry="1.9"/>
<ellipse class="k16" cx="288.3" cy="106.1" rx="2.0" ry="2.7"/>
<ellipse class="k20" cx="375.5" cy="129.9" rx="2.6" ry="1.8"/>
<ellipse class="k17" cx="344.0" cy="78.8" rx="1.4" ry="2.0"/>
<ellipse class="k19" cx="329.6" cy="138.3" rx="2.9" ry="2.7"/>
<ellipse class="k20" cx="289.9" cy="139.9" rx="2.8" ry="2.0"/>
<circle class="k17" cx="373.2" cy="93.7" r="1.6"/>
<ellipse class="k18" cx="324.8" cy="94.7" rx="1.9" ry="2.7"/>
<ellipse class="k16" cx="302.5" cy="138.3" rx="1.1" ry="1.7"/>
<ellipse class="k17" cx="367.0" cy="143.5" rx="2.1" ry="1.5"/>
<ellipse class="k18" cx="302.6" cy="123.8" rx="2.5" ry="3.1"/>
<ellipse class="k18" cx="297.0" cy="116.0" rx="2.4" ry="1.7"/>
<circle class="k20" cx="344.0" cy="81.9" r="1.6"/>
<circle class="k18" cx="289.7" cy="99.9" r="2.2"/>
<circle class="k20" cx="398.1" cy="84.5" r="1.9"/>
<circle class="k18" cx="300.3" cy="126.3" r="1.6"/>
<ellipse class="k18" cx="366.4" cy="136.5" rx="1.4" ry="2.2"/>
<ellipse class="k16" cx="289.0" cy="133.7" rx="2.3" ry="2.9"/>
<circle class="k16" cx="331.8" cy="96.9" r="2.0"/>
<circle class="k17" cx="293.3" cy="141.3" r="2.8"/>
<ellipse class="k18" cx="393.8" cy="136.2" rx="1.7" ry="2.1"/>
<ellipse class="k16" cx="342.2" cy="101.2" rx="1.3" ry="2.2"/>
<ellipse class="k16" cx="401.8" cy="131.4" rx="1.8" ry="2.9"/>
<circle class="k17" cx="308.2" cy="91.1" r="2.8"/>
<ellipse class="k18" cx="300.6" cy="131.3" rx="2.4" ry="1.6"/>
<ellipse class="k17" cx="384.9" cy="80.9" rx="3.1" ry="1.9"/>
<ellipse class="k17" cx="317.9" cy="139.1" rx="1.9" ry="2.3"/>
<ellipse class="k20" cx="373.3" cy="107.5" rx="2.1" ry="1.9"/>
<ellipse class="k18" cx="318.4" cy="109.2" rx="3.1" ry="2.7"/>
<ellipse class="k18" cx="306.0" cy="140.3" rx="1.5" ry="2.4"/>
<ellipse class="k20" cx="383.4" cy="114.0" rx="2.7" ry="2.9"/>
<ellipse class="k20" cx="398.4" cy="103.7" rx="1.6" ry="2.6"/>
<ellipse class="k17" cx="391.6" cy="116.0" rx="1.3" ry="1.5"/>
<ellipse class="k16" cx="297.1" cy="106.3" rx="1.8" ry="2.4"/>
<ellipse class="k19" cx="296.8" cy="107.3" rx="1.4" ry="1.7"/>
<ellipse class="k17" cx="300.7" cy="138.8" rx="2.5" ry="3.1"/>
<circle class="k17" cx="292.6" cy="132.4" r="2.6"/>
<ellipse class="k18" cx="333.4" cy="137.3" rx="3.1" ry="2.4"/>
<ellipse class="k20" cx="348.9" cy="87.0" rx="1.5" ry="1.7"/>
<ellipse class="k18" cx="291.4" cy="95.7" rx="1.8" ry="1.3"/>
<ellipse class="k16" cx="329.6" cy="91.5" rx="1.8" ry="2.5"/>
<circle class="k18" cx="389.2" cy="86.3" r="2.4"/>
<ellipse class="k19" cx="399.5" cy="109.3" rx="1.9" ry="1.2"/>
<ellipse class="k17" cx="367.2" cy="139.4" rx="1.7" ry="1.4"/>
<ellipse class="k20" cx="317.3" cy="140.9" rx="1.3" ry="1.5"/>
<ellipse class="k16" cx="322.0" cy="97.0" rx="1.9" ry="1.5"/>
<circle class="k16" cx="313.6" cy="88.7" r="2.3"/>
<ellipse class="k19" cx="386.0" cy="119.1" rx="1.6" ry="1.0"/>
<ellipse class="k20" cx="369.0" cy="138.2" rx="2.1" ry="2.7"/>
<ellipse class="k18" cx="330.6" cy="91.5" rx="2.5" ry="2.2"/>
<ellipse class="k16" cx="306.1" cy="112.4" rx="1.0" ry="1.6"/>
<ellipse class="k16" cx="326.0" cy="88.0" rx="1.6" ry="1.4"/>
<ellipse class="k16" cx="366.5" cy="136.0" rx="1.7" ry="2.2"/>
<circle class="k16" cx="368.5" cy="113.0" r="2.7"/>
<ellipse class="k20" cx="368.0" cy="145.6" rx="2.5" ry="2.7"/>
<ellipse class="k17" cx="322.4" cy="123.0" rx="1.6" ry="1.2"/>
<ellipse class="k17" cx="347.6" cy="122.7" rx="2.3" ry="2.6"/>
<ellipse class="k16" cx="385.5" cy="99.9" rx="1.9" ry="2.7"/>
<ellipse class="k18" cx="324.8" cy="89.3" rx="2.4" ry="1.9"/>
<circle class="k20" cx="333.8" cy="102.8" r="2.7"/>
<ellipse class="k20" cx="398.4" cy="138.8" rx="2.3" ry="1.5"/>
<ellipse class="k18" cx="352.3" cy="111.4" rx="2.2" ry="3.2"/>
<ellipse class="k16" cx="298.3" cy="145.4" rx="2.4" ry="1.6"/>
<ellipse class="k19" cx="327.9" cy="120.1" rx="1.6" ry="1.3"/>
<ellipse class="k18" cx="382.4" cy="95.7" rx="2.5" ry="2.3"/>
<ellipse class="k20" cx="313.2" cy="89.3" rx="2.2" ry="2.5"/>
<ellipse class="k17" cx="356.1" cy="112.5" rx="1.8" ry="1.3"/>
<ellipse class="k19" cx="299.6" cy="81.2" rx="2.9" ry="2.0"/>
<ellipse class="k19" cx="327.8" cy="91.6" rx="2.4" ry="2.2"/>
<circle class="k17" cx="321.3" cy="85.2" r="1.7"/>
<circle class="k18" cx="366.8" cy="141.9" r="2.7"/>
<ellipse class="k19" cx="327.6" cy="116.5" rx="2.2" ry="2.9"/>
<ellipse class="k19" cx="322.8" cy="142.9" rx="2.8" ry="3.2"/>
<ellipse class="k17" cx="398.4" cy="80.5" rx="1.9" ry="3.0"/>
<ellipse class="k20" cx="312.6" cy="123.5" rx="1.7" ry="2.3"/>
<ellipse class="k19" cx="381.3" cy="129.5" rx="2.6" ry="2.3"/>
<ellipse class="k19" cx="340.6" cy="123.3" rx="2.6" ry="3.1"/>
<ellipse class="k16" cx="394.3" cy="143.0" rx="2.3" ry="2.1"/>
<ellipse class="k17" cx="317.6" cy="110.1" rx="2.0" ry="2.3"/>
<ellipse class="k20" cx="347.7" cy="80.2" rx="2.3" ry="1.7"/>
<circle class="k19" cx="394.0" cy="92.7" r="3.0"/>
<ellipse class="k19" cx="330.0" cy="141.0" rx="1.7" ry="1.2"/>
<circle class="k20" cx="320.7" cy="140.2" r="2.8"/>
<ellipse class="k18" cx="345.0" cy="96.0" rx="2.0" ry="3.1"/>
<ellipse class="k20" cx="323.5" cy="133.8" rx="1.1" ry="1.7"/>
<ellipse class="k18" cx="403.7" cy="118.4" rx="1.7" ry="1.2"/>
<ellipse class="k19" cx="305.3" cy="94.2" rx="2.7" ry="2.9"/>
<ellipse class="k17" cx="332.8" cy="101.8" rx="1.6" ry="2.3"/>
<ellipse class="k17" cx="347.4" cy="89.0" rx="2.7" ry="1.8"/>
<ellipse class="k20" cx="384.8" cy="142.4" rx="2.3" ry="2.0"/>
<ellipse class="k17" cx="314.6" cy="94.5" rx="2.6" ry="2.9"/>
<ellipse class="k20" cx="321.1" cy="113.8" rx="1.6" ry="1.0"/>
<ellipse class="k18" cx="319.2" cy="118.6" rx="3.1" ry="2.7"/>
<circle class="k19" cx="348.0" cy="87.9" r="1.4"/>
<ellipse class="k17" cx="342.3" cy="100.8" rx="1.4" ry="1.7"/>
<ellipse class="k20" cx="347.5" cy="103.2" rx="2.0" ry="3.2"/>
<ellipse class="k19" cx="394.5" cy="123.9" rx="2.9" ry="2.0"/>
<ellipse class="k16" cx="357.8" cy="119.8" rx="1.8" ry="1.1"/>
<ellipse class="k20" cx="304.2" cy="123.7" rx="1.1" ry="1.6"/>
<circle class="k18" cx="340.7" cy="100.1" r="2.2"/>
<circle class="k19" cx="333.9" cy="119.1" r="2.5"/>
<ellipse class="k20" cx="368.5" cy="88.1" rx="2.1" ry="1.7"/>
<circle class="k17" cx="356.8" cy="92.6" r="2.1"/>
<ellipse class="k17" cx="373.5" cy="92.2" rx="1.5" ry="2.5"/>
<ellipse class="k18" cx="290.9" cy="89.8" rx="2.1" ry="1.9"/>
<circle class="k20" cx="389.7" cy="102.4" r="2.1"/>
<ellipse class="k17" cx="339.4" cy="131.8" rx="2.5" ry="1.6"/>
<ellipse class="k17" cx="402.9" cy="128.6" rx="2.7" ry="2.8"/>
<circle class="k20" cx="334.3" cy="117.5" r="1.6"/>
<ellipse class="k17" cx="378.4" cy="108.0" rx="2.3" ry="3.0"/>
<ellipse class="k20" cx="316.1" cy="132.7" rx="2.1" ry="1.5"/>
<ellipse class="k16" cx="309.0" cy="105.6" rx="1.1" ry="1.5"/>
<ellipse class="k20" cx="404.4" cy="109.9" rx="1.6" ry="2.3"/>
<ellipse class="k20" cx="304.1" cy="113.1" rx="2.0" ry="2.9"/>
<ellipse class="k18" cx="339.5" cy="119.9" rx="2.4" ry="2.2"/>
<circle class="k18" cx="364.9" cy="95.4" r="2.8"/>
<ellipse class="k16" cx="319.9" cy="132.8" rx="2.0" ry="1.2"/>
<ellipse class="k16" cx="364.7" cy="112.6" rx="2.1" ry="1.9"/>
<circle class="k17" cx="314.5" cy="83.9" r="1.9"/>
<ellipse class="k19" cx="377.1" cy="112.2" rx="2.6" ry="1.9"/>
<ellipse class="k16" cx="328.6" cy="125.0" rx="2.2" ry="1.5"/>
<ellipse class="k20" cx="301.3" cy="143.1" rx="1.6" ry="1.4"/>
<ellipse class="k16" cx="312.8" cy="118.5" rx="1.6" ry="1.0"/>
<ellipse class="k20" cx="399.3" cy="110.3" rx="2.9" ry="2.4"/>
<ellipse class="k17" cx="352.0" cy="142.5" rx="2.2" ry="2.8"/>
<circle class="k16" cx="336.8" cy="102.2" r="1.5"/>
<ellipse class="k18" cx="331.4" cy="135.1" rx="2.5" ry="1.7"/>
<ellipse class="k17" cx="329.9" cy="86.3" rx="1.9" ry="2.7"/>
<ellipse class="k16" cx="368.8" cy="124.8" rx="2.6" ry="1.6"/>
<ellipse class="k19" cx="326.8" cy="140.7" rx="2.0" ry="3.0"/>
<ellipse class="k17" cx="323.1" cy="84.3" rx="1.1" ry="1.7"/>
<ellipse class="k17" cx="380.5" cy="104.7" rx="1.6" ry="2.6"/>
<ellipse class="k17" cx="291.7" cy="121.0" rx="2.3" ry="1.7"/>
<circle class="k17" cx="400.1" cy="106.6" r="1.4"/>
<ellipse class="k17" cx="324.8" cy="97.1" rx="2.0" ry="2.6"/>
<ellipse class="k17" cx="294.2" cy="125.1" rx="1.6" ry="1.8"/>
<ellipse class="k16" cx="325.3" cy="110.0" rx="2.9" ry="2.3"/>
<ellipse class="k18" cx="387.5" cy="80.9" rx="2.2" ry="1.4"/>
<ellipse class="k19" cx="394.1" cy="83.9" rx="2.1" ry="2.4"/>
<ellipse class="k16" cx="308.9" cy="87.6" rx="1.5" ry="1.8"/>
<ellipse class="k16" cx="334.1" cy="105.3" rx="1.7" ry="1.4"/>
<ellipse class="k17" cx="339.9" cy="114.7" rx="2.6" ry="2.3"/>
<ellipse class="k20" cx="386.1" cy="143.2" rx="1.8" ry="2.3"/>
<ellipse class="k17" cx="367.8" cy="82.6" rx="1.4" ry="1.9"/>
<ellipse class="k16" cx="323.0" cy="116.9" rx="3.0" ry="2.2"/>
<ellipse class="k20" cx="368.0" cy="105.6" rx="2.9" ry="1.8"/>
<ellipse class="k16" cx="350.0" cy="105.2" rx="3.0" ry="2.4"/>
<ellipse class="k18" cx="301.2" cy="117.3" rx="2.3" ry="1.5"/>
<ellipse class="k16" cx="366.5" cy="84.3" rx="2.3" ry="2.7"/>
<ellipse class="k16" cx="344.3" cy="103.6" rx="3.2" ry="2.8"/>
<ellipse class="k16" cx="338.6" cy="98.3" rx="1.9" ry="1.2"/>
<ellipse class="k17" cx="355.9" cy="143.0" rx="2.7" ry="1.9"/>
<ellipse class="k18" cx="295.3" cy="122.3" rx="2.9" ry="3.0"/>
<ellipse class="k19" cx="397.9" cy="98.2" rx="2.1" ry="1.5"/>
<ellipse class="k16" cx="346.4" cy="90.2" rx="3.1" ry="1.9"/>
<ellipse class="k16" cx="295.1" cy="135.0" rx="3.0" ry="1.8"/>
<ellipse class="k18" cx="385.1" cy="131.2" rx="2.6" ry="2.0"/>
<ellipse class="k16" cx="352.1" cy="131.6" rx="2.1" ry="1.9"/>
<circle class="k20" cx="294.2" cy="108.0" r="1.9"/>
<ellipse class="k18" cx="336.8" cy="94.9" rx="1.6" ry="1.8"/>
<ellipse class="k19" cx="330.9" cy="119.3" rx="1.7" ry="2.8"/>
<ellipse class="k20" cx="338.0" cy="130.3" rx="1.5" ry="1.7"/>
<ellipse class="k19" cx="316.0" cy="130.6" rx="1.5" ry="2.3"/>
<ellipse class="k18" cx="331.4" cy="91.6" rx="1.6" ry="2.1"/>
<ellipse class="k18" cx="340.0" cy="94.8" rx="1.3" ry="1.9"/>
<ellipse class="k16" cx="329.7" cy="124.4" rx="2.8" ry="2.5"/>
<ellipse class="k17" cx="397.0" cy="109.1" rx="2.5" ry="1.9"/>
<ellipse class="k20" cx="325.4" cy="79.8" rx="2.6" ry="1.8"/>
<circle class="k18" cx="367.3" cy="110.7" r="2.2"/>
<ellipse class="k17" cx="304.1" cy="83.8" rx="2.0" ry="1.6"/>
<ellipse class="k20" cx="375.0" cy="86.6" rx="3.1" ry="2.7"/>
<circle class="k18" cx="294.0" cy="112.5" r="3.1"/>
<ellipse class="k17" cx="307.1" cy="112.0" rx="1.6" ry="2.1"/>
<ellipse class="k19" cx="373.3" cy="87.8" rx="2.7" ry="1.7"/>
<ellipse class="k16" cx="335.6" cy="116.0" rx="1.9" ry="3.0"/>
<circle class="k19" cx="381.7" cy="87.6" r="2.2"/>
<ellipse class="k17" cx="328.0" cy="122.8" rx="3.1" ry="2.1"/>
<ellipse class="k17" cx="398.9" cy="87.8" rx="1.3" ry="1.8"/>
<ellipse class="k20" cx="356.4" cy="96.1" rx="2.1" ry="2.9"/>
<ellipse class="k20" cx="318.3" cy="113.8" rx="1.9" ry="1.7"/>
<ellipse class="k19" cx="305.8" cy="141.6" rx="1.9" ry="1.2"/>
<ellipse class="k18" cx="354.4" cy="109.9" rx="1.5" ry="2.5"/>
<ellipse class="k20" cx="366.2" cy="104.3" rx="2.7" ry="1.8"/>
<ellipse class="k20" cx="337.2" cy="136.4" rx="2.3" ry="2.0"/>
<ellipse class="k19" cx="400.5" cy="117.5" rx="3.0" ry="2.3"/>
<ellipse class="k20" cx="298.1" cy="139.3" rx="2.5" ry="1.9"/>
<ellipse class="k19" cx="365.5" cy="109.4" rx="1.9" ry="2.8"/>
<ellipse class="k19" cx="348.2" cy="92.7" rx="1.3" ry="1.6"/>
<ellipse class="k18" cx="393.9" cy="86.1" rx="2.1" ry="2.5"/>
<circle class="k16" cx="359.4" cy="104.1" r="2.0"/>
<ellipse class="k20" cx="311.8" cy="77.7" rx="2.2" ry="2.7"/>
<ellipse class="k17" cx="328.5" cy="80.1" rx="2.0" ry="2.3"/>
<ellipse class="k20" cx="303.8" cy="127.9" rx="2.3" ry="1.9"/>
<ellipse class="k16" cx="309.6" cy="79.5" rx="1.8" ry="2.5"/>
<ellipse class="k20" cx="378.0" cy="114.9" rx="1.8" ry="2.1"/>
<ellipse class="k17" cx="369.6" cy="120.5" rx="1.8" ry="2.1"/>
<ellipse class="k18" cx="386.5" cy="124.6" rx="1.1" ry="1.6"/>
<circle class="k20" cx="289.9" cy="129.7" r="3.0"/>
<ellipse class="k20" cx="302.3" cy="106.8" rx="2.2" ry="2.8"/>
<ellipse class="k19" cx="371.5" cy="138.5" rx="2.6" ry="1.6"/>
<circle class="k18" cx="312.9" cy="91.8" r="3.2"/>
<ellipse class="k17" cx="357.3" cy="94.5" rx="2.0" ry="2.4"/>
<ellipse class="k16" cx="346.4" cy="102.8" rx="1.6" ry="1.9"/>
<ellipse class="k18" cx="303.0" cy="137.4" rx="2.0" ry="2.8"/>
<ellipse class="k20" cx="352.6" cy="143.5" rx="1.6" ry="2.2"/>
<ellipse class="k17" cx="380.8" cy="91.6" rx="2.6" ry="2.8"/>
<ellipse class="k16" cx="328.7" cy="113.1" rx="1.9" ry="2.7"/>
<ellipse class="k19" cx="402.0" cy="109.5" rx="3.0" ry="2.1"/>
<circle class="k17" cx="393.2" cy="85.2" r="1.5"/>
<ellipse class="k20" cx="341.4" cy="92.6" rx="2.2" ry="1.9"/>
<ellipse class="k17" cx="342.8" cy="124.8" rx="1.9" ry="1.4"/>
<ellipse class="k18" cx="382.6" cy="142.0" rx="1.9" ry="1.7"/>
<ellipse class="k20" cx="383.5" cy="107.6" rx="2.4" ry="1.8"/>
<ellipse class="k20" cx="364.3" cy="114.8" rx="1.6" ry="2.0"/>
<ellipse class="k18" cx="294.0" cy="141.3" rx="1.7" ry="2.7"/>
</g>
<g filter="url(#bl)">
<circle class="k21" cx="389.5" cy="93.9" r="1.4"/>
<ellipse class="k22" cx="394.3" cy="124.6" rx="1.2" ry="1.5"/>
<circle class="k23" cx="353.8" cy="93.1" r="1.0"/>
<circle class="k23" cx="356.7" cy="105.4" r="1.3"/>
<ellipse class="k24" cx="323.2" cy="110.4" rx="1.2" ry="1.0"/>
<ellipse class="k24" cx="376.3" cy="125.4" rx="1.6" ry="1.0"/>
<circle class="k24" cx="342.4" cy="100.0" r="1.3"/>
<ellipse class="k24" cx="334.0" cy="107.1" rx="1.6" ry="1.3"/>
<ellipse class="k22" cx="389.3" cy="140.5" rx="1.1" ry="1.6"/>
<circle class="k22" cx="345.6" cy="83.9" r="1.5"/>
<ellipse class="k23" cx="312.5" cy="84.8" rx="1.1" ry="1.4"/>
<ellipse class="k22" cx="325.6" cy="135.2" rx="1.3" ry="1.6"/>
<circle class="k21" cx="294.9" cy="135.3" r="1.2"/>
<ellipse class="k22" cx="326.5" cy="85.5" rx="1.4" ry="1.0"/>
<ellipse class="k24" cx="332.8" cy="145.4" rx="1.1" ry="0.8"/>
<ellipse class="k23" cx="354.0" cy="115.8" rx="1.5" ry="1.0"/>
<circle class="k21" cx="291.5" cy="137.2" r="0.9"/>
<ellipse class="k22" cx="393.1" cy="121.9" rx="1.1" ry="1.5"/>
<ellipse class="k24" cx="322.9" cy="85.6" rx="0.9" ry="1.4"/>
<ellipse class="k23" cx="312.8" cy="124.4" rx="1.1" ry="0.9"/>
<circle class="k21" cx="305.6" cy="130.7" r="1.4"/>
<ellipse class="k21" cx="362.0" cy="143.8" rx="0.9" ry="1.4"/>
<ellipse class="k22" cx="313.1" cy="131.2" rx="0.9" ry="1.1"/>
<ellipse class="k24" cx="303.3" cy="88.6" rx="1.0" ry="1.5"/>
<ellipse class="k24" cx="288.4" cy="86.7" rx="1.4" ry="1.1"/>
<circle class="k22" cx="359.1" cy="112.9" r="1.1"/>
<ellipse class="k22" cx="373.6" cy="134.8" rx="1.4" ry="1.6"/>
<ellipse class="k23" cx="315.3" cy="85.4" rx="1.0" ry="1.4"/>
<circle class="k22" cx="360.4" cy="135.4" r="1.5"/>
<ellipse class="k24" cx="290.7" cy="119.6" rx="0.8" ry="1.1"/>
<circle class="k21" cx="332.6" cy="97.1" r="1.0"/>
<circle class="k22" cx="368.9" cy="135.6" r="1.5"/>
<ellipse class="k24" cx="340.9" cy="140.7" rx="1.0" ry="1.5"/>
<ellipse class="k24" cx="359.1" cy="84.6" rx="1.1" ry="1.6"/>
<ellipse class="k24" cx="362.6" cy="117.9" rx="1.5" ry="1.1"/>
<ellipse class="k23" cx="309.9" cy="89.1" rx="1.3" ry="1.6"/>
<circle class="k23" cx="396.1" cy="82.2" r="1.5"/>
<ellipse class="k22" cx="328.8" cy="137.2" rx="1.5" ry="1.6"/>
<ellipse class="k22" cx="313.5" cy="102.9" rx="0.7" ry="1.0"/>
<ellipse class="k23" cx="399.3" cy="107.2" rx="1.2" ry="1.4"/>
<circle class="k24" cx="298.5" cy="121.5" r="1.5"/>
<ellipse class="k24" cx="381.6" cy="132.9" rx="1.1" ry="1.3"/>
<circle class="k22" cx="360.3" cy="124.7" r="1.5"/>
<circle class="k24" cx="345.4" cy="120.4" r="1.4"/>
<ellipse class="k21" cx="352.2" cy="139.3" rx="1.4" ry="1.0"/>
<circle class="k24" cx="328.7" cy="116.0" r="1.3"/>
<ellipse class="k22" cx="402.7" cy="122.4" rx="1.4" ry="1.0"/>
<ellipse class="k23" cx="306.3" cy="90.4" rx="1.4" ry="1.2"/>
<ellipse class="k24" cx="335.0" cy="85.3" rx="1.0" ry="1.3"/>
<circle class="k22" cx="388.0" cy="81.0" r="1.4"/>
<circle class="k24" cx="358.9" cy="88.2" r="1.4"/>
<circle class="k21" cx="339.7" cy="96.1" r="1.2"/>
<circle class="k24" cx="365.5" cy="122.4" r="1.2"/>
<ellipse class="k22" cx="376.5" cy="87.5" rx="1.6" ry="1.5"/>
<ellipse class="k21" cx="366.1" cy="133.3" rx="1.3" ry="1.5"/>
<ellipse class="k24" cx="398.8" cy="98.2" rx="1.1" ry="1.5"/>
<ellipse class="k21" cx="316.1" cy="115.2" rx="1.3" ry="1.0"/>
<circle class="k23" cx="327.8" cy="81.9" r="1.5"/>
<ellipse class="k21" cx="341.5" cy="137.1" rx="1.1" ry="1.6"/>
<ellipse class="k22" cx="364.4" cy="114.1" rx="1.1" ry="1.3"/>
<ellipse class="k22" cx="298.6" cy="81.1" rx="1.4" ry="1.1"/>
<ellipse class="k23" cx="364.5" cy="141.0" rx="1.5" ry="1.2"/>
<ellipse class="k21" cx="345.5" cy="131.1" rx="1.4" ry="0.9"/>
<ellipse class="k23" cx="333.3" cy="97.9" rx="1.4" ry="1.0"/>
<circle class="k24" cx="321.0" cy="104.0" r="0.9"/>
<circle class="k21" cx="349.4" cy="123.2" r="1.5"/>
<circle class="k24" cx="298.2" cy="112.3" r="1.5"/>
<circle class="k23" cx="291.4" cy="80.6" r="1.5"/>
<circle class="k23" cx="383.8" cy="101.6" r="1.0"/>
<ellipse class="k22" cx="345.8" cy="97.0" rx="0.8" ry="1.0"/>
<circle class="k22" cx="381.6" cy="135.3" r="1.4"/>
<circle class="k23" cx="394.5" cy="82.6" r="1.2"/>
<ellipse class="k22" cx="359.4" cy="135.5" rx="1.3" ry="1.0"/>
<circle class="k22" cx="291.6" cy="107.7" r="1.2"/>
<circle class="k22" cx="389.9" cy="86.8" r="1.1"/>
<circle class="k23" cx="296.1" cy="92.5" r="1.4"/>
<ellipse class="k23" cx="380.8" cy="93.9" rx="1.3" ry="1.6"/>
<ellipse class="k23" cx="299.3" cy="137.1" rx="1.6" ry="1.4"/>
<ellipse class="k22" cx="378.8" cy="130.8" rx="1.2" ry="1.5"/>
<circle class="k21" cx="397.1" cy="138.8" r="0.9"/>
<ellipse class="k23" cx="313.2" cy="105.1" rx="1.6" ry="1.2"/>
<ellipse class="k21" cx="306.5" cy="99.5" rx="1.7" ry="1.5"/>
<circle class="k21" cx="373.3" cy="144.5" r="1.5"/>
<ellipse class="k23" cx="300.1" cy="136.8" rx="1.3" ry="1.1"/>
<ellipse class="k22" cx="325.9" cy="102.6" rx="0.9" ry="1.1"/>
<circle class="k23" cx="289.1" cy="82.2" r="1.2"/>
<circle class="k22" cx="378.4" cy="123.9" r="1.2"/>
<ellipse class="k21" cx="400.3" cy="89.8" rx="0.9" ry="1.3"/>
<ellipse class="k24" cx="292.6" cy="82.9" rx="1.5" ry="1.2"/>
<ellipse class="k24" cx="358.1" cy="122.6" rx="1.2" ry="0.9"/>
<ellipse class="k21" cx="398.3" cy="118.5" rx="1.1" ry="1.5"/>
<circle class="k23" cx="334.9" cy="108.4" r="1.4"/>
<circle class="k23" cx="393.4" cy="84.9" r="1.1"/>
<ellipse class="k21" cx="292.9" cy="110.7" rx="1.2" ry="1.7"/>
<ellipse class="k22" cx="395.6" cy="114.4" rx="0.7" ry="1.1"/>
<ellipse class="k23" cx="311.8" cy="112.0" rx="0.9" ry="1.2"/>
<circle class="k22" cx="343.3" cy="93.6" r="1.0"/>
<circle class="k23" cx="366.7" cy="105.6" r="1.3"/>
<ellipse class="k21" cx="335.8" cy="85.3" rx="1.2" ry="1.6"/>
<ellipse class="k24" cx="393.7" cy="108.5" rx="1.0" ry="0.8"/>
<ellipse class="k22" cx="292.8" cy="89.7" rx="1.7" ry="1.4"/>
<ellipse class="k24" cx="359.9" cy="105.3" rx="0.8" ry="1.0"/>
<circle class="k23" cx="288.3" cy="82.4" r="1.2"/>
<circle class="k24" cx="380.8" cy="102.4" r="1.2"/>
<ellipse class="k24" cx="386.4" cy="144.7" rx="1.1" ry="1.7"/>
<ellipse class="k24" cx="386.4" cy="135.7" rx="1.2" ry="1.3"/>
<circle class="k24" cx="299.0" cy="110.0" r="1.5"/>
<ellipse class="k23" cx="371.1" cy="87.6" rx="1.2" ry="1.4"/>
<ellipse class="k21" cx="323.8" cy="108.7" rx="1.3" ry="1.0"/>
<circle class="k23" cx="328.9" cy="82.6" r="1.2"/>
<ellipse class="k24" cx="305.6" cy="101.5" rx="1.3" ry="1.5"/>
<ellipse class="k22" cx="388.1" cy="89.7" rx="1.2" ry="1.5"/>
<circle class="k23" cx="337.2" cy="92.1" r="1.2"/>
<ellipse class="k21" cx="347.5" cy="112.3" rx="1.1" ry="1.6"/>
<ellipse class="k21" cx="326.2" cy="97.2" rx="0.8" ry="1.1"/>
<circle class="k23" cx="326.8" cy="123.4" r="1.0"/>
<ellipse class="k24" cx="375.9" cy="125.4" rx="1.3" ry="1.7"/>
<ellipse class="k22" cx="311.0" cy="128.8" rx="1.3" ry="1.6"/>
<ellipse class="k24" cx="326.6" cy="79.9" rx="1.1" ry="0.9"/>
<circle class="k23" cx="347.5" cy="120.5" r="1.3"/>
<ellipse class="k24" cx="294.7" cy="109.4" rx="1.3" ry="1.0"/>
<circle class="k21" cx="295.5" cy="109.8" r="1.1"/>
<ellipse class="k21" cx="296.3" cy="88.9" rx="1.2" ry="0.8"/>
<ellipse class="k24" cx="298.6" cy="94.5" rx="1.1" ry="1.3"/>
<ellipse class="k22" cx="399.5" cy="114.5" rx="1.6" ry="1.4"/>
<ellipse class="k24" cx="349.8" cy="87.0" rx="1.2" ry="0.9"/>
<ellipse class="k23" cx="376.6" cy="100.7" rx="1.2" ry="1.0"/>
<circle class="k23" cx="323.7" cy="107.3" r="1.1"/>
<ellipse class="k21" cx="374.4" cy="135.0" rx="1.4" ry="1.1"/>
<ellipse class="k22" cx="295.0" cy="140.9" rx="1.2" ry="1.4"/>
<ellipse class="k23" cx="371.2" cy="110.2" rx="1.2" ry="0.9"/>
<circle class="k22" cx="399.5" cy="87.1" r="1.5"/>
<ellipse class="k22" cx="348.7" cy="120.7" rx="1.0" ry="1.4"/>
<ellipse class="k22" cx="302.1" cy="137.8" rx="0.7" ry="1.0"/>
<circle class="k21" cx="294.1" cy="96.0" r="1.4"/>
<circle class="k23" cx="334.3" cy="105.3" r="1.5"/>
<ellipse class="k23" cx="315.2" cy="88.3" rx="1.1" ry="0.8"/>
<ellipse class="k21" cx="351.4" cy="134.2" rx="1.4" ry="1.0"/>
<ellipse class="k23" cx="305.9" cy="86.7" rx="0.8" ry="1.2"/>
<ellipse class="k24" cx="378.7" cy="79.9" rx="1.6" ry="1.3"/>
<ellipse class="k21" cx="400.9" cy="124.8" rx="1.3" ry="1.4"/>
<circle class="k21" cx="305.5" cy="108.3" r="1.5"/>
<ellipse class="k22" cx="318.0" cy="137.8" rx="0.7" ry="1.0"/>
<ellipse class="k23" cx="380.0" cy="129.3" rx="1.0" ry="1.4"/>
<ellipse class="k22" cx="347.2" cy="120.8" rx="0.9" ry="1.2"/>
<ellipse class="k23" cx="352.2" cy="114.1" rx="0.9" ry="1.1"/>
<ellipse class="k21" cx="363.0" cy="136.7" rx="1.2" ry="1.3"/>
<ellipse class="k21" cx="376.5" cy="115.7" rx="1.0" ry="1.1"/>
<ellipse class="k22" cx="361.1" cy="138.9" rx="1.1" ry="0.9"/>
<ellipse class="k24" cx="310.3" cy="122.6" rx="1.7" ry="1.2"/>
<ellipse class="k22" cx="359.1" cy="142.4" rx="1.5" ry="1.2"/>
<ellipse class="k24" cx="293.0" cy="116.1" rx="1.3" ry="0.9"/>
<circle class="k24" cx="328.2" cy="86.2" r="1.3"/>
<ellipse class="k21" cx="377.8" cy="99.5" rx="1.1" ry="1.3"/>
<ellipse class="k23" cx="298.6" cy="111.4" rx="1.2" ry="0.8"/>
<ellipse class="k23" cx="323.7" cy="98.7" rx="1.1" ry="0.8"/>
<circle class="k24" cx="301.5" cy="141.8" r="1.3"/>
<ellipse class="k24" cx="324.8" cy="103.1" rx="0.8" ry="1.1"/>
<circle class="k21" cx="401.8" cy="93.7" r="1.1"/>
<circle class="k21" cx="342.9" cy="104.0" r="1.5"/>
<ellipse class="k23" cx="382.5" cy="138.4" rx="0.8" ry="1.0"/>
<ellipse class="k23" cx="386.4" cy="116.6" rx="1.4" ry="1.1"/>
<ellipse class="k23" cx="364.5" cy="128.3" rx="1.4" ry="1.1"/>
<ellipse class="k24" cx="354.7" cy="84.7" rx="1.2" ry="1.6"/>
<circle class="k23" cx="401.5" cy="93.4" r="1.5"/>
<circle class="k21" cx="312.1" cy="119.9" r="1.1"/>
<circle class="k21" cx="315.3" cy="90.9" r="1.1"/>
<ellipse class="k24" cx="334.0" cy="95.4" rx="1.1" ry="1.4"/>
<ellipse class="k24" cx="398.7" cy="94.0" rx="1.1" ry="0.9"/>
<ellipse class="k23" cx="350.5" cy="135.6" rx="1.6" ry="1.1"/>
<ellipse class="k22" cx="352.3" cy="86.5" rx="1.2" ry="1.5"/>
<ellipse class="k23" cx="399.4" cy="124.9" rx="1.3" ry="1.0"/>
<ellipse class="k23" cx="305.8" cy="135.6" rx="1.6" ry="1.2"/>
<ellipse class="k21" cx="365.3" cy="116.0" rx="1.1" ry="1.5"/>
<circle class="k22" cx="336.6" cy="119.1" r="1.4"/>
<circle class="k23" cx="370.7" cy="103.7" r="1.4"/>
<ellipse class="k24" cx="381.0" cy="104.1" rx="1.2" ry="1.4"/>
<circle class="k24" cx="393.9" cy="107.8" r="1.3"/>
<ellipse class="k24" cx="369.4" cy="93.6" rx="1.2" ry="1.0"/>
<circle class="k22" cx="353.6" cy="90.2" r="1.1"/>
<circle class="k23" cx="380.9" cy="87.7" r="1.3"/>
<circle class="k21" cx="304.7" cy="90.2" r="1.6"/>
<ellipse class="k22" cx="337.8" cy="84.5" rx="1.4" ry="1.1"/>
<circle class="k22" cx="352.8" cy="120.5" r="1.1"/>
<ellipse class="k23" cx="332.1" cy="141.5" rx="1.3" ry="1.1"/>
<circle class="k23" cx="312.2" cy="137.3" r="1.4"/>
<circle class="k21" cx="360.5" cy="135.8" r="1.6"/>
<ellipse class="k22" cx="399.6" cy="136.3" rx="1.5" ry="1.1"/>
<ellipse class="k24" cx="295.3" cy="126.2" rx="1.0" ry="1.4"/>
<ellipse class="k21" cx="333.3" cy="105.9" rx="1.1" ry="1.4"/>
<ellipse class="k24" cx="317.5" cy="88.5" rx="1.5" ry="1.3"/>
<circle class="k24" cx="317.0" cy="105.9" r="1.1"/>
<circle class="k21" cx="329.5" cy="115.4" r="1.7"/>
<ellipse class="k21" cx="349.4" cy="120.8" rx="1.0" ry="1.5"/>
<ellipse class="k23" cx="330.8" cy="117.6" rx="1.1" ry="0.8"/>
<circle class="k22" cx="312.2" cy="129.4" r="1.3"/>
<ellipse class="k22" cx="350.9" cy="123.5" rx="1.3" ry="0.9"/>
<ellipse class="k23" cx="352.3" cy="99.1" rx="1.3" ry="0.9"/>
<circle class="k21" cx="354.3" cy="131.4" r="1.1"/>
<ellipse class="k24" cx="375.5" cy="109.1" rx="1.3" ry="1.5"/>
<ellipse class="k21" cx="372.9" cy="79.1" rx="0.7" ry="1.0"/>
<ellipse class="k23" cx="389.7" cy="125.0" rx="1.0" ry="1.3"/>
<circle class="k21" cx="320.2" cy="112.6" r="0.9"/>
<circle class="k24" cx="338.0" cy="103.7" r="1.1"/>
<ellipse class="k22" cx="351.8" cy="111.2" rx="1.4" ry="1.1"/>
<ellipse class="k23" cx="362.0" cy="85.4" rx="1.0" ry="1.5"/>
<circle class="k22" cx="333.4" cy="124.4" r="1.6"/>
<circle class="k23" cx="297.5" cy="99.6" r="1.4"/>
<ellipse class="k24" cx="313.5" cy="139.3" rx="0.8" ry="1.2"/>
<circle class="k23" cx="375.9" cy="140.6" r="1.7"/>
<ellipse class="k21" cx="353.5" cy="143.8" rx="1.4" ry="0.9"/>
<circle class="k21" cx="322.9" cy="124.2" r="1.3"/>
<circle class="k23" cx="291.6" cy="104.5" r="1.4"/>
<ellipse class="k22" cx="382.9" cy="107.8" rx="1.6" ry="1.4"/>
<ellipse class="k22" cx="336.6" cy="83.6" rx="0.9" ry="1.0"/>
<ellipse class="k23" cx="311.5" cy="87.5" rx="1.0" ry="0.7"/>
<ellipse class="k24" cx="357.6" cy="102.5" rx="0.9" ry="1.2"/>
<circle class="k22" cx="366.7" cy="143.0" r="1.5"/>
<ellipse class="k23" cx="373.7" cy="123.5" rx="1.3" ry="0.9"/>
<ellipse class="k24" cx="371.8" cy="107.7" rx="1.1" ry="0.8"/>
<ellipse class="k21" cx="386.4" cy="99.7" rx="1.1" ry="1.3"/>
<ellipse class="k23" cx="327.2" cy="137.5" rx="1.3" ry="1.6"/>
<ellipse class="k24" cx="361.7" cy="130.4" rx="1.3" ry="1.1"/>
<ellipse class="k24" cx="371.1" cy="78.7" rx="1.2" ry="1.6"/>
<ellipse class="k23" cx="376.5" cy="83.6" rx="1.2" ry="1.5"/>
<ellipse class="k24" cx="311.2" cy="117.0" rx="1.2" ry="1.4"/>
<circle class="k23" cx="316.9" cy="119.5" r="1.0"/>
<circle class="k24" cx="367.1" cy="137.9" r="1.1"/>
<ellipse class="k21" cx="323.1" cy="91.4" rx="0.8" ry="1.0"/>
<ellipse class="k23" cx="390.0" cy="125.1" rx="1.3" ry="0.9"/>
<ellipse class="k22" cx="403.9" cy="133.8" rx="1.5" ry="1.2"/>
<ellipse class="k21" cx="309.5" cy="81.6" rx="1.2" ry="1.5"/>
<ellipse class="k22" cx="346.6" cy="134.4" rx="1.1" ry="0.8"/>
<ellipse class="k23" cx="301.5" cy="106.4" rx="1.1" ry="1.3"/>
<ellipse class="k21" cx="298.7" cy="86.0" rx="1.1" ry="1.7"/>
<ellipse class="k23" cx="394.4" cy="135.0" rx="1.5" ry="1.0"/>
<ellipse class="k24" cx="341.7" cy="107.3" rx="1.4" ry="1.7"/>
<circle class="k21" cx="327.6" cy="121.3" r="1.0"/>
<ellipse class="k24" cx="375.0" cy="142.7" rx="1.3" ry="1.0"/>
<ellipse class="k21" cx="294.9" cy="142.1" rx="1.0" ry="1.3"/>
<ellipse class="k21" cx="319.1" cy="133.6" rx="1.0" ry="1.5"/>
<circle class="k21" cx="303.6" cy="97.8" r="1.3"/>
<circle class="k24" cx="315.9" cy="120.9" r="1.2"/>
<ellipse class="k23" cx="367.6" cy="92.6" rx="1.1" ry="1.5"/>
<ellipse class="k23" cx="310.0" cy="100.3" rx="0.8" ry="1.2"/>
<circle class="k24" cx="328.0" cy="124.3" r="1.0"/>
<circle class="k22" cx="289.8" cy="97.9" r="1.4"/>
<ellipse class="k23" cx="382.8" cy="80.3" rx="1.1" ry="1.0"/>
<ellipse class="k22" cx="317.5" cy="105.2" rx="1.4" ry="1.2"/>
<ellipse class="k24" cx="320.4" cy="95.4" rx="1.0" ry="0.7"/>
<ellipse class="k24" cx="325.3" cy="101.3" rx="1.3" ry="1.6"/>
<ellipse class="k24" cx="401.6" cy="98.0" rx="1.3" ry="1.1"/>
<circle class="k23" cx="346.6" cy="118.2" r="1.3"/>
<ellipse class="k23" cx="398.5" cy="94.8" rx="1.0" ry="1.2"/>
<ellipse class="k24" cx="306.8" cy="105.0" rx="0.7" ry="1.0"/>
<ellipse class="k21" cx="296.1" cy="92.9" rx="1.3" ry="0.9"/>
<circle class="k22" cx="306.7" cy="129.6" r="1.3"/>
<ellipse class="k22" cx="374.2" cy="123.4" rx="1.1" ry="1.0"/>
<ellipse class="k21" cx="402.3" cy="101.1" rx="1.0" ry="1.3"/>
<ellipse class="k22" cx="366.5" cy="87.1" rx="1.3" ry="1.1"/>
<circle class="k21" cx="306.5" cy="106.3" r="1.2"/>
<ellipse class="k22" cx="322.4" cy="79.8" rx="1.2" ry="1.7"/>
<ellipse class="k23" cx="308.0" cy="120.4" rx="1.2" ry="1.4"/>
<ellipse class="k23" cx="402.9" cy="83.6" rx="1.4" ry="1.2"/>
<ellipse class="k22" cx="292.3" cy="84.2" rx="1.3" ry="1.1"/>
<ellipse class="k24" cx="394.7" cy="104.9" rx="1.2" ry="1.4"/>
<ellipse class="k23" cx="316.0" cy="94.6" rx="0.8" ry="1.1"/>
<circle class="k22" cx="400.4" cy="85.0" r="1.2"/>
<ellipse class="k23" cx="401.0" cy="144.1" rx="1.1" ry="1.2"/>
<circle class="k21" cx="326.9" cy="110.9" r="1.2"/>
<circle class="k24" cx="291.0" cy="145.0" r="1.7"/>
<ellipse class="k21" cx="356.4" cy="137.9" rx="1.0" ry="1.2"/>
<ellipse class="k23" cx="371.5" cy="79.8" rx="1.6" ry="1.2"/>
<ellipse class="k23" cx="330.4" cy="82.1" rx="0.8" ry="1.0"/>
<ellipse class="k22" cx="317.6" cy="81.0" rx="1.0" ry="1.1"/>
<ellipse class="k23" cx="382.5" cy="83.2" rx="1.5" ry="1.2"/>
<ellipse class="k24" cx="326.5" cy="129.0" rx="0.9" ry="1.3"/>
<circle class="k24" cx="306.6" cy="87.1" r="1.1"/>
<ellipse class="k24" cx="312.4" cy="139.7" rx="1.0" ry="1.2"/>
<ellipse class="k24" cx="355.6" cy="119.5" rx="1.0" ry="0.8"/>
<circle class="k21" cx="396.8" cy="119.3" r="1.1"/>
<circle class="k21" cx="363.7" cy="113.8" r="1.2"/>
<circle class="k22" cx="354.7" cy="117.2" r="1.1"/>
<circle class="k21" cx="378.3" cy="133.9" r="1.0"/>
<ellipse class="k22" cx="395.2" cy="138.4" rx="1.6" ry="1.3"/>
<circle class="k23" cx="378.0" cy="83.3" r="1.5"/>
<ellipse class="k23" cx="303.3" cy="82.7" rx="1.4" ry="1.6"/>
<circle class="k23" cx="337.5" cy="101.2" r="0.9"/>
<ellipse class="k22" cx="366.2" cy="93.2" rx="1.1" ry="1.5"/>
<circle class="k22" cx="404.3" cy="140.5" r="1.6"/>
<ellipse class="k21" cx="391.9" cy="140.6" rx="1.0" ry="0.7"/>
<ellipse class="k22" cx="308.5" cy="123.7" rx="1.0" ry="1.3"/>
<ellipse class="k23" cx="355.9" cy="103.2" rx="1.3" ry="1.0"/>
<ellipse class="k23" cx="392.5" cy="137.4" rx="0.7" ry="1.0"/>
<ellipse class="k21" cx="372.6" cy="79.0" rx="1.7" ry="1.4"/>
<ellipse class="k24" cx="340.2" cy="90.6" rx="1.7" ry="1.3"/>
<ellipse class="k21" cx="327.2" cy="142.0" rx="1.2" ry="0.9"/>
<ellipse class="k21" cx="373.9" cy="119.9" rx="0.8" ry="1.1"/>
<circle class="k21" cx="289.3" cy="82.5" r="0.9"/>
<ellipse class="k21" cx="323.4" cy="103.3" rx="1.3" ry="1.5"/>
<ellipse class="k21" cx="298.3" cy="117.8" rx="1.1" ry="0.7"/>
<circle class="k22" cx="328.5" cy="120.3" r="1.2"/>
<ellipse class="k22" cx="303.3" cy="96.3" rx="1.0" ry="0.8"/>
<ellipse class="k22" cx="356.5" cy="101.7" rx="1.2" ry="1.5"/>
<circle class="k23" cx="331.6" cy="82.4" r="1.6"/>
<ellipse class="k24" cx="400.5" cy="124.0" rx="1.5" ry="1.2"/>
<circle class="k22" cx="339.2" cy="109.6" r="1.3"/>
<ellipse class="k23" cx="352.2" cy="118.0" rx="1.4" ry="1.1"/>
<ellipse class="k22" cx="332.3" cy="84.8" rx="1.1" ry="1.3"/>
<ellipse class="k21" cx="310.2" cy="115.7" rx="0.9" ry="1.3"/>
<ellipse class="k23" cx="289.5" cy="137.8" rx="1.4" ry="1.0"/>
<circle class="k21" cx="304.2" cy="103.6" r="1.3"/>
<ellipse class="k23" cx="374.9" cy="82.2" rx="1.7" ry="1.3"/>
<ellipse class="k22" cx="398.9" cy="115.9" rx="1.1" ry="1.5"/>
<ellipse class="k21" cx="384.5" cy="110.6" rx="0.9" ry="1.3"/>
<ellipse class="k21" cx="389.4" cy="104.6" rx="1.1" ry="0.9"/>
<ellipse class="k21" cx="310.8" cy="122.0" rx="1.2" ry="1.4"/>
<ellipse class="k24" cx="351.1" cy="117.5" rx="1.5" ry="1.1"/>
<ellipse class="k21" cx="379.2" cy="119.1" rx="0.8" ry="1.2"/>
<ellipse class="k23" cx="358.3" cy="139.3" rx="1.2" ry="1.4"/>
<ellipse class="k22" cx="371.6" cy="81.8" rx="1.1" ry="1.5"/>
<ellipse class="k24" cx="330.2" cy="127.1" rx="1.1" ry="0.8"/>
<ellipse class="k21" cx="381.2" cy="144.8" rx="1.0" ry="1.1"/>
<circle class="k23" cx="313.2" cy="125.4" r="1.4"/>
<ellipse class="k21" cx="350.3" cy="97.3" rx="1.0" ry="1.2"/>
<ellipse class="k22" cx="332.4" cy="113.8" rx="1.5" ry="1.1"/>
<circle class="k21" cx="335.0" cy="100.8" r="1.1"/>
<ellipse class="k21" cx="351.7" cy="93.7" rx="0.9" ry="1.1"/>
<ellipse class="k24" cx="373.3" cy="139.6" rx="1.1" ry="0.9"/>
<ellipse class="k24" cx="384.9" cy="80.3" rx="1.0" ry="1.5"/>
<ellipse class="k22" cx="330.7" cy="98.7" rx="0.9" ry="1.3"/>
<ellipse class="k23" cx="358.2" cy="145.1" rx="1.1" ry="1.3"/>
<ellipse class="k22" cx="361.9" cy="126.2" rx="1.0" ry="0.7"/>
<ellipse class="k21" cx="341.8" cy="89.0" rx="1.7" ry="1.3"/>
<circle class="k21" cx="399.2" cy="113.5" r="0.9"/>
<circle class="k21" cx="308.6" cy="109.2" r="1.0"/>
<ellipse class="k23" cx="331.2" cy="144.0" rx="1.3" ry="1.1"/>
<ellipse class="k24" cx="329.4" cy="95.9" rx="1.1" ry="1.5"/>
<ellipse class="k21" cx="358.3" cy="100.7" rx="1.2" ry="0.9"/>
<ellipse class="k23" cx="398.9" cy="106.7" rx="1.4" ry="1.5"/>
<ellipse class="k21" cx="324.6" cy="88.0" rx="0.8" ry="1.1"/>
<ellipse class="k22" cx="310.7" cy="119.7" rx="1.2" ry="1.5"/>
<circle class="k22" cx="310.2" cy="88.7" r="1.7"/>
<circle class="k23" cx="319.9" cy="89.6" r="1.1"/>
<ellipse class="k22" cx="338.9" cy="114.4" rx="1.7" ry="1.2"/>
<ellipse class="k21" cx="322.0" cy="133.7" rx="1.0" ry="1.3"/>
<ellipse class="k22" cx="390.8" cy="132.0" rx="1.5" ry="1.0"/>
<ellipse class="k22" cx="394.0" cy="83.3" rx="1.3" ry="0.9"/>
<circle class="k24" cx="378.7" cy="93.4" r="1.2"/>
<ellipse class="k22" cx="356.7" cy="96.2" rx="1.4" ry="1.3"/>
<circle class="k23" cx="308.0" cy="79.6" r="1.3"/>
<circle class="k21" cx="290.0" cy="139.4" r="1.1"/>
<circle class="k21" cx="403.9" cy="90.8" r="1.1"/>
<ellipse class="k21" cx="382.8" cy="96.3" rx="1.1" ry="1.3"/>
<ellipse class="k21" cx="293.8" cy="88.8" rx="1.0" ry="0.7"/>
<ellipse class="k24" cx="332.9" cy="101.9" rx="1.1" ry="1.7"/>
<ellipse class="k21" cx="394.9" cy="101.6" rx="1.0" ry="0.8"/>
<circle class="k21" cx="380.4" cy="82.5" r="1.7"/>
<ellipse class="k21" cx="365.4" cy="78.7" rx="1.0" ry="1.3"/>
<ellipse class="k24" cx="344.4" cy="107.5" rx="1.3" ry="1.5"/>
<circle class="k21" cx="329.9" cy="104.3" r="1.5"/>
<circle class="k23" cx="342.2" cy="145.4" r="1.0"/>
<circle class="k22" cx="303.7" cy="136.5" r="1.5"/>
<ellipse class="k21" cx="308.6" cy="84.1" rx="1.1" ry="0.9"/>
<ellipse class="k23" cx="342.9" cy="116.5" rx="1.1" ry="1.6"/>
<ellipse class="k24" cx="344.0" cy="91.6" rx="1.3" ry="0.9"/>
<ellipse class="k21" cx="357.6" cy="98.1" rx="1.5" ry="1.6"/>
<ellipse class="k24" cx="359.3" cy="92.7" rx="0.8" ry="1.2"/>
<ellipse class="k24" cx="402.8" cy="122.2" rx="1.3" ry="1.7"/>
<ellipse class="k23" cx="294.7" cy="133.0" rx="1.2" ry="0.9"/>
<circle class="k22" cx="332.5" cy="121.7" r="1.3"/>
<ellipse class="k21" cx="296.2" cy="127.7" rx="1.5" ry="1.7"/>
<ellipse class="k21" cx="378.2" cy="95.5" rx="1.2" ry="1.5"/>
<circle class="k24" cx="388.1" cy="113.4" r="1.3"/>
<ellipse class="k23" cx="391.3" cy="118.3" rx="1.3" ry="1.0"/>
<circle class="k23" cx="348.3" cy="109.5" r="1.1"/>
<ellipse class="k24" cx="363.4" cy="125.7" rx="1.4" ry="1.1"/>
<ellipse class="k24" cx="394.0" cy="90.6" rx="1.1" ry="1.3"/>
<ellipse class="k24" cx="323.4" cy="124.7" rx="1.0" ry="0.8"/>
<ellipse class="k23" cx="307.3" cy="123.9" rx="0.8" ry="1.1"/>
<ellipse class="k23" cx="401.3" cy="90.0" rx="1.5" ry="1.2"/>
<ellipse class="k21" cx="313.8" cy="80.4" rx="1.5" ry="1.1"/>
<ellipse class="k23" cx="336.8" cy="87.7" rx="0.9" ry="1.2"/>
<ellipse class="k24" cx="343.8" cy="134.9" rx="1.4" ry="1.7"/>
<ellipse class="k23" cx="298.3" cy="93.1" rx="1.1" ry="0.8"/>
<ellipse class="k23" cx="313.4" cy="133.0" rx="1.0" ry="1.2"/>
<circle class="k24" cx="330.7" cy="108.4" r="1.0"/>
<ellipse class="k23" cx="400.7" cy="126.9" rx="1.1" ry="1.6"/>
<ellipse class="k23" cx="356.2" cy="121.6" rx="1.1" ry="1.6"/>
<ellipse class="k24" cx="341.6" cy="129.7" rx="1.0" ry="1.5"/>
<ellipse class="k24" cx="386.9" cy="91.0" rx="1.4" ry="1.2"/>
<ellipse class="k23" cx="395.7" cy="110.4" rx="1.5" ry="1.1"/>
<ellipse class="k21" cx="393.5" cy="104.3" rx="0.9" ry="1.1"/>
<circle class="k21" cx="313.1" cy="78.2" r="1.0"/>
<ellipse class="k24" cx="382.6" cy="140.5" rx="1.3" ry="1.1"/>
<ellipse class="k21" cx="366.5" cy="81.0" rx="1.0" ry="1.4"/>
<circle class="k23" cx="343.7" cy="133.6" r="1.5"/>
<circle class="k22" cx="299.6" cy="77.5" r="1.6"/>
<ellipse class="k24" cx="376.3" cy="133.3" rx="1.5" ry="1.3"/>
<ellipse class="k24" cx="350.2" cy="122.6" rx="1.6" ry="1.1"/>
<ellipse class="k23" cx="307.3" cy="78.9" rx="0.7" ry="1.0"/>
<ellipse class="k21" cx="292.8" cy="131.6" rx="1.4" ry="1.1"/>
<ellipse class="k23" cx="311.4" cy="82.5" rx="1.0" ry="0.8"/>
<circle class="k21" cx="404.5" cy="120.0" r="1.1"/>
<ellipse class="k22" cx="298.8" cy="133.6" rx="0.8" ry="1.1"/>
<ellipse class="k23" cx="334.6" cy="116.5" rx="1.3" ry="0.9"/>
<ellipse class="k22" cx="366.5" cy="78.6" rx="1.3" ry="0.8"/>
<circle class="k21" cx="313.9" cy="107.5" r="1.2"/>
<ellipse class="k23" cx="359.8" cy="80.8" rx="1.0" ry="0.8"/>
<circle class="k24" cx="385.3" cy="122.4" r="1.0"/>
<ellipse class="k22" cx="403.5" cy="143.9" rx="1.3" ry="1.1"/>
<ellipse class="k21" cx="342.5" cy="88.0" rx="1.4" ry="1.3"/>
<ellipse class="k24" cx="314.4" cy="114.4" rx="1.0" ry="0.8"/>
<ellipse class="k24" cx="337.9" cy="129.3" rx="1.1" ry="1.7"/>
<ellipse class="k23" cx="291.2" cy="77.9" rx="1.5" ry="1.2"/>
<ellipse class="k23" cx="360.5" cy="139.3" rx="1.3" ry="1.0"/>
<ellipse class="k21" cx="350.7" cy="82.7" rx="1.4" ry="1.5"/>
<ellipse class="k24" cx="323.8" cy="83.5" rx="1.1" ry="0.8"/>
<ellipse class="k23" cx="329.1" cy="129.7" rx="1.3" ry="1.0"/>
<ellipse class="k21" cx="371.1" cy="134.5" rx="0.8" ry="1.2"/>
<ellipse class="k21" cx="321.8" cy="82.7" rx="0.8" ry="1.2"/>
<circle class="k22" cx="305.3" cy="141.4" r="1.1"/>
<ellipse class="k22" cx="384.2" cy="135.9" rx="1.1" ry="1.5"/>
<ellipse class="k21" cx="361.3" cy="115.6" rx="0.8" ry="1.2"/>
<ellipse class="k24" cx="310.2" cy="125.9" rx="0.9" ry="1.3"/>
<ellipse class="k22" cx="294.5" cy="143.8" rx="1.0" ry="1.4"/>
<ellipse class="k24" cx="318.1" cy="115.8" rx="0.9" ry="1.1"/>
<ellipse class="k21" cx="361.9" cy="138.5" rx="1.5" ry="1.2"/>
<ellipse class="k24" cx="368.4" cy="141.3" rx="1.2" ry="1.0"/>
<circle class="k21" cx="359.4" cy="125.2" r="1.2"/>
<ellipse class="k24" cx="356.3" cy="92.4" rx="1.3" ry="1.6"/>
<ellipse class="k23" cx="345.0" cy="97.3" rx="0.7" ry="1.0"/>
<ellipse class="k22" cx="304.9" cy="138.1" rx="1.7" ry="1.4"/>
<circle class="k22" cx="297.1" cy="93.0" r="1.3"/>
<ellipse class="k24" cx="365.1" cy="136.3" rx="1.1" ry="1.6"/>
<ellipse class="k23" cx="290.1" cy="104.9" rx="0.9" ry="1.3"/>
<ellipse class="k21" cx="302.8" cy="140.6" rx="1.6" ry="1.3"/>
<circle class="k23" cx="343.2" cy="80.6" r="1.3"/>
<ellipse class="k24" cx="374.8" cy="134.1" rx="1.3" ry="1.6"/>
<ellipse class="k22" cx="378.2" cy="143.0" rx="1.1" ry="1.6"/>
</g>
</g>
<polygon points="291.2,80.2 305,80.2 291.2,98" fill="#d8d0ec" opacity="0.55" filter="url(#bm)"/>
<clipPath id="c14"><rect x="404.3" y="80.2" width="109.4" height="62.2"/></clipPath>
<g clip-path="url(#c14)"><rect x="404.3" y="80.2" width="109.4" height="62.2" fill="#e6d0dc"/>
<g filter="url(#bh)">
<circle class="k25" cx="413.6" cy="125.1" r="2.5"/>
<ellipse class="k25" cx="434.9" cy="82.2" rx="2.3" ry="1.8"/>
<circle class="k25" cx="491.0" cy="85.3" r="1.8"/>
<ellipse class="k25" cx="442.9" cy="120.4" rx="2.4" ry="1.6"/>
<ellipse class="k26" cx="420.3" cy="121.6" rx="1.3" ry="1.7"/>
<circle class="k26" cx="499.9" cy="103.2" r="2.5"/>
<ellipse class="k26" cx="502.0" cy="124.0" rx="1.7" ry="1.4"/>
<ellipse class="k27" cx="501.1" cy="128.1" rx="2.0" ry="2.3"/>
<ellipse class="k26" cx="426.5" cy="131.6" rx="2.4" ry="1.5"/>
<ellipse class="k27" cx="433.5" cy="85.3" rx="1.8" ry="1.4"/>
<ellipse class="k25" cx="412.0" cy="110.0" rx="2.2" ry="2.7"/>
<ellipse class="k25" cx="454.4" cy="105.7" rx="2.0" ry="2.9"/>
<ellipse class="k27" cx="501.2" cy="141.2" rx="1.6" ry="1.1"/>
<circle class="k27" cx="452.2" cy="133.5" r="2.2"/>
<ellipse class="k27" cx="467.0" cy="141.2" rx="1.4" ry="1.9"/>
<ellipse class="k26" cx="465.9" cy="131.6" rx="1.1" ry="1.7"/>
<circle class="k25" cx="514.7" cy="117.2" r="1.9"/>
<ellipse class="k27" cx="414.4" cy="142.4" rx="1.7" ry="2.8"/>
<circle class="k25" cx="431.8" cy="94.2" r="2.4"/>
<ellipse class="k27" cx="404.9" cy="140.1" rx="2.5" ry="2.8"/>
<circle class="k25" cx="498.4" cy="102.2" r="2.2"/>
<ellipse class="k25" cx="457.6" cy="142.2" rx="1.3" ry="1.6"/>
<ellipse class="k26" cx="411.6" cy="132.2" rx="1.7" ry="1.1"/>
<ellipse class="k25" cx="431.2" cy="107.7" rx="2.4" ry="1.8"/>
<ellipse class="k27" cx="482.5" cy="114.1" rx="1.7" ry="2.2"/>
<circle class="k25" cx="421.1" cy="78.4" r="3.0"/>
<ellipse class="k25" cx="516.1" cy="117.8" rx="2.9" ry="2.6"/>
<ellipse class="k27" cx="432.0" cy="109.2" rx="2.9" ry="3.1"/>
<circle class="k26" cx="475.3" cy="121.4" r="2.8"/>
<ellipse class="k25" cx="502.2" cy="133.7" rx="3.1" ry="1.9"/>
<ellipse class="k25" cx="406.5" cy="144.3" rx="3.0" ry="2.0"/>
<ellipse class="k26" cx="491.8" cy="111.0" rx="2.4" ry="1.7"/>
<ellipse class="k27" cx="433.8" cy="117.7" rx="2.4" ry="1.9"/>
<ellipse class="k25" cx="515.4" cy="140.5" rx="2.9" ry="3.0"/>
<ellipse class="k27" cx="435.2" cy="126.6" rx="1.4" ry="2.1"/>
<ellipse class="k25" cx="494.4" cy="125.4" rx="3.1" ry="2.5"/>
<ellipse class="k27" cx="404.2" cy="121.3" rx="2.4" ry="3.2"/>
<ellipse class="k26" cx="450.1" cy="123.6" rx="2.4" ry="3.1"/>
<circle class="k26" cx="444.8" cy="126.0" r="1.9"/>
<ellipse class="k25" cx="496.8" cy="90.5" rx="2.9" ry="1.9"/>
<ellipse class="k27" cx="501.3" cy="115.3" rx="1.5" ry="1.3"/>
<circle class="k26" cx="434.0" cy="145.0" r="2.2"/>
<ellipse class="k27" cx="482.5" cy="89.7" rx="1.9" ry="2.1"/>
<ellipse class="k25" cx="443.3" cy="92.1" rx="2.7" ry="2.0"/>
<circle class="k25" cx="407.0" cy="118.8" r="2.3"/>
<ellipse class="k25" cx="505.6" cy="113.6" rx="1.8" ry="1.4"/>
<ellipse class="k26" cx="443.4" cy="97.4" rx="2.4" ry="2.6"/>
<ellipse class="k25" cx="425.5" cy="129.7" rx="3.0" ry="3.2"/>
<ellipse class="k26" cx="499.3" cy="117.5" rx="2.7" ry="2.9"/>
<ellipse class="k25" cx="499.8" cy="115.1" rx="2.1" ry="1.9"/>
<ellipse class="k26" cx="414.0" cy="79.9" rx="2.1" ry="3.0"/>
<ellipse class="k26" cx="414.5" cy="135.1" rx="1.9" ry="1.4"/>
<ellipse class="k27" cx="445.8" cy="84.9" rx="3.2" ry="2.7"/>
<ellipse class="k27" cx="496.2" cy="133.2" rx="1.6" ry="1.9"/>
<ellipse class="k27" cx="514.6" cy="117.3" rx="1.2" ry="1.8"/>
<circle class="k27" cx="456.3" cy="85.3" r="2.8"/>
<ellipse class="k25" cx="427.9" cy="138.7" rx="1.3" ry="1.7"/>
<circle class="k27" cx="460.3" cy="121.1" r="2.9"/>
<circle class="k27" cx="440.4" cy="95.8" r="2.3"/>
<ellipse class="k26" cx="442.2" cy="113.7" rx="2.0" ry="1.8"/>
<ellipse class="k25" cx="429.5" cy="84.3" rx="2.4" ry="2.2"/>
<ellipse class="k26" cx="450.5" cy="89.4" rx="2.4" ry="3.1"/>
<circle class="k27" cx="465.7" cy="142.2" r="2.6"/>
<ellipse class="k26" cx="463.8" cy="124.7" rx="1.4" ry="2.0"/>
<ellipse class="k26" cx="481.7" cy="121.8" rx="1.6" ry="1.9"/>
<ellipse class="k27" cx="426.0" cy="94.5" rx="1.9" ry="1.1"/>
<ellipse class="k26" cx="490.5" cy="79.6" rx="1.4" ry="2.0"/>
<ellipse class="k25" cx="427.8" cy="132.4" rx="2.9" ry="1.7"/>
<ellipse class="k25" cx="474.6" cy="95.9" rx="2.3" ry="2.1"/>
<ellipse class="k26" cx="503.5" cy="108.2" rx="2.7" ry="2.3"/>
<ellipse class="k26" cx="459.5" cy="139.3" rx="2.0" ry="1.3"/>
<ellipse class="k27" cx="456.5" cy="113.5" rx="3.2" ry="2.3"/>
<ellipse class="k26" cx="409.3" cy="121.9" rx="2.0" ry="3.2"/>
<ellipse class="k25" cx="452.0" cy="107.5" rx="2.3" ry="3.1"/>
<ellipse class="k26" cx="467.2" cy="135.3" rx="1.6" ry="1.0"/>
<circle class="k25" cx="489.8" cy="127.7" r="2.3"/>
<circle class="k27" cx="483.7" cy="108.2" r="2.0"/>
<ellipse class="k26" cx="431.9" cy="96.3" rx="1.8" ry="1.2"/>
<circle class="k26" cx="458.3" cy="126.7" r="2.9"/>
<ellipse class="k26" cx="455.6" cy="78.7" rx="1.7" ry="1.5"/>
<ellipse class="k26" cx="469.9" cy="136.4" rx="1.1" ry="1.8"/>
<circle class="k27" cx="439.2" cy="81.6" r="3.0"/>
<ellipse class="k26" cx="411.2" cy="145.2" rx="1.0" ry="1.5"/>
<ellipse class="k26" cx="440.0" cy="116.1" rx="2.9" ry="2.4"/>
<ellipse class="k27" cx="473.5" cy="109.9" rx="3.0" ry="1.9"/>
<ellipse class="k25" cx="450.8" cy="119.5" rx="1.3" ry="1.5"/>
<ellipse class="k26" cx="403.6" cy="114.3" rx="1.8" ry="1.4"/>
<circle class="k25" cx="430.1" cy="142.8" r="2.9"/>
<ellipse class="k25" cx="479.5" cy="130.8" rx="2.2" ry="2.4"/>
<ellipse class="k26" cx="515.0" cy="88.1" rx="1.2" ry="1.6"/>
<circle class="k25" cx="492.8" cy="113.1" r="2.0"/>
<ellipse class="k26" cx="490.9" cy="100.6" rx="1.6" ry="1.0"/>
<ellipse class="k26" cx="404.6" cy="78.4" rx="1.6" ry="1.0"/>
<ellipse class="k25" cx="489.2" cy="118.5" rx="1.6" ry="2.1"/>
<circle class="k26" cx="423.4" cy="86.2" r="3.1"/>
<ellipse class="k27" cx="435.9" cy="136.7" rx="2.7" ry="2.3"/>
<ellipse class="k26" cx="459.4" cy="95.5" rx="1.9" ry="2.6"/>
<ellipse class="k25" cx="508.2" cy="137.4" rx="2.6" ry="1.7"/>
<ellipse class="k25" cx="446.3" cy="85.3" rx="2.1" ry="1.5"/>
<ellipse class="k26" cx="501.6" cy="91.9" rx="1.3" ry="1.7"/>
<ellipse class="k27" cx="433.7" cy="97.1" rx="1.6" ry="2.0"/>
<ellipse class="k25" cx="511.9" cy="140.3" rx="1.8" ry="2.0"/>
<ellipse class="k25" cx="455.7" cy="129.1" rx="1.5" ry="1.3"/>
<ellipse class="k27" cx="500.6" cy="126.0" rx="1.7" ry="1.1"/>
<ellipse class="k27" cx="502.0" cy="140.7" rx="2.8" ry="2.3"/>
<ellipse class="k26" cx="480.3" cy="113.4" rx="2.0" ry="1.5"/>
<ellipse class="k25" cx="509.3" cy="111.3" rx="2.0" ry="1.4"/>
<ellipse class="k25" cx="452.9" cy="140.4" rx="2.7" ry="2.4"/>
<ellipse class="k25" cx="500.1" cy="129.2" rx="1.8" ry="2.5"/>
<ellipse class="k26" cx="433.1" cy="95.1" rx="2.2" ry="2.9"/>
<ellipse class="k26" cx="453.7" cy="127.1" rx="2.6" ry="3.2"/>
<ellipse class="k26" cx="509.0" cy="79.9" rx="1.5" ry="2.3"/>
<ellipse class="k26" cx="405.3" cy="129.5" rx="3.1" ry="2.1"/>
<ellipse class="k26" cx="469.5" cy="143.9" rx="2.4" ry="2.9"/>
<ellipse class="k26" cx="467.7" cy="124.2" rx="1.5" ry="1.9"/>
<ellipse class="k26" cx="466.9" cy="124.9" rx="1.5" ry="2.3"/>
<ellipse class="k25" cx="420.6" cy="118.1" rx="1.8" ry="2.0"/>
<ellipse class="k26" cx="431.8" cy="95.2" rx="2.4" ry="1.6"/>
<ellipse class="k25" cx="430.5" cy="112.5" rx="2.1" ry="2.6"/>
<ellipse class="k26" cx="447.1" cy="115.7" rx="1.6" ry="1.0"/>
<ellipse class="k27" cx="477.8" cy="139.2" rx="2.9" ry="2.3"/>
<ellipse class="k26" cx="426.6" cy="82.5" rx="2.2" ry="1.8"/>
<ellipse class="k26" cx="438.5" cy="104.6" rx="1.8" ry="2.5"/>
<ellipse class="k26" cx="402.0" cy="103.8" rx="1.6" ry="1.1"/>
<ellipse class="k27" cx="467.8" cy="95.7" rx="1.7" ry="1.1"/>
<ellipse class="k27" cx="413.7" cy="131.5" rx="2.8" ry="3.1"/>
<ellipse class="k27" cx="449.2" cy="130.1" rx="1.9" ry="2.4"/>
<ellipse class="k26" cx="467.4" cy="122.2" rx="2.5" ry="2.0"/>
<ellipse class="k25" cx="485.5" cy="88.6" rx="2.5" ry="2.3"/>
<ellipse class="k25" cx="413.9" cy="128.1" rx="2.9" ry="2.4"/>
<ellipse class="k27" cx="408.7" cy="143.0" rx="2.5" ry="1.6"/>
<ellipse class="k26" cx="428.3" cy="115.5" rx="1.2" ry="1.9"/>
<ellipse class="k26" cx="426.9" cy="91.1" rx="1.8" ry="1.3"/>
<ellipse class="k25" cx="466.9" cy="80.5" rx="2.4" ry="3.2"/>
<ellipse class="k25" cx="485.6" cy="85.3" rx="1.7" ry="2.2"/>
<ellipse class="k25" cx="516.6" cy="93.4" rx="2.9" ry="1.8"/>
<ellipse class="k25" cx="516.0" cy="99.0" rx="1.8" ry="2.2"/>
<ellipse class="k27" cx="416.6" cy="81.2" rx="1.9" ry="1.2"/>
<ellipse class="k27" cx="427.4" cy="129.4" rx="1.4" ry="1.7"/>
<circle class="k26" cx="473.6" cy="91.9" r="2.7"/>
<ellipse class="k26" cx="455.1" cy="121.6" rx="1.5" ry="1.7"/>
<ellipse class="k27" cx="413.6" cy="77.8" rx="1.8" ry="3.0"/>
<ellipse class="k27" cx="422.1" cy="126.1" rx="3.1" ry="2.9"/>
<ellipse class="k25" cx="419.5" cy="138.0" rx="1.6" ry="1.9"/>
<circle class="k25" cx="442.6" cy="142.8" r="2.8"/>
<ellipse class="k27" cx="495.5" cy="83.9" rx="2.9" ry="2.1"/>
<ellipse class="k27" cx="498.9" cy="107.0" rx="2.2" ry="3.0"/>
<circle class="k25" cx="426.3" cy="136.2" r="2.4"/>
<ellipse class="k25" cx="487.4" cy="81.2" rx="3.0" ry="2.4"/>
<circle class="k26" cx="480.6" cy="143.4" r="1.6"/>
<ellipse class="k27" cx="459.4" cy="110.9" rx="2.7" ry="3.2"/>
<circle class="k26" cx="477.2" cy="129.9" r="2.2"/>
<ellipse class="k27" cx="454.2" cy="135.9" rx="2.4" ry="1.6"/>
<ellipse class="k26" cx="479.8" cy="97.2" rx="1.5" ry="2.3"/>
<circle class="k27" cx="420.7" cy="126.9" r="2.6"/>
<ellipse class="k26" cx="455.6" cy="94.4" rx="1.9" ry="2.3"/>
<ellipse class="k26" cx="442.3" cy="102.9" rx="2.2" ry="2.6"/>
<ellipse class="k25" cx="485.5" cy="133.2" rx="2.7" ry="2.1"/>
<circle class="k27" cx="421.6" cy="133.9" r="1.7"/>
<ellipse class="k25" cx="467.2" cy="141.5" rx="3.0" ry="2.7"/>
</g>
<g filter="url(#bl)">
<ellipse class="k28" cx="436.7" cy="80.3" rx="1.0" ry="1.5"/>
<ellipse class="k29" cx="507.2" cy="106.7" rx="1.3" ry="1.5"/>
<circle class="k29" cx="445.2" cy="138.1" r="1.1"/>
<ellipse class="k28" cx="414.6" cy="103.7" rx="0.8" ry="1.1"/>
<circle class="k30" cx="472.5" cy="113.5" r="1.4"/>
<ellipse class="k31" cx="404.9" cy="138.6" rx="0.8" ry="1.1"/>
<ellipse class="k29" cx="411.1" cy="109.4" rx="1.1" ry="1.4"/>
<circle class="k29" cx="488.9" cy="118.1" r="1.4"/>
<ellipse class="k28" cx="501.0" cy="79.4" rx="0.8" ry="1.0"/>
<circle class="k28" cx="492.0" cy="97.9" r="1.4"/>
<circle class="k32" cx="416.0" cy="84.2" r="1.8"/>
<ellipse class="k31" cx="423.3" cy="132.0" rx="0.9" ry="1.2"/>
<ellipse class="k31" cx="447.2" cy="111.5" rx="1.2" ry="0.9"/>
<ellipse class="k32" cx="483.1" cy="138.7" rx="1.4" ry="1.7"/>
<ellipse class="k29" cx="498.5" cy="118.9" rx="1.3" ry="1.8"/>
<ellipse class="k31" cx="427.9" cy="107.4" rx="1.1" ry="0.9"/>
<ellipse class="k28" cx="447.1" cy="85.1" rx="1.0" ry="1.2"/>
<circle class="k33" cx="459.6" cy="125.2" r="1.7"/>
<ellipse class="k29" cx="513.3" cy="95.1" rx="1.5" ry="1.2"/>
<ellipse class="k31" cx="493.6" cy="101.2" rx="1.0" ry="0.7"/>
<ellipse class="k31" cx="497.1" cy="121.2" rx="1.0" ry="1.3"/>
<ellipse class="k33" cx="490.1" cy="110.8" rx="0.8" ry="1.2"/>
<ellipse class="k33" cx="498.3" cy="121.7" rx="1.5" ry="0.9"/>
<ellipse class="k33" cx="513.0" cy="134.3" rx="1.6" ry="1.3"/>
<ellipse class="k31" cx="401.6" cy="90.3" rx="1.2" ry="0.8"/>
<ellipse class="k29" cx="483.7" cy="125.0" rx="1.3" ry="0.9"/>
<ellipse class="k32" cx="425.5" cy="140.9" rx="1.6" ry="1.0"/>
<circle class="k32" cx="487.4" cy="106.1" r="1.6"/>
<circle class="k29" cx="493.4" cy="105.7" r="1.0"/>
<ellipse class="k31" cx="514.2" cy="94.8" rx="1.1" ry="0.8"/>
<circle class="k30" cx="508.0" cy="115.9" r="1.4"/>
<circle class="k32" cx="512.2" cy="145.2" r="1.3"/>
<ellipse class="k30" cx="452.3" cy="114.8" rx="1.6" ry="1.0"/>
<circle class="k28" cx="456.6" cy="113.9" r="1.1"/>
<circle class="k29" cx="457.3" cy="82.4" r="1.0"/>
<circle class="k29" cx="417.3" cy="141.7" r="1.0"/>
<ellipse class="k30" cx="423.5" cy="104.2" rx="1.5" ry="1.3"/>
<ellipse class="k31" cx="409.0" cy="122.6" rx="1.8" ry="1.2"/>
<ellipse class="k29" cx="493.9" cy="77.3" rx="0.8" ry="1.2"/>
<ellipse class="k29" cx="443.2" cy="109.5" rx="0.8" ry="1.1"/>
<circle class="k33" cx="443.5" cy="123.8" r="1.6"/>
<ellipse class="k32" cx="403.4" cy="104.0" rx="0.9" ry="1.1"/>
<circle class="k33" cx="481.6" cy="101.4" r="1.5"/>
<ellipse class="k30" cx="459.2" cy="116.8" rx="1.5" ry="1.4"/>
<circle class="k33" cx="512.7" cy="132.0" r="0.9"/>
<circle class="k33" cx="417.5" cy="98.5" r="1.0"/>
<ellipse class="k29" cx="495.6" cy="86.4" rx="1.1" ry="0.8"/>
<circle class="k29" cx="426.3" cy="101.2" r="1.7"/>
<ellipse class="k28" cx="516.6" cy="102.1" rx="1.2" ry="1.7"/>
<circle class="k31" cx="458.1" cy="107.5" r="1.0"/>
<ellipse class="k31" cx="463.5" cy="120.4" rx="1.2" ry="1.5"/>
<ellipse class="k31" cx="490.0" cy="128.3" rx="1.1" ry="1.3"/>
<ellipse class="k30" cx="509.1" cy="140.7" rx="0.8" ry="1.2"/>
<ellipse class="k29" cx="488.8" cy="143.0" rx="1.4" ry="0.9"/>
<ellipse class="k30" cx="466.7" cy="115.0" rx="0.9" ry="1.1"/>
<ellipse class="k30" cx="445.1" cy="104.3" rx="1.2" ry="1.4"/>
<ellipse class="k31" cx="413.0" cy="107.4" rx="0.8" ry="1.1"/>
<ellipse class="k33" cx="509.0" cy="144.2" rx="1.4" ry="1.1"/>
<ellipse class="k31" cx="505.4" cy="90.0" rx="1.3" ry="1.7"/>
<ellipse class="k32" cx="414.8" cy="121.8" rx="0.8" ry="1.4"/>
<ellipse class="k30" cx="413.5" cy="112.5" rx="1.6" ry="1.4"/>
<ellipse class="k32" cx="495.2" cy="103.9" rx="1.6" ry="1.3"/>
<ellipse class="k31" cx="431.4" cy="141.9" rx="1.5" ry="1.1"/>
<ellipse class="k33" cx="402.9" cy="104.2" rx="1.7" ry="1.4"/>
<ellipse class="k29" cx="423.1" cy="130.1" rx="0.7" ry="1.1"/>
<ellipse class="k33" cx="478.3" cy="79.1" rx="1.1" ry="1.6"/>
<ellipse class="k28" cx="487.3" cy="110.7" rx="1.1" ry="0.9"/>
<ellipse class="k29" cx="489.7" cy="121.7" rx="1.1" ry="1.3"/>
<circle class="k28" cx="507.4" cy="103.3" r="1.1"/>
<ellipse class="k33" cx="414.4" cy="141.9" rx="1.0" ry="1.3"/>
<ellipse class="k32" cx="500.6" cy="106.1" rx="1.6" ry="1.0"/>
<ellipse class="k28" cx="454.0" cy="108.6" rx="0.9" ry="1.2"/>
<ellipse class="k31" cx="402.4" cy="132.6" rx="0.8" ry="1.2"/>
<ellipse class="k29" cx="450.8" cy="103.2" rx="1.5" ry="1.7"/>
<circle class="k29" cx="505.6" cy="121.5" r="1.4"/>
<ellipse class="k28" cx="430.9" cy="101.7" rx="1.2" ry="1.0"/>
<ellipse class="k29" cx="489.2" cy="131.8" rx="1.3" ry="1.0"/>
<ellipse class="k28" cx="503.6" cy="97.0" rx="1.1" ry="0.9"/>
<circle class="k28" cx="422.1" cy="96.2" r="1.0"/>
<ellipse class="k33" cx="412.9" cy="138.3" rx="1.7" ry="1.4"/>
<ellipse class="k33" cx="430.0" cy="89.1" rx="1.6" ry="1.0"/>
<ellipse class="k28" cx="483.3" cy="78.4" rx="1.1" ry="1.6"/>
<ellipse class="k33" cx="440.3" cy="97.9" rx="1.3" ry="0.9"/>
<circle class="k29" cx="421.2" cy="86.2" r="1.6"/>
<ellipse class="k32" cx="437.0" cy="112.3" rx="0.9" ry="1.4"/>
<ellipse class="k28" cx="461.0" cy="81.7" rx="1.2" ry="0.8"/>
<ellipse class="k31" cx="485.2" cy="136.2" rx="1.0" ry="1.5"/>
<ellipse class="k29" cx="445.1" cy="79.6" rx="1.4" ry="1.2"/>
<circle class="k29" cx="504.2" cy="104.7" r="1.0"/>
<ellipse class="k30" cx="420.3" cy="89.6" rx="1.3" ry="1.7"/>
<ellipse class="k33" cx="451.9" cy="111.2" rx="1.2" ry="1.7"/>
<ellipse class="k33" cx="450.4" cy="92.9" rx="1.3" ry="1.5"/>
<circle class="k31" cx="417.5" cy="94.6" r="1.7"/>
<circle class="k33" cx="503.5" cy="87.0" r="1.4"/>
<ellipse class="k33" cx="506.6" cy="136.1" rx="1.5" ry="1.0"/>
<ellipse class="k33" cx="414.7" cy="138.9" rx="1.1" ry="1.5"/>
<circle class="k33" cx="494.4" cy="143.0" r="1.2"/>
<ellipse class="k33" cx="512.9" cy="101.2" rx="1.0" ry="1.6"/>
<circle class="k29" cx="489.2" cy="105.7" r="1.6"/>
<ellipse class="k31" cx="421.5" cy="128.3" rx="1.7" ry="1.4"/>
<ellipse class="k33" cx="475.1" cy="130.1" rx="0.9" ry="1.4"/>
<circle class="k31" cx="516.6" cy="94.3" r="1.5"/>
<ellipse class="k29" cx="420.5" cy="134.6" rx="1.2" ry="0.9"/>
<ellipse class="k33" cx="487.4" cy="120.3" rx="0.7" ry="1.0"/>
<ellipse class="k31" cx="405.2" cy="106.7" rx="1.6" ry="1.3"/>
<ellipse class="k32" cx="421.9" cy="114.4" rx="1.1" ry="0.8"/>
<ellipse class="k31" cx="507.3" cy="107.1" rx="0.7" ry="1.1"/>
<ellipse class="k28" cx="473.3" cy="96.1" rx="1.3" ry="1.5"/>
<circle class="k33" cx="506.1" cy="97.3" r="1.1"/>
<ellipse class="k30" cx="412.0" cy="126.5" rx="1.5" ry="1.3"/>
<circle class="k33" cx="403.7" cy="113.5" r="1.4"/>
<circle class="k28" cx="463.6" cy="138.8" r="1.5"/>
<ellipse class="k33" cx="480.4" cy="110.9" rx="1.5" ry="1.1"/>
<ellipse class="k30" cx="416.8" cy="96.1" rx="1.1" ry="1.5"/>
<ellipse class="k28" cx="425.9" cy="132.1" rx="1.2" ry="1.4"/>
<ellipse class="k33" cx="500.4" cy="80.0" rx="1.0" ry="1.5"/>
<circle class="k31" cx="438.8" cy="126.7" r="1.0"/>
<ellipse class="k28" cx="474.9" cy="136.5" rx="1.7" ry="1.5"/>
<ellipse class="k30" cx="509.4" cy="80.9" rx="1.7" ry="1.5"/>
<ellipse class="k31" cx="469.7" cy="121.8" rx="1.7" ry="1.0"/>
<circle class="k31" cx="498.9" cy="78.0" r="1.5"/>
<ellipse class="k32" cx="512.9" cy="99.7" rx="0.9" ry="1.4"/>
<ellipse class="k33" cx="480.4" cy="119.5" rx="1.3" ry="0.8"/>
<circle class="k31" cx="512.2" cy="116.8" r="1.5"/>
<ellipse class="k32" cx="461.9" cy="139.9" rx="1.0" ry="0.8"/>
<ellipse class="k28" cx="426.2" cy="111.5" rx="1.1" ry="0.8"/>
<ellipse class="k32" cx="469.5" cy="139.7" rx="1.3" ry="1.5"/>
<ellipse class="k29" cx="432.3" cy="112.3" rx="1.4" ry="1.7"/>
<ellipse class="k30" cx="483.8" cy="110.5" rx="0.7" ry="1.0"/>
<ellipse class="k29" cx="491.5" cy="117.5" rx="1.1" ry="0.7"/>
<ellipse class="k32" cx="447.1" cy="78.0" rx="1.8" ry="1.1"/>
<ellipse class="k33" cx="401.6" cy="85.5" rx="1.0" ry="0.8"/>
<ellipse class="k29" cx="515.1" cy="86.1" rx="1.6" ry="1.0"/>
<ellipse class="k31" cx="454.5" cy="110.8" rx="1.1" ry="1.3"/>
<circle class="k28" cx="432.0" cy="88.6" r="1.2"/>
<ellipse class="k32" cx="468.7" cy="82.3" rx="1.1" ry="0.9"/>
<ellipse class="k28" cx="492.4" cy="131.4" rx="1.7" ry="1.4"/>
<circle class="k31" cx="448.6" cy="96.8" r="1.3"/>
<ellipse class="k28" cx="419.4" cy="122.6" rx="1.8" ry="1.2"/>
<circle class="k28" cx="466.9" cy="84.6" r="1.6"/>
<ellipse class="k32" cx="484.8" cy="94.0" rx="1.5" ry="1.7"/>
<ellipse class="k29" cx="415.3" cy="119.2" rx="1.3" ry="0.9"/>
<ellipse class="k29" cx="416.1" cy="108.7" rx="1.1" ry="1.5"/>
<ellipse class="k30" cx="432.0" cy="132.2" rx="1.0" ry="1.7"/>
<ellipse class="k32" cx="487.7" cy="118.3" rx="1.2" ry="0.8"/>
<ellipse class="k30" cx="428.2" cy="130.2" rx="1.1" ry="0.9"/>
<ellipse class="k32" cx="494.2" cy="103.6" rx="1.5" ry="1.3"/>
<ellipse class="k31" cx="500.6" cy="112.0" rx="1.6" ry="1.0"/>
<ellipse class="k28" cx="443.0" cy="141.1" rx="1.5" ry="1.7"/>
<ellipse class="k33" cx="440.7" cy="103.2" rx="1.4" ry="1.2"/>
<ellipse class="k33" cx="483.9" cy="126.9" rx="0.7" ry="1.1"/>
<ellipse class="k32" cx="509.0" cy="115.8" rx="1.1" ry="0.9"/>
<circle class="k33" cx="498.7" cy="86.5" r="1.2"/>
<ellipse class="k29" cx="448.2" cy="111.8" rx="1.5" ry="1.1"/>
<ellipse class="k33" cx="469.8" cy="130.1" rx="0.9" ry="1.2"/>
<ellipse class="k31" cx="488.0" cy="143.4" rx="1.2" ry="1.4"/>
<circle class="k28" cx="453.3" cy="88.1" r="1.5"/>
<ellipse class="k30" cx="488.0" cy="133.8" rx="1.0" ry="1.6"/>
<ellipse class="k31" cx="418.1" cy="99.4" rx="0.9" ry="1.1"/>
<ellipse class="k33" cx="410.6" cy="128.7" rx="1.3" ry="0.9"/>
<ellipse class="k28" cx="438.8" cy="95.0" rx="1.7" ry="1.4"/>
<ellipse class="k28" cx="443.1" cy="138.6" rx="1.2" ry="0.8"/>
<ellipse class="k28" cx="402.3" cy="122.2" rx="1.6" ry="1.0"/>
<circle class="k30" cx="438.0" cy="143.2" r="1.6"/>
<ellipse class="k33" cx="507.9" cy="96.3" rx="1.0" ry="1.4"/>
<ellipse class="k31" cx="454.5" cy="79.7" rx="1.5" ry="1.6"/>
<ellipse class="k28" cx="417.0" cy="125.5" rx="1.5" ry="1.3"/>
<circle class="k31" cx="447.4" cy="106.9" r="1.0"/>
<ellipse class="k31" cx="438.2" cy="115.1" rx="1.0" ry="1.5"/>
<circle class="k31" cx="458.7" cy="110.0" r="1.1"/>
<ellipse class="k31" cx="421.6" cy="94.5" rx="1.1" ry="0.8"/>
<ellipse class="k29" cx="448.8" cy="94.8" rx="0.9" ry="1.4"/>
<circle class="k32" cx="490.1" cy="142.4" r="1.2"/>
<ellipse class="k28" cx="402.4" cy="112.6" rx="0.7" ry="1.0"/>
<ellipse class="k30" cx="419.9" cy="89.0" rx="1.6" ry="1.2"/>
<ellipse class="k29" cx="428.0" cy="105.5" rx="0.7" ry="1.1"/>
<circle class="k33" cx="446.0" cy="141.2" r="1.2"/>
<ellipse class="k33" cx="505.3" cy="144.0" rx="1.7" ry="1.4"/>
<ellipse class="k29" cx="457.9" cy="84.9" rx="1.7" ry="1.2"/>
<ellipse class="k30" cx="451.4" cy="78.6" rx="1.5" ry="1.0"/>
<circle class="k28" cx="416.6" cy="107.2" r="1.4"/>
<ellipse class="k29" cx="459.2" cy="90.6" rx="1.1" ry="1.6"/>
<ellipse class="k29" cx="501.3" cy="109.5" rx="1.2" ry="1.6"/>
<ellipse class="k28" cx="451.6" cy="106.9" rx="1.3" ry="1.7"/>
<ellipse class="k33" cx="421.8" cy="104.0" rx="0.7" ry="1.2"/>
<ellipse class="k30" cx="443.2" cy="97.0" rx="1.7" ry="1.3"/>
<circle class="k30" cx="458.2" cy="122.3" r="1.3"/>
<ellipse class="k30" cx="462.4" cy="124.5" rx="1.4" ry="1.0"/>
<circle class="k33" cx="417.9" cy="97.9" r="1.5"/>
<circle class="k30" cx="511.1" cy="119.3" r="1.0"/>
<ellipse class="k33" cx="495.6" cy="128.5" rx="1.2" ry="1.0"/>
<ellipse class="k28" cx="424.3" cy="103.2" rx="1.4" ry="1.8"/>
<ellipse class="k30" cx="402.0" cy="84.9" rx="1.3" ry="1.6"/>
<ellipse class="k29" cx="477.8" cy="84.3" rx="0.9" ry="1.2"/>
<ellipse class="k33" cx="512.0" cy="131.3" rx="1.1" ry="1.5"/>
<ellipse class="k30" cx="471.0" cy="119.0" rx="1.3" ry="1.0"/>
<ellipse class="k28" cx="479.2" cy="106.8" rx="1.7" ry="1.3"/>
<ellipse class="k33" cx="456.1" cy="84.6" rx="1.2" ry="1.6"/>
<ellipse class="k33" cx="473.9" cy="102.4" rx="1.1" ry="0.9"/>
<circle class="k32" cx="452.3" cy="143.6" r="1.1"/>
<ellipse class="k31" cx="494.7" cy="99.6" rx="1.2" ry="1.6"/>
<ellipse class="k31" cx="442.6" cy="133.7" rx="0.9" ry="1.1"/>
<circle class="k28" cx="424.6" cy="81.4" r="1.5"/>
<ellipse class="k32" cx="464.9" cy="109.7" rx="1.2" ry="1.6"/>
<ellipse class="k31" cx="493.8" cy="121.0" rx="1.1" ry="1.4"/>
<ellipse class="k29" cx="489.5" cy="106.3" rx="1.7" ry="1.5"/>
<ellipse class="k28" cx="475.2" cy="114.6" rx="1.1" ry="0.7"/>
<ellipse class="k30" cx="488.0" cy="113.2" rx="1.6" ry="1.4"/>
<ellipse class="k30" cx="505.5" cy="106.8" rx="1.3" ry="1.5"/>
<ellipse class="k33" cx="466.4" cy="142.7" rx="0.7" ry="1.0"/>
<ellipse class="k31" cx="458.4" cy="126.2" rx="1.1" ry="1.7"/>
<circle class="k32" cx="502.7" cy="78.2" r="1.1"/>
<ellipse class="k29" cx="428.4" cy="127.8" rx="1.4" ry="1.8"/>
<circle class="k31" cx="445.6" cy="81.2" r="1.3"/>
<ellipse class="k31" cx="402.7" cy="113.9" rx="0.8" ry="1.1"/>
<ellipse class="k29" cx="476.3" cy="97.7" rx="1.2" ry="1.4"/>
<ellipse class="k31" cx="441.4" cy="123.7" rx="1.2" ry="1.6"/>
<ellipse class="k28" cx="461.0" cy="114.2" rx="1.1" ry="0.8"/>
<ellipse class="k29" cx="465.1" cy="138.2" rx="1.4" ry="1.7"/>
<ellipse class="k31" cx="489.0" cy="99.9" rx="1.0" ry="1.2"/>
<circle class="k31" cx="407.1" cy="93.0" r="1.7"/>
<ellipse class="k33" cx="459.1" cy="121.6" rx="1.3" ry="1.7"/>
<ellipse class="k32" cx="452.8" cy="78.3" rx="1.2" ry="1.5"/>
<circle class="k30" cx="421.1" cy="142.9" r="1.1"/>
<ellipse class="k29" cx="406.9" cy="99.2" rx="1.4" ry="1.3"/>
<ellipse class="k30" cx="497.5" cy="101.0" rx="1.5" ry="1.6"/>
<ellipse class="k33" cx="457.8" cy="101.8" rx="1.3" ry="1.1"/>
<ellipse class="k30" cx="510.5" cy="122.1" rx="1.5" ry="1.1"/>
<ellipse class="k29" cx="435.8" cy="88.2" rx="0.8" ry="1.2"/>
<circle class="k28" cx="484.0" cy="94.8" r="1.1"/>
<ellipse class="k28" cx="442.3" cy="118.0" rx="1.5" ry="1.7"/>
<ellipse class="k32" cx="481.0" cy="101.0" rx="0.9" ry="1.2"/>
<ellipse class="k33" cx="408.8" cy="78.5" rx="0.8" ry="1.2"/>
<circle class="k33" cx="403.9" cy="121.4" r="1.5"/>
<circle class="k28" cx="416.9" cy="86.6" r="1.0"/>
<circle class="k28" cx="500.3" cy="95.9" r="1.0"/>
<ellipse class="k32" cx="470.2" cy="78.8" rx="0.9" ry="1.1"/>
<ellipse class="k31" cx="492.3" cy="105.8" rx="1.6" ry="1.3"/>
<circle class="k32" cx="499.7" cy="99.1" r="1.5"/>
<ellipse class="k30" cx="439.7" cy="143.1" rx="1.0" ry="1.7"/>
<ellipse class="k30" cx="516.3" cy="117.4" rx="1.8" ry="1.5"/>
<circle class="k31" cx="503.3" cy="117.5" r="1.8"/>
<circle class="k29" cx="419.3" cy="129.8" r="1.1"/>
<ellipse class="k28" cx="433.6" cy="128.6" rx="0.8" ry="1.1"/>
<ellipse class="k30" cx="427.2" cy="94.6" rx="1.6" ry="1.4"/>
<ellipse class="k28" cx="486.8" cy="89.1" rx="1.4" ry="1.0"/>
<ellipse class="k33" cx="480.6" cy="110.0" rx="1.4" ry="1.0"/>
<circle class="k30" cx="507.8" cy="100.9" r="1.1"/>
<ellipse class="k28" cx="414.8" cy="111.6" rx="1.7" ry="1.1"/>
<ellipse class="k33" cx="479.0" cy="123.0" rx="1.0" ry="1.2"/>
<ellipse class="k29" cx="403.4" cy="91.8" rx="1.1" ry="1.7"/>
<ellipse class="k30" cx="476.5" cy="89.5" rx="1.3" ry="1.5"/>
<ellipse class="k28" cx="440.8" cy="81.8" rx="1.2" ry="0.9"/>
<circle class="k30" cx="472.1" cy="96.5" r="1.0"/>
<ellipse class="k32" cx="401.9" cy="125.3" rx="1.2" ry="1.4"/>
<ellipse class="k30" cx="499.3" cy="141.0" rx="1.0" ry="1.2"/>
<ellipse class="k33" cx="416.3" cy="126.9" rx="1.8" ry="1.4"/>
<circle class="k31" cx="470.0" cy="120.4" r="1.1"/>
<ellipse class="k32" cx="432.0" cy="113.1" rx="1.2" ry="1.6"/>
<ellipse class="k32" cx="458.3" cy="96.4" rx="1.2" ry="1.0"/>
<circle class="k30" cx="407.2" cy="115.6" r="1.4"/>
<circle class="k31" cx="493.0" cy="89.4" r="1.2"/>
<ellipse class="k30" cx="488.8" cy="130.6" rx="1.0" ry="1.5"/>
<circle class="k28" cx="451.6" cy="102.5" r="1.3"/>
<ellipse class="k33" cx="447.0" cy="137.5" rx="1.7" ry="1.2"/>
<ellipse class="k28" cx="428.7" cy="99.5" rx="1.1" ry="0.8"/>
<ellipse class="k32" cx="437.8" cy="135.3" rx="1.6" ry="1.4"/>
<circle class="k32" cx="473.6" cy="103.0" r="1.5"/>
<ellipse class="k33" cx="501.4" cy="136.0" rx="1.0" ry="1.4"/>
<circle class="k32" cx="463.0" cy="86.5" r="1.2"/>
<circle class="k29" cx="441.3" cy="131.9" r="1.5"/>
<ellipse class="k30" cx="502.4" cy="78.1" rx="1.5" ry="1.4"/>
<ellipse class="k29" cx="503.2" cy="119.8" rx="1.1" ry="1.5"/>
<ellipse class="k33" cx="467.0" cy="135.5" rx="1.0" ry="1.3"/>
<circle class="k30" cx="501.2" cy="101.5" r="1.0"/>
<ellipse class="k33" cx="453.8" cy="98.9" rx="0.7" ry="1.0"/>
<ellipse class="k28" cx="418.1" cy="136.1" rx="1.0" ry="1.5"/>
<ellipse class="k31" cx="492.5" cy="103.7" rx="0.9" ry="1.4"/>
<circle class="k32" cx="509.6" cy="97.4" r="1.7"/>
<ellipse class="k28" cx="469.2" cy="131.1" rx="1.3" ry="0.8"/>
<circle class="k31" cx="438.4" cy="110.0" r="1.1"/>
<circle class="k28" cx="427.8" cy="90.2" r="1.3"/>
<ellipse class="k32" cx="448.8" cy="90.4" rx="1.1" ry="0.8"/>
<circle class="k29" cx="434.6" cy="105.9" r="0.9"/>
<ellipse class="k31" cx="487.0" cy="111.7" rx="1.2" ry="1.5"/>
<circle class="k30" cx="440.0" cy="91.8" r="1.3"/>
<ellipse class="k29" cx="490.0" cy="85.9" rx="1.0" ry="1.4"/>
<ellipse class="k29" cx="501.1" cy="120.5" rx="1.3" ry="1.7"/>
<ellipse class="k33" cx="494.2" cy="111.7" rx="1.1" ry="0.9"/>
<ellipse class="k30" cx="454.8" cy="90.7" rx="1.1" ry="1.3"/>
<ellipse class="k31" cx="483.5" cy="137.3" rx="1.8" ry="1.6"/>
<ellipse class="k30" cx="471.5" cy="137.4" rx="1.1" ry="1.8"/>
<circle class="k29" cx="407.8" cy="84.1" r="1.3"/>
<ellipse class="k29" cx="474.8" cy="115.6" rx="0.6" ry="1.0"/>
<ellipse class="k29" cx="455.4" cy="82.6" rx="1.7" ry="1.4"/>
<circle class="k28" cx="446.5" cy="91.6" r="1.5"/>
<ellipse class="k33" cx="407.1" cy="127.7" rx="1.5" ry="1.0"/>
<ellipse class="k30" cx="491.4" cy="115.9" rx="1.5" ry="1.7"/>
<ellipse class="k31" cx="458.2" cy="85.8" rx="1.3" ry="1.1"/>
<ellipse class="k32" cx="444.4" cy="137.8" rx="1.6" ry="1.4"/>
<circle class="k32" cx="486.7" cy="128.0" r="1.1"/>
<ellipse class="k29" cx="464.6" cy="86.0" rx="1.3" ry="0.9"/>
<ellipse class="k33" cx="475.0" cy="132.3" rx="1.2" ry="1.6"/>
<ellipse class="k32" cx="501.2" cy="94.3" rx="1.7" ry="1.3"/>
<circle class="k28" cx="456.8" cy="132.6" r="1.4"/>
<ellipse class="k29" cx="470.8" cy="118.7" rx="1.4" ry="1.1"/>
<ellipse class="k33" cx="460.9" cy="106.0" rx="1.4" ry="1.0"/>
<ellipse class="k31" cx="434.9" cy="111.5" rx="1.5" ry="1.7"/>
<circle class="k31" cx="421.8" cy="137.7" r="1.4"/>
<ellipse class="k29" cx="420.4" cy="123.5" rx="0.7" ry="1.0"/>
<ellipse class="k32" cx="431.8" cy="120.5" rx="1.0" ry="1.3"/>
<ellipse class="k28" cx="451.4" cy="137.4" rx="1.2" ry="0.9"/>
<circle class="k30" cx="437.1" cy="89.0" r="1.3"/>
<ellipse class="k30" cx="504.7" cy="107.6" rx="1.7" ry="1.2"/>
<ellipse class="k31" cx="447.4" cy="111.2" rx="1.1" ry="0.7"/>
<ellipse class="k29" cx="453.4" cy="115.4" rx="0.7" ry="1.1"/>
<ellipse class="k32" cx="410.1" cy="112.1" rx="1.7" ry="1.4"/>
<circle class="k30" cx="452.2" cy="123.2" r="1.6"/>
<ellipse class="k30" cx="497.6" cy="129.4" rx="1.0" ry="1.5"/>
<ellipse class="k31" cx="438.7" cy="141.5" rx="1.1" ry="0.8"/>
<ellipse class="k33" cx="444.3" cy="92.7" rx="0.9" ry="1.2"/>
<ellipse class="k32" cx="417.5" cy="123.4" rx="1.1" ry="0.8"/>
<ellipse class="k28" cx="408.3" cy="122.6" rx="1.2" ry="0.9"/>
<ellipse class="k33" cx="406.1" cy="79.1" rx="1.5" ry="1.7"/>
<circle class="k28" cx="421.2" cy="121.3" r="1.2"/>
<circle class="k31" cx="508.8" cy="86.7" r="1.1"/>
<circle class="k32" cx="412.7" cy="117.1" r="1.1"/>
<ellipse class="k29" cx="489.7" cy="100.2" rx="1.0" ry="1.7"/>
<circle class="k30" cx="502.4" cy="121.7" r="1.5"/>
<circle class="k29" cx="408.8" cy="121.3" r="1.0"/>
<ellipse class="k28" cx="477.3" cy="105.7" rx="1.2" ry="1.5"/>
<ellipse class="k32" cx="502.5" cy="129.0" rx="1.2" ry="0.9"/>
<ellipse class="k31" cx="409.7" cy="101.0" rx="0.9" ry="1.1"/>
<ellipse class="k28" cx="508.6" cy="115.1" rx="0.8" ry="1.2"/>
<ellipse class="k30" cx="404.0" cy="134.4" rx="1.5" ry="0.9"/>
<ellipse class="k31" cx="458.5" cy="102.1" rx="1.3" ry="0.9"/>
<circle class="k28" cx="464.5" cy="80.8" r="1.0"/>
<ellipse class="k31" cx="493.5" cy="82.1" rx="1.1" ry="1.7"/>
<ellipse class="k30" cx="479.8" cy="129.4" rx="1.7" ry="1.4"/>
<circle class="k29" cx="424.4" cy="93.1" r="1.2"/>
<ellipse class="k32" cx="481.3" cy="115.2" rx="1.8" ry="1.1"/>
<ellipse class="k30" cx="492.9" cy="98.3" rx="1.0" ry="1.6"/>
<ellipse class="k29" cx="496.9" cy="85.8" rx="1.2" ry="1.7"/>
<ellipse class="k29" cx="474.3" cy="131.6" rx="1.2" ry="1.0"/>
<ellipse class="k30" cx="481.4" cy="130.7" rx="1.6" ry="1.4"/>
<circle class="k28" cx="409.7" cy="78.6" r="1.6"/>
<ellipse class="k29" cx="435.4" cy="92.4" rx="1.1" ry="1.0"/>
<circle class="k31" cx="458.1" cy="124.4" r="1.4"/>
<ellipse class="k32" cx="465.0" cy="124.4" rx="1.4" ry="1.7"/>
<ellipse class="k29" cx="433.9" cy="87.9" rx="1.4" ry="1.0"/>
<ellipse class="k31" cx="411.8" cy="131.4" rx="1.0" ry="1.4"/>
<ellipse class="k29" cx="488.0" cy="121.8" rx="0.7" ry="1.1"/>
<ellipse class="k30" cx="508.0" cy="138.4" rx="1.3" ry="1.0"/>
<ellipse class="k31" cx="515.0" cy="139.0" rx="1.1" ry="1.7"/>
<ellipse class="k30" cx="414.7" cy="115.8" rx="1.1" ry="0.7"/>
<ellipse class="k29" cx="504.5" cy="130.0" rx="1.6" ry="1.1"/>
<circle class="k32" cx="481.9" cy="126.1" r="1.4"/>
<ellipse class="k32" cx="481.6" cy="86.6" rx="1.6" ry="1.2"/>
<ellipse class="k32" cx="475.0" cy="98.1" rx="1.5" ry="1.3"/>
<circle class="k30" cx="411.0" cy="84.0" r="1.6"/>
<ellipse class="k28" cx="412.0" cy="133.5" rx="1.7" ry="1.2"/>
<circle class="k33" cx="454.6" cy="123.5" r="1.2"/>
<ellipse class="k28" cx="449.0" cy="111.6" rx="1.8" ry="1.6"/>
<ellipse class="k33" cx="424.4" cy="108.5" rx="1.3" ry="1.7"/>
<ellipse class="k33" cx="465.0" cy="109.9" rx="1.1" ry="1.3"/>
<ellipse class="k30" cx="428.5" cy="106.8" rx="1.0" ry="1.6"/>
<ellipse class="k30" cx="451.9" cy="78.3" rx="0.9" ry="1.1"/>
<circle class="k28" cx="486.1" cy="103.8" r="1.5"/>
<ellipse class="k31" cx="446.0" cy="95.0" rx="1.6" ry="1.1"/>
<circle class="k29" cx="452.1" cy="137.1" r="1.6"/>
<ellipse class="k31" cx="455.4" cy="79.7" rx="1.4" ry="0.8"/>
<circle class="k31" cx="417.0" cy="129.9" r="1.0"/>
<circle class="k29" cx="404.5" cy="107.4" r="1.0"/>
<ellipse class="k31" cx="448.4" cy="105.9" rx="1.5" ry="1.0"/>
<circle class="k32" cx="497.1" cy="97.7" r="1.4"/>
<ellipse class="k31" cx="441.9" cy="137.2" rx="1.1" ry="0.7"/>
<ellipse class="k31" cx="416.3" cy="137.1" rx="1.7" ry="1.5"/>
<circle class="k32" cx="462.3" cy="121.7" r="1.0"/>
<ellipse class="k30" cx="422.5" cy="91.1" rx="1.2" ry="0.9"/>
<ellipse class="k29" cx="502.1" cy="103.2" rx="1.1" ry="1.4"/>
<ellipse class="k32" cx="454.4" cy="108.5" rx="1.1" ry="1.4"/>
<circle class="k32" cx="435.1" cy="127.1" r="1.3"/>
<ellipse class="k29" cx="495.0" cy="103.6" rx="0.7" ry="1.1"/>
<circle class="k33" cx="486.4" cy="123.8" r="1.1"/>
<ellipse class="k28" cx="487.2" cy="122.2" rx="1.0" ry="0.7"/>
<ellipse class="k32" cx="465.6" cy="129.4" rx="1.2" ry="1.0"/>
<ellipse class="k30" cx="481.7" cy="132.9" rx="1.1" ry="0.8"/>
<ellipse class="k29" cx="417.9" cy="126.0" rx="1.5" ry="1.2"/>
<circle class="k28" cx="446.1" cy="119.3" r="1.1"/>
<ellipse class="k30" cx="449.5" cy="117.5" rx="1.5" ry="1.0"/>
<ellipse class="k29" cx="509.8" cy="106.5" rx="1.3" ry="0.8"/>
<ellipse class="k31" cx="465.0" cy="82.8" rx="0.8" ry="1.2"/>
<ellipse class="k31" cx="450.7" cy="131.7" rx="1.5" ry="1.1"/>
<ellipse class="k31" cx="431.9" cy="115.8" rx="1.6" ry="1.4"/>
<ellipse class="k29" cx="487.7" cy="100.9" rx="1.4" ry="1.0"/>
<ellipse class="k30" cx="460.0" cy="78.0" rx="1.7" ry="1.1"/>
<ellipse class="k33" cx="508.0" cy="144.1" rx="1.6" ry="1.8"/>
<ellipse class="k32" cx="499.6" cy="111.1" rx="1.1" ry="1.7"/>
<circle class="k29" cx="487.0" cy="129.0" r="1.0"/>
<ellipse class="k31" cx="507.0" cy="108.5" rx="1.4" ry="1.0"/>
<ellipse class="k28" cx="479.8" cy="134.4" rx="1.5" ry="1.2"/>
<ellipse class="k28" cx="463.0" cy="98.8" rx="1.2" ry="0.9"/>
<ellipse class="k33" cx="511.0" cy="95.3" rx="1.1" ry="0.8"/>
<ellipse class="k30" cx="447.8" cy="139.2" rx="1.8" ry="1.1"/>
<ellipse class="k32" cx="500.9" cy="86.7" rx="0.9" ry="1.4"/>
<circle class="k33" cx="458.8" cy="124.8" r="1.2"/>
<ellipse class="k30" cx="447.5" cy="108.2" rx="0.8" ry="1.3"/>
<ellipse class="k31" cx="432.1" cy="120.0" rx="1.6" ry="1.4"/>
<circle class="k31" cx="448.5" cy="82.9" r="1.8"/>
<ellipse class="k33" cx="450.9" cy="98.8" rx="1.6" ry="1.2"/>
<ellipse class="k29" cx="412.4" cy="94.3" rx="1.8" ry="1.1"/>
<ellipse class="k32" cx="483.2" cy="107.4" rx="0.9" ry="1.4"/>
<ellipse class="k30" cx="433.3" cy="81.2" rx="1.1" ry="1.7"/>
<ellipse class="k29" cx="414.0" cy="118.4" rx="1.3" ry="1.0"/>
<circle class="k28" cx="515.5" cy="120.8" r="1.2"/>
<ellipse class="k28" cx="477.6" cy="119.4" rx="1.5" ry="0.9"/>
<ellipse class="k32" cx="483.5" cy="91.3" rx="1.2" ry="0.9"/>
<circle class="k29" cx="496.5" cy="100.6" r="1.4"/>
<circle class="k31" cx="501.2" cy="78.2" r="0.9"/>
<circle class="k28" cx="515.9" cy="127.6" r="1.6"/>
<ellipse class="k28" cx="487.4" cy="96.7" rx="1.4" ry="1.0"/>
<ellipse class="k31" cx="456.5" cy="141.4" rx="1.5" ry="1.3"/>
<ellipse class="k28" cx="505.3" cy="77.8" rx="1.2" ry="1.6"/>
<circle class="k30" cx="449.9" cy="89.0" r="1.2"/>
<ellipse class="k33" cx="455.4" cy="136.9" rx="0.8" ry="1.2"/>
<ellipse class="k30" cx="445.6" cy="91.5" rx="1.7" ry="1.2"/>
<ellipse class="k33" cx="411.9" cy="92.2" rx="1.1" ry="1.3"/>
<circle class="k32" cx="470.8" cy="124.1" r="0.9"/>
<ellipse class="k30" cx="476.8" cy="119.6" rx="1.3" ry="1.8"/>
<ellipse class="k33" cx="454.6" cy="129.4" rx="1.5" ry="1.1"/>
<ellipse class="k28" cx="429.5" cy="95.1" rx="0.9" ry="1.3"/>
<ellipse class="k30" cx="467.8" cy="80.4" rx="1.7" ry="1.0"/>
<ellipse class="k31" cx="425.9" cy="143.1" rx="1.0" ry="1.6"/>
<circle class="k32" cx="415.4" cy="138.4" r="1.0"/>
<ellipse class="k30" cx="451.4" cy="80.8" rx="1.2" ry="0.8"/>
<ellipse class="k29" cx="461.5" cy="90.4" rx="0.9" ry="1.3"/>
<circle class="k33" cx="499.1" cy="128.6" r="0.9"/>
<ellipse class="k29" cx="416.4" cy="136.7" rx="1.1" ry="1.7"/>
<ellipse class="k28" cx="509.1" cy="139.9" rx="0.9" ry="1.4"/>
<ellipse class="k31" cx="478.0" cy="80.3" rx="1.1" ry="0.7"/>
<ellipse class="k29" cx="405.1" cy="105.9" rx="1.3" ry="0.9"/>
<ellipse class="k32" cx="415.2" cy="143.5" rx="1.3" ry="1.7"/>
<ellipse class="k31" cx="481.3" cy="104.1" rx="1.5" ry="1.1"/>
<ellipse class="k33" cx="440.9" cy="140.5" rx="1.5" ry="1.3"/>
<ellipse class="k28" cx="476.2" cy="124.7" rx="1.5" ry="1.1"/>
<ellipse class="k29" cx="414.2" cy="141.3" rx="1.1" ry="1.5"/>
<ellipse class="k32" cx="510.7" cy="126.5" rx="1.2" ry="1.4"/>
<ellipse class="k31" cx="417.1" cy="96.9" rx="1.2" ry="1.4"/>
<ellipse class="k30" cx="411.2" cy="136.8" rx="1.2" ry="1.1"/>
<ellipse class="k29" cx="446.9" cy="126.6" rx="1.3" ry="1.6"/>
<ellipse class="k33" cx="404.3" cy="107.4" rx="1.2" ry="1.4"/>
<ellipse class="k30" cx="448.2" cy="102.9" rx="1.4" ry="1.8"/>
<circle class="k31" cx="493.8" cy="92.8" r="1.4"/>
<ellipse class="k33" cx="444.3" cy="85.0" rx="1.4" ry="1.0"/>
<circle class="k32" cx="481.2" cy="120.3" r="1.5"/>
<ellipse class="k28" cx="485.7" cy="88.0" rx="0.9" ry="1.2"/>
<circle class="k30" cx="406.8" cy="84.2" r="1.7"/>
<ellipse class="k32" cx="451.3" cy="109.9" rx="1.3" ry="1.6"/>
<ellipse class="k29" cx="407.5" cy="143.6" rx="0.9" ry="1.4"/>
<ellipse class="k33" cx="405.5" cy="124.7" rx="1.4" ry="1.0"/>
<ellipse class="k30" cx="403.2" cy="108.7" rx="1.5" ry="1.3"/>
<circle class="k29" cx="459.5" cy="126.2" r="1.7"/>
<ellipse class="k31" cx="510.6" cy="131.7" rx="0.8" ry="1.2"/>
<circle class="k28" cx="501.5" cy="111.7" r="1.2"/>
<circle class="k28" cx="415.4" cy="141.3" r="1.1"/>
<ellipse class="k32" cx="462.2" cy="90.2" rx="0.9" ry="1.4"/>
<circle class="k32" cx="483.9" cy="101.8" r="1.4"/>
<circle class="k28" cx="432.2" cy="117.3" r="1.1"/>
<ellipse class="k33" cx="451.1" cy="122.1" rx="0.8" ry="1.1"/>
<ellipse class="k28" cx="412.1" cy="92.6" rx="0.9" ry="1.4"/>
<ellipse class="k33" cx="497.1" cy="126.3" rx="1.1" ry="0.8"/>
<ellipse class="k32" cx="499.9" cy="116.7" rx="1.2" ry="0.8"/>
<ellipse class="k33" cx="434.5" cy="134.9" rx="1.0" ry="1.4"/>
<ellipse class="k32" cx="454.7" cy="117.1" rx="1.1" ry="0.7"/>
<ellipse class="k29" cx="426.1" cy="124.4" rx="0.8" ry="1.2"/>
<circle class="k30" cx="454.1" cy="131.3" r="1.3"/>
<ellipse class="k32" cx="432.6" cy="89.9" rx="1.3" ry="1.1"/>
<ellipse class="k30" cx="423.9" cy="109.7" rx="0.9" ry="1.4"/>
<circle class="k32" cx="462.7" cy="122.4" r="1.3"/>
<circle class="k28" cx="494.3" cy="80.2" r="1.1"/>
<ellipse class="k33" cx="503.9" cy="107.3" rx="1.1" ry="0.7"/>
<circle class="k29" cx="412.1" cy="115.2" r="1.3"/>
<ellipse class="k28" cx="484.0" cy="79.7" rx="0.8" ry="1.3"/>
<ellipse class="k32" cx="510.6" cy="132.3" rx="1.1" ry="1.6"/>
<ellipse class="k29" cx="482.2" cy="90.0" rx="1.8" ry="1.6"/>
<circle class="k31" cx="459.1" cy="137.5" r="1.1"/>
<circle class="k33" cx="461.1" cy="129.3" r="1.1"/>
<ellipse class="k31" cx="470.6" cy="97.5" rx="1.2" ry="1.6"/>
<ellipse class="k29" cx="463.9" cy="89.9" rx="1.6" ry="1.0"/>
<ellipse class="k31" cx="467.0" cy="128.2" rx="1.7" ry="1.3"/>
<ellipse class="k29" cx="411.5" cy="81.7" rx="1.1" ry="1.4"/>
<circle class="k33" cx="405.7" cy="111.8" r="1.4"/>
<ellipse class="k31" cx="482.4" cy="132.9" rx="1.5" ry="1.3"/>
<ellipse class="k28" cx="477.4" cy="104.2" rx="1.1" ry="1.3"/>
<ellipse class="k28" cx="432.8" cy="82.7" rx="1.8" ry="1.2"/>
<circle class="k32" cx="425.6" cy="134.4" r="1.3"/>
<ellipse class="k29" cx="422.2" cy="88.2" rx="0.7" ry="1.1"/>
<ellipse class="k32" cx="476.7" cy="117.6" rx="1.4" ry="1.0"/>
<ellipse class="k32" cx="431.3" cy="123.0" rx="1.2" ry="0.7"/>
<ellipse class="k31" cx="464.0" cy="141.8" rx="1.7" ry="1.5"/>
<ellipse class="k30" cx="469.2" cy="134.0" rx="1.1" ry="0.7"/>
<ellipse class="k32" cx="482.4" cy="144.2" rx="1.1" ry="0.9"/>
<circle class="k29" cx="467.6" cy="113.5" r="1.0"/>
<ellipse class="k32" cx="509.5" cy="121.0" rx="1.7" ry="1.4"/>
<ellipse class="k28" cx="436.4" cy="131.6" rx="1.1" ry="0.8"/>
<ellipse class="k30" cx="467.0" cy="103.3" rx="1.1" ry="1.7"/>
<ellipse class="k32" cx="436.8" cy="114.8" rx="0.8" ry="1.1"/>
<circle class="k33" cx="430.1" cy="125.0" r="1.3"/>
<ellipse class="k31" cx="421.8" cy="82.9" rx="1.1" ry="1.8"/>
<circle class="k30" cx="437.4" cy="83.9" r="1.0"/>
<ellipse class="k28" cx="490.2" cy="125.1" rx="1.1" ry="0.8"/>
<ellipse class="k33" cx="471.3" cy="97.4" rx="1.7" ry="1.5"/>
<ellipse class="k31" cx="470.9" cy="78.1" rx="1.2" ry="0.9"/>
<ellipse class="k30" cx="469.4" cy="111.9" rx="1.1" ry="1.3"/>
<ellipse class="k28" cx="441.7" cy="80.4" rx="1.2" ry="1.5"/>
<ellipse class="k29" cx="412.2" cy="119.1" rx="1.2" ry="1.5"/>
<ellipse class="k31" cx="485.6" cy="113.6" rx="1.0" ry="0.7"/>
<ellipse class="k29" cx="511.9" cy="96.1" rx="1.1" ry="1.4"/>
<ellipse class="k33" cx="480.1" cy="115.2" rx="1.2" ry="1.1"/>
<circle class="k28" cx="468.5" cy="79.6" r="1.0"/>
<ellipse class="k33" cx="416.5" cy="110.0" rx="1.0" ry="1.5"/>
<ellipse class="k28" cx="469.3" cy="78.8" rx="0.9" ry="1.1"/>
<circle class="k33" cx="505.2" cy="98.9" r="1.5"/>
<ellipse class="k30" cx="421.3" cy="88.4" rx="1.6" ry="1.4"/>
<circle class="k33" cx="490.5" cy="89.9" r="1.0"/>
<circle class="k31" cx="442.4" cy="101.9" r="1.2"/>
<ellipse class="k31" cx="481.5" cy="135.9" rx="0.9" ry="1.3"/>
<ellipse class="k32" cx="405.7" cy="117.2" rx="1.8" ry="1.1"/>
<ellipse class="k33" cx="496.7" cy="81.4" rx="1.5" ry="1.1"/>
<ellipse class="k33" cx="402.9" cy="80.1" rx="1.5" ry="1.2"/>
<circle class="k32" cx="472.0" cy="97.1" r="1.5"/>
<ellipse class="k28" cx="462.0" cy="136.3" rx="1.1" ry="0.7"/>
<ellipse class="k29" cx="466.7" cy="110.6" rx="1.8" ry="1.3"/>
<circle class="k32" cx="487.5" cy="77.6" r="1.5"/>
<ellipse class="k31" cx="491.9" cy="102.6" rx="1.0" ry="1.3"/>
<circle class="k33" cx="433.6" cy="86.1" r="1.6"/>
<ellipse class="k33" cx="416.1" cy="81.2" rx="1.6" ry="1.7"/>
<ellipse class="k30" cx="437.5" cy="97.1" rx="0.8" ry="1.3"/>
<ellipse class="k28" cx="441.5" cy="116.8" rx="0.8" ry="1.0"/>
<ellipse class="k32" cx="499.4" cy="141.7" rx="1.1" ry="1.4"/>
<ellipse class="k32" cx="474.7" cy="98.2" rx="0.9" ry="1.5"/>
<ellipse class="k30" cx="435.4" cy="104.0" rx="1.3" ry="0.9"/>
<ellipse class="k31" cx="505.8" cy="132.4" rx="1.3" ry="0.9"/>
<ellipse class="k33" cx="442.2" cy="82.6" rx="1.2" ry="1.5"/>
<ellipse class="k31" cx="443.5" cy="100.0" rx="1.6" ry="1.3"/>
<ellipse class="k28" cx="505.8" cy="124.7" rx="1.6" ry="1.0"/>
<ellipse class="k31" cx="461.9" cy="121.6" rx="0.7" ry="1.0"/>
<ellipse class="k30" cx="468.7" cy="79.0" rx="1.5" ry="0.9"/>
<ellipse class="k31" cx="510.3" cy="108.0" rx="1.2" ry="0.8"/>
<ellipse class="k28" cx="438.6" cy="127.9" rx="1.8" ry="1.6"/>
<ellipse class="k30" cx="469.4" cy="85.7" rx="1.1" ry="0.7"/>
<circle class="k33" cx="465.5" cy="94.8" r="1.5"/>
<circle class="k31" cx="507.2" cy="79.0" r="1.0"/>
<circle class="k28" cx="461.9" cy="101.4" r="1.0"/>
<ellipse class="k31" cx="504.3" cy="108.8" rx="1.1" ry="0.8"/>
<ellipse class="k33" cx="438.7" cy="93.2" rx="0.8" ry="1.2"/>
<ellipse class="k31" cx="463.0" cy="89.3" rx="1.2" ry="1.7"/>
<ellipse class="k32" cx="444.4" cy="97.4" rx="1.6" ry="1.0"/>
<ellipse class="k30" cx="401.3" cy="120.8" rx="1.1" ry="0.9"/>
<ellipse class="k29" cx="409.2" cy="112.2" rx="0.9" ry="1.1"/>
</g>
</g>
<clipPath id="c15"><rect x="348" y="150.8" width="53.6" height="53.8"/></clipPath>
<g clip-path="url(#c15)"><rect x="348" y="150.8" width="53.6" height="53.8" fill="#e4b0b8"/>
<g filter="url(#bm)">
<circle cx="382.1" cy="192.0" r="4.5" fill="#e8948c" opacity="0.6"/>
<circle cx="394.7" cy="194.0" r="3.1" fill="#e8948c" opacity="0.6"/>
<circle cx="398.3" cy="155.6" r="3.7" fill="#e49c9c" opacity="0.6"/>
<circle cx="368.1" cy="154.9" r="3.1" fill="#e49c9c" opacity="0.6"/>
<circle cx="369.7" cy="159.6" r="4.7" fill="#dca8b8" opacity="0.6"/>
<circle cx="355.3" cy="195.2" r="2.8" fill="#dca8b8" opacity="0.6"/>
<circle cx="353.3" cy="149.1" r="4.7" fill="#e49c9c" opacity="0.6"/>
<circle cx="390.9" cy="204.7" r="2.9" fill="#e49c9c" opacity="0.6"/>
<circle cx="362.8" cy="204.8" r="3.8" fill="#e49c9c" opacity="0.6"/>
<circle cx="356.5" cy="205.2" r="3.0" fill="#dca8b8" opacity="0.6"/>
<circle cx="363.3" cy="169.9" r="2.9" fill="#e49c9c" opacity="0.6"/>
<circle cx="361.3" cy="168.2" r="4.5" fill="#e8948c" opacity="0.6"/>
<circle cx="380.6" cy="190.0" r="2.7" fill="#f0dce4" opacity="0.6"/>
<circle cx="393.5" cy="176.9" r="3.3" fill="#dca8b8" opacity="0.6"/>
<circle cx="373.4" cy="159.2" r="3.1" fill="#e8948c" opacity="0.6"/>
<circle cx="401.1" cy="169.7" r="3.5" fill="#dca8b8" opacity="0.6"/>
<circle cx="367.2" cy="182.6" r="2.5" fill="#e8948c" opacity="0.6"/>
<circle cx="387.0" cy="185.2" r="4.9" fill="#e8948c" opacity="0.6"/>
<circle cx="389.8" cy="202.9" r="4.9" fill="#f0dce4" opacity="0.6"/>
<circle cx="375.7" cy="200.8" r="3.1" fill="#dca8b8" opacity="0.6"/>
<circle cx="352.3" cy="192.4" r="4.5" fill="#f0dce4" opacity="0.6"/>
<circle cx="348.1" cy="203.9" r="2.7" fill="#f0dce4" opacity="0.6"/>
<circle cx="375.7" cy="170.0" r="2.9" fill="#f0dce4" opacity="0.6"/>
<circle cx="399.6" cy="180.6" r="3.3" fill="#f0dce4" opacity="0.6"/>
<circle cx="363.8" cy="195.3" r="4.1" fill="#f0dce4" opacity="0.6"/>
<circle cx="403.8" cy="158.4" r="2.6" fill="#dca8b8" opacity="0.6"/>
<circle cx="347.8" cy="192.0" r="3.4" fill="#f0dce4" opacity="0.6"/>
<circle cx="372.4" cy="173.5" r="2.6" fill="#e8948c" opacity="0.6"/>
<circle cx="392.5" cy="168.4" r="3.0" fill="#e49c9c" opacity="0.6"/>
<circle cx="382.6" cy="194.7" r="2.8" fill="#dca8b8" opacity="0.6"/>
<circle cx="367.6" cy="152.4" r="3.6" fill="#e49c9c" opacity="0.6"/>
<circle cx="372.3" cy="207.0" r="4.6" fill="#dca8b8" opacity="0.6"/>
<circle cx="401.7" cy="189.0" r="3.3" fill="#f0dce4" opacity="0.6"/>
<circle cx="362.9" cy="172.4" r="2.9" fill="#dca8b8" opacity="0.6"/>
<circle cx="393.7" cy="179.8" r="2.9" fill="#dca8b8" opacity="0.6"/>
<circle cx="396.3" cy="159.4" r="3.7" fill="#f0dce4" opacity="0.6"/>
<circle cx="349.7" cy="195.1" r="3.4" fill="#e8948c" opacity="0.6"/>
<circle cx="390.1" cy="170.1" r="4.3" fill="#f0dce4" opacity="0.6"/>
<circle cx="394.4" cy="164.4" r="5.0" fill="#f0dce4" opacity="0.6"/>
<circle cx="401.5" cy="168.7" r="2.9" fill="#e8948c" opacity="0.6"/>
<circle cx="373.5" cy="193.9" r="3.3" fill="#f0dce4" opacity="0.6"/>
<circle cx="372.9" cy="196.4" r="4.1" fill="#f0dce4" opacity="0.6"/>
<circle cx="366.2" cy="186.4" r="4.3" fill="#dca8b8" opacity="0.6"/>
<circle cx="366.3" cy="197.9" r="4.7" fill="#dca8b8" opacity="0.6"/>
<circle cx="402.6" cy="204.5" r="3.8" fill="#e49c9c" opacity="0.6"/>
<circle cx="357.5" cy="170.0" r="4.6" fill="#f0dce4" opacity="0.6"/>
<circle cx="386.1" cy="190.7" r="4.3" fill="#e49c9c" opacity="0.6"/>
<circle cx="381.8" cy="203.3" r="3.8" fill="#dca8b8" opacity="0.6"/>
<circle cx="363.6" cy="181.1" r="4.7" fill="#f0dce4" opacity="0.6"/>
<circle cx="387.8" cy="150.6" r="2.9" fill="#dca8b8" opacity="0.6"/>
<circle cx="382.2" cy="159.5" r="4.4" fill="#e49c9c" opacity="0.6"/>
<circle cx="382.6" cy="151.4" r="3.7" fill="#e49c9c" opacity="0.6"/>
<circle cx="355.6" cy="200.7" r="2.8" fill="#e49c9c" opacity="0.6"/>
<circle cx="374.0" cy="180.8" r="3.5" fill="#f0dce4" opacity="0.6"/>
<circle cx="368.1" cy="184.5" r="4.0" fill="#e49c9c" opacity="0.6"/>
<circle cx="387.6" cy="170.7" r="3.4" fill="#f0dce4" opacity="0.6"/>
<circle cx="395.6" cy="199.3" r="4.2" fill="#f0dce4" opacity="0.6"/>
<circle cx="401.9" cy="180.9" r="3.3" fill="#f0dce4" opacity="0.6"/>
<circle cx="377.6" cy="168.7" r="4.0" fill="#f0dce4" opacity="0.6"/>
<circle cx="393.5" cy="173.3" r="4.5" fill="#f0dce4" opacity="0.6"/>
<circle cx="354.8" cy="172.3" r="5" fill="#f6f0f4" opacity="0.8"/>
<circle cx="398" cy="198" r="4" fill="#f4ecf0" opacity="0.7"/>
<circle cx="352" cy="200" r="3" fill="#f4e8ee" opacity="0.6"/>
<circle cx="390" cy="152" r="3" fill="#f0e4ec" opacity="0.5"/>
</g><g filter="url(#bi)">
<ellipse cx="368.9" cy="156.8" rx="5.1" ry="4.5" fill="#9c88c4" opacity="0.85"/>
<ellipse cx="378.4" cy="158.8" rx="3.6" ry="4.2" fill="#a894c8" opacity="0.8"/>
<ellipse cx="351.6" cy="160.2" rx="3.0" ry="4.8" fill="#a08cc4" opacity="0.75"/>
<ellipse cx="370.3" cy="168.9" rx="4.5" ry="5.6" fill="#9a86c2" opacity="0.85"/>
<ellipse cx="384.4" cy="173" rx="3.3" ry="4.5" fill="#a894ca" opacity="0.8"/>
<ellipse cx="361.5" cy="183" rx="3.9" ry="3.9" fill="#a490c6" opacity="0.8"/>
<ellipse cx="366.9" cy="192.5" rx="4.5" ry="4.5" fill="#9c88c4" opacity="0.8"/>
<ellipse cx="375.7" cy="191.1" rx="4.5" ry="3.9" fill="#a490c8" opacity="0.8"/>
<ellipse cx="385.8" cy="183" rx="3.0" ry="3.9" fill="#b09ccc" opacity="0.75"/>
<ellipse cx="395.2" cy="176.3" rx="3.3" ry="2.1" fill="#5c4c9c" opacity="0.9"/>
<ellipse cx="353.5" cy="191.1" rx="3.0" ry="3.0" fill="#b09ccc" opacity="0.7"/>
<ellipse cx="396.5" cy="161.5" rx="3.3" ry="4.5" fill="#b4a0cc" opacity="0.7"/>
<ellipse cx="397.9" cy="193.8" rx="3.0" ry="3.6" fill="#b8a4d0" opacity="0.6"/>
<ellipse cx="360" cy="170" rx="3.3" ry="4.2" fill="#b8a4cc" opacity="0.6"/>
<ellipse cx="389" cy="163" rx="3.0" ry="3.6" fill="#b8a4cc" opacity="0.6"/>
</g></g>
<clipPath id="c16"><rect x="460.5" y="151" width="53.4" height="53.6"/></clipPath>
<g clip-path="url(#c16)"><rect x="460.5" y="151" width="53.4" height="53.6" fill="#ecd2dc"/>
<g filter="url(#bm)">
<circle cx="485.1" cy="158.1" r="3.5" fill="#f0d8e0" opacity="0.6"/>
<circle cx="513.5" cy="205.1" r="4.0" fill="#dcc8e0" opacity="0.6"/>
<circle cx="505.6" cy="187.4" r="3.5" fill="#dcc8e0" opacity="0.6"/>
<circle cx="490.8" cy="184.7" r="2.9" fill="#f0d8e0" opacity="0.6"/>
<circle cx="482.9" cy="205.6" r="3.7" fill="#f0d8e0" opacity="0.6"/>
<circle cx="514.4" cy="171.0" r="4.9" fill="#e8c0cc" opacity="0.6"/>
<circle cx="492.6" cy="164.1" r="5.0" fill="#f0d8e0" opacity="0.6"/>
<circle cx="472.6" cy="150.1" r="4.9" fill="#dcc8e0" opacity="0.6"/>
<circle cx="486.5" cy="165.6" r="3.7" fill="#f6eef4" opacity="0.6"/>
<circle cx="496.3" cy="204.7" r="3.1" fill="#f6eef4" opacity="0.6"/>
<circle cx="503.3" cy="197.0" r="2.5" fill="#dcc8e0" opacity="0.6"/>
<circle cx="472.1" cy="176.5" r="2.6" fill="#f0d8e0" opacity="0.6"/>
<circle cx="473.5" cy="158.0" r="5.0" fill="#dcc8e0" opacity="0.6"/>
<circle cx="486.6" cy="206.6" r="3.8" fill="#f6eef4" opacity="0.6"/>
<circle cx="458.9" cy="156.3" r="3.2" fill="#dcc8e0" opacity="0.6"/>
<circle cx="493.6" cy="191.4" r="2.6" fill="#dcc8e0" opacity="0.6"/>
<circle cx="478.9" cy="192.2" r="4.0" fill="#f6eef4" opacity="0.6"/>
<circle cx="458.2" cy="181.1" r="4.2" fill="#f6eef4" opacity="0.6"/>
<circle cx="509.5" cy="180.6" r="2.5" fill="#f0d8e0" opacity="0.6"/>
<circle cx="492.5" cy="189.0" r="4.9" fill="#f0d8e0" opacity="0.6"/>
<circle cx="507.8" cy="197.8" r="3.7" fill="#e8c0cc" opacity="0.6"/>
<circle cx="510.1" cy="176.0" r="4.4" fill="#dcc8e0" opacity="0.6"/>
<circle cx="506.5" cy="189.3" r="3.6" fill="#dcc8e0" opacity="0.6"/>
<circle cx="495.6" cy="176.4" r="3.3" fill="#e8c0cc" opacity="0.6"/>
<circle cx="485.7" cy="180.8" r="3.7" fill="#dcc8e0" opacity="0.6"/>
<circle cx="489.2" cy="173.7" r="3.9" fill="#f6eef4" opacity="0.6"/>
<circle cx="462.0" cy="162.3" r="4.5" fill="#f6eef4" opacity="0.6"/>
<circle cx="496.5" cy="150.5" r="4.3" fill="#f6eef4" opacity="0.6"/>
<circle cx="515.9" cy="189.7" r="2.6" fill="#f6eef4" opacity="0.6"/>
<circle cx="470.7" cy="186.5" r="4.9" fill="#e8c0cc" opacity="0.6"/>
<circle cx="515.7" cy="189.9" r="3.6" fill="#e8c0cc" opacity="0.6"/>
<circle cx="493.4" cy="173.0" r="2.9" fill="#e8c0cc" opacity="0.6"/>
<circle cx="460.5" cy="155.3" r="3.4" fill="#f6eef4" opacity="0.6"/>
<circle cx="474.2" cy="182.1" r="2.8" fill="#f0d8e0" opacity="0.6"/>
<circle cx="509.0" cy="156.8" r="3.6" fill="#dcc8e0" opacity="0.6"/>
<circle cx="497.8" cy="177.4" r="3.4" fill="#dcc8e0" opacity="0.6"/>
<circle cx="511.1" cy="157.0" r="3.2" fill="#dcc8e0" opacity="0.6"/>
<circle cx="510.8" cy="181.2" r="4.1" fill="#dcc8e0" opacity="0.6"/>
<circle cx="461.7" cy="162.7" r="4.6" fill="#dcc8e0" opacity="0.6"/>
<circle cx="488.0" cy="156.8" r="3.1" fill="#dcc8e0" opacity="0.6"/>
<circle cx="484.3" cy="171.6" r="2.8" fill="#f6eef4" opacity="0.6"/>
<circle cx="496.0" cy="153.9" r="4.2" fill="#f6eef4" opacity="0.6"/>
<circle cx="508.1" cy="178.4" r="3.6" fill="#f0d8e0" opacity="0.6"/>
<circle cx="508.9" cy="176.9" r="3.3" fill="#f6eef4" opacity="0.6"/>
<circle cx="489.4" cy="171.3" r="4.6" fill="#f0d8e0" opacity="0.6"/>
<circle cx="497.5" cy="161.9" r="2.8" fill="#f0d8e0" opacity="0.6"/>
<circle cx="505.6" cy="157.1" r="4.1" fill="#dcc8e0" opacity="0.6"/>
<circle cx="506.5" cy="165.8" r="4.8" fill="#dcc8e0" opacity="0.6"/>
<circle cx="504.2" cy="170.9" r="4.3" fill="#dcc8e0" opacity="0.6"/>
<circle cx="495.6" cy="195.7" r="3.6" fill="#dcc8e0" opacity="0.6"/>
<circle cx="488.0" cy="183.4" r="3.9" fill="#e8c0cc" opacity="0.6"/>
<circle cx="480.9" cy="154.6" r="2.6" fill="#e8c0cc" opacity="0.6"/>
<circle cx="469.3" cy="177.4" r="4.8" fill="#dcc8e0" opacity="0.6"/>
<circle cx="458.0" cy="176.3" r="4.7" fill="#f0d8e0" opacity="0.6"/>
<circle cx="476.7" cy="175.8" r="3.0" fill="#e8c0cc" opacity="0.6"/>
<circle cx="462.1" cy="199.4" r="4.7" fill="#f0d8e0" opacity="0.6"/>
<circle cx="466.8" cy="163.7" r="3.2" fill="#e8c0cc" opacity="0.6"/>
<circle cx="501.5" cy="188.0" r="2.6" fill="#f6eef4" opacity="0.6"/>
<circle cx="478.0" cy="192.6" r="3.3" fill="#f6eef4" opacity="0.6"/>
<circle cx="497.9" cy="188.1" r="3.7" fill="#e8c0cc" opacity="0.6"/>
</g><g filter="url(#bi)">
<ellipse cx="466.2" cy="154.8" rx="6.0" ry="4.5" fill="#c47490" opacity="0.85"/>
<ellipse cx="478.3" cy="156.8" rx="4.5" ry="4.1" fill="#c88098" opacity="0.8"/>
<ellipse cx="489.7" cy="157.5" rx="4.9" ry="4.5" fill="#c0708c" opacity="0.85"/>
<ellipse cx="503.8" cy="156.2" rx="4.5" ry="4.5" fill="#b8a0d0" opacity="0.7"/>
<ellipse cx="462.8" cy="170.3" rx="2.7" ry="3.0" fill="#8888cc" opacity="0.8"/>
<ellipse cx="486.3" cy="166.9" rx="4.9" ry="5.4" fill="#c4708e" opacity="0.85"/>
<ellipse cx="497.1" cy="168.9" rx="4.5" ry="5.4" fill="#c87c96" opacity="0.8"/>
<ellipse cx="485.7" cy="177" rx="4.5" ry="4.5" fill="#cc86a0" opacity="0.75"/>
<ellipse cx="468.2" cy="183" rx="5.4" ry="4.9" fill="#c0708e" opacity="0.85"/>
<ellipse cx="478.9" cy="183" rx="4.5" ry="4.5" fill="#c87e98" opacity="0.8"/>
<ellipse cx="490.4" cy="184.4" rx="4.2" ry="4.5" fill="#cc8aa2" opacity="0.7"/>
<ellipse cx="483.6" cy="191.1" rx="2.4" ry="3.3" fill="#4858b0" opacity="0.9"/>
<ellipse cx="506.5" cy="192.5" rx="3.6" ry="3.0" fill="#8890cc" opacity="0.7"/>
<ellipse cx="499.8" cy="195.9" rx="4.5" ry="4.5" fill="#c47a94" opacity="0.8"/>
<ellipse cx="485" cy="199" rx="4.5" ry="3.9" fill="#c07290" opacity="0.8"/>
<ellipse cx="476.2" cy="195.2" rx="3.9" ry="3.9" fill="#cc88a0" opacity="0.7"/>
<ellipse cx="509.2" cy="171" rx="3.6" ry="4.5" fill="#c890a8" opacity="0.7"/>
<ellipse cx="463.5" cy="188.5" rx="3.0" ry="2.4" fill="#7c80c8" opacity="0.8"/>
</g></g>
<text x="398.80" y="17.70" font-size="7.9" text-anchor="end" fill="#111" >CD37−</text>
<text x="509.60" y="17.70" font-size="7.4" text-anchor="end" fill="#111" >IRF8−</text>
<text x="398.80" y="88.90" font-size="7.9" text-anchor="end" fill="#111" >CD37+</text>
<text x="509.60" y="88.90" font-size="7.4" text-anchor="end" fill="#111" >IRF8+</text>
<line x1="293.50" y1="69.00" x2="313.00" y2="69.00" stroke="#111" stroke-width="1.1" />
<text x="295.00" y="66.80" font-size="6.3" text-anchor="start" fill="#111" >50µm</text>
<line x1="406.20" y1="69.00" x2="425.70" y2="69.00" stroke="#111" stroke-width="1.1" />
<text x="407.70" y="66.80" font-size="6.3" text-anchor="start" fill="#111" >50µm</text>
<line x1="293.50" y1="140.40" x2="313.00" y2="140.40" stroke="#111" stroke-width="1.1" />
<text x="295.00" y="138.20" font-size="6.3" text-anchor="start" fill="#111" >50µm</text>
<line x1="406.20" y1="140.40" x2="425.70" y2="140.40" stroke="#111" stroke-width="1.1" />
<text x="407.70" y="138.20" font-size="6.3" text-anchor="start" fill="#111" >50µm</text>
<line x1="348.70" y1="203.10" x2="361.20" y2="203.10" stroke="#111" stroke-width="1.1" />
<text x="348.70" y="201.30" font-size="6.3" text-anchor="start" fill="#111" >10µm</text>
<line x1="461.20" y1="203.10" x2="473.70" y2="203.10" stroke="#111" stroke-width="1.1" />
<text x="461.20" y="201.30" font-size="6.3" text-anchor="start" fill="#111" >10µm</text>
<rect x="340.5" y="103.5" width="18.4" height="18" fill="none" stroke="#333" stroke-width="1"/>
<rect x="453.1" y="103.5" width="18.7" height="18" fill="none" stroke="#333" stroke-width="1"/>
<line x1="340.50" y1="121.50" x2="347.80" y2="150.80" stroke="#222" stroke-width="1.05" stroke-dasharray="2 1.5"/>
<line x1="358.90" y1="121.50" x2="401.60" y2="150.80" stroke="#222" stroke-width="1.05" stroke-dasharray="2 1.5"/>
<line x1="453.10" y1="121.50" x2="460.50" y2="151.00" stroke="#222" stroke-width="1.05" stroke-dasharray="2 1.5"/>
<line x1="471.80" y1="121.50" x2="513.90" y2="151.00" stroke="#222" stroke-width="1.05" stroke-dasharray="2 1.5"/>
<text x="7.00" y="142.20" font-size="10.4" text-anchor="start" font-weight="bold" fill="#111" stroke="#111" stroke-width="0.35">C</text>
<line x1="45.00" y1="134.60" x2="45.00" y2="231.35" stroke="#333" stroke-width="1.3" />
<line x1="44.40" y1="230.75" x2="202.20" y2="230.75" stroke="#333" stroke-width="1.3" />
<line x1="42.30" y1="230.75" x2="45.00" y2="230.75" stroke="#333" stroke-width="1.1" />
<text x="39.90" y="233.25" font-size="7.1" text-anchor="end" fill="#1a1a1a" >0</text>
<line x1="42.30" y1="212.25" x2="45.00" y2="212.25" stroke="#333" stroke-width="1.1" />
<text x="39.90" y="214.75" font-size="7.1" text-anchor="end" fill="#1a1a1a" >20</text>
<line x1="42.30" y1="193.75" x2="45.00" y2="193.75" stroke="#333" stroke-width="1.1" />
<text x="39.90" y="196.25" font-size="7.1" text-anchor="end" fill="#1a1a1a" >40</text>
<line x1="42.30" y1="175.25" x2="45.00" y2="175.25" stroke="#333" stroke-width="1.1" />
<text x="39.90" y="177.75" font-size="7.1" text-anchor="end" fill="#1a1a1a" >60</text>
<line x1="42.30" y1="156.75" x2="45.00" y2="156.75" stroke="#333" stroke-width="1.1" />
<text x="39.90" y="159.25" font-size="7.1" text-anchor="end" fill="#1a1a1a" >80</text>
<line x1="42.30" y1="138.25" x2="45.00" y2="138.25" stroke="#333" stroke-width="1.1" />
<text x="39.90" y="140.75" font-size="7.1" text-anchor="end" fill="#1a1a1a" >100</text>
<text transform="translate(22.6,182.7) rotate(-90) scale(0.72,1)" font-size="9" text-anchor="middle" fill="#1a1a1a" stroke="#1a1a1a" stroke-width="0.3">% IRF8</text>
<line x1="48.75" y1="212.30" x2="120.00" y2="212.30" stroke="#6a6a6a" stroke-width="1.1" />
<line x1="127.00" y1="174.75" x2="198.70" y2="174.75" stroke="#6a6a6a" stroke-width="1.1" />
<circle cx="50.10" cy="230.75" r="1.72" fill="#c41230"/>
<circle cx="52.55" cy="230.75" r="1.72" fill="#c41230"/>
<circle cx="55.00" cy="230.75" r="1.72" fill="#c41230"/>
<circle cx="57.45" cy="230.75" r="1.72" fill="#c41230"/>
<circle cx="59.90" cy="230.75" r="1.72" fill="#c41230"/>
<circle cx="62.35" cy="230.75" r="1.72" fill="#c41230"/>
<circle cx="64.80" cy="230.75" r="1.72" fill="#c41230"/>
<circle cx="67.25" cy="230.75" r="1.72" fill="#c41230"/>
<circle cx="69.70" cy="230.75" r="1.72" fill="#c41230"/>
<circle cx="72.15" cy="230.75" r="1.72" fill="#c41230"/>
<circle cx="74.60" cy="230.75" r="1.72" fill="#c41230"/>
<circle cx="77.05" cy="230.75" r="1.72" fill="#c41230"/>
<circle cx="79.50" cy="230.75" r="1.72" fill="#0f5282"/>
<circle cx="81.95" cy="230.75" r="1.72" fill="#0f5282"/>
<circle cx="84.40" cy="230.75" r="1.72" fill="#0f5282"/>
<circle cx="86.85" cy="230.75" r="1.72" fill="#0f5282"/>
<circle cx="89.30" cy="230.75" r="1.72" fill="#0f5282"/>
<circle cx="91.75" cy="230.75" r="1.72" fill="#0f5282"/>
<circle cx="94.20" cy="230.75" r="1.72" fill="#0f5282"/>
<circle cx="96.65" cy="230.75" r="1.72" fill="#0f5282"/>
<circle cx="99.10" cy="230.75" r="1.72" fill="#0f5282"/>
<circle cx="101.55" cy="230.75" r="1.72" fill="#0f5282"/>
<circle cx="104.00" cy="230.75" r="1.72" fill="#0f5282"/>
<circle cx="106.45" cy="230.75" r="1.72" fill="#0f5282"/>
<circle cx="108.90" cy="230.75" r="1.72" fill="#0f5282"/>
<circle cx="111.35" cy="230.75" r="1.72" fill="#0f5282"/>
<circle cx="113.80" cy="230.75" r="1.72" fill="#0f5282"/>
<circle cx="116.25" cy="230.75" r="1.72" fill="#0f5282"/>
<circle cx="118.70" cy="230.75" r="1.72" fill="#3bb34f"/>
<circle cx="77.05" cy="221.50" r="1.72" fill="#c41230"/>
<circle cx="79.50" cy="221.50" r="1.72" fill="#c41230"/>
<circle cx="81.95" cy="221.50" r="1.72" fill="#0f5282"/>
<circle cx="84.40" cy="221.50" r="1.72" fill="#0f5282"/>
<circle cx="86.85" cy="221.50" r="1.72" fill="#0f5282"/>
<circle cx="89.30" cy="221.50" r="1.72" fill="#0f5282"/>
<circle cx="91.75" cy="221.50" r="1.72" fill="#3bb34f"/>
<circle cx="70.93" cy="212.25" r="1.72" fill="#c41230"/>
<circle cx="73.38" cy="212.25" r="1.72" fill="#c41230"/>
<circle cx="75.83" cy="212.25" r="1.72" fill="#c41230"/>
<circle cx="78.28" cy="212.25" r="1.72" fill="#c41230"/>
<circle cx="80.73" cy="212.25" r="1.72" fill="#0f5282"/>
<circle cx="83.18" cy="212.25" r="1.72" fill="#0f5282"/>
<circle cx="85.63" cy="212.25" r="1.72" fill="#0f5282"/>
<circle cx="88.08" cy="212.25" r="1.72" fill="#0f5282"/>
<circle cx="90.53" cy="212.25" r="1.72" fill="#0f5282"/>
<circle cx="92.98" cy="212.25" r="1.72" fill="#0f5282"/>
<circle cx="95.43" cy="212.25" r="1.72" fill="#0f5282"/>
<circle cx="97.88" cy="212.25" r="1.72" fill="#3bb34f"/>
<circle cx="64.80" cy="203.00" r="1.72" fill="#c41230"/>
<circle cx="67.25" cy="203.00" r="1.72" fill="#c41230"/>
<circle cx="69.70" cy="203.00" r="1.72" fill="#c41230"/>
<circle cx="72.15" cy="203.00" r="1.72" fill="#c41230"/>
<circle cx="74.60" cy="203.00" r="1.72" fill="#c41230"/>
<circle cx="77.05" cy="203.00" r="1.72" fill="#c41230"/>
<circle cx="79.50" cy="203.00" r="1.72" fill="#c41230"/>
<circle cx="81.95" cy="203.00" r="1.72" fill="#c41230"/>
<circle cx="84.40" cy="203.00" r="1.72" fill="#c41230"/>
<circle cx="86.85" cy="203.00" r="1.72" fill="#c41230"/>
<circle cx="89.30" cy="203.00" r="1.72" fill="#0f5282"/>
<circle cx="91.75" cy="203.00" r="1.72" fill="#0f5282"/>
<circle cx="94.20" cy="203.00" r="1.72" fill="#0f5282"/>
<circle cx="96.65" cy="203.00" r="1.72" fill="#0f5282"/>
<circle cx="99.10" cy="203.00" r="1.72" fill="#0f5282"/>
<circle cx="101.55" cy="203.00" r="1.72" fill="#3bb34f"/>
<circle cx="104.00" cy="203.00" r="1.72" fill="#3bb34f"/>
<circle cx="70.93" cy="193.75" r="1.72" fill="#c41230"/>
<circle cx="73.38" cy="193.75" r="1.72" fill="#c41230"/>
<circle cx="75.83" cy="193.75" r="1.72" fill="#c41230"/>
<circle cx="78.28" cy="193.75" r="1.72" fill="#c41230"/>
<circle cx="80.73" cy="193.75" r="1.72" fill="#c41230"/>
<circle cx="83.18" cy="193.75" r="1.72" fill="#c41230"/>
<circle cx="85.63" cy="193.75" r="1.72" fill="#c41230"/>
<circle cx="88.08" cy="193.75" r="1.72" fill="#c41230"/>
<circle cx="90.53" cy="193.75" r="1.72" fill="#0f5282"/>
<circle cx="92.98" cy="193.75" r="1.72" fill="#0f5282"/>
<circle cx="95.43" cy="193.75" r="1.72" fill="#0f5282"/>
<circle cx="97.88" cy="193.75" r="1.72" fill="#0f5282"/>
<circle cx="79.50" cy="184.50" r="1.72" fill="#c41230"/>
<circle cx="81.95" cy="184.50" r="1.72" fill="#c41230"/>
<circle cx="84.40" cy="184.50" r="1.72" fill="#c41230"/>
<circle cx="86.85" cy="184.50" r="1.72" fill="#c41230"/>
<circle cx="89.30" cy="184.50" r="1.72" fill="#0f5282"/>
<circle cx="84.40" cy="175.25" r="1.72" fill="#0f5282"/>
<circle cx="81.95" cy="166.00" r="1.72" fill="#c41230"/>
<circle cx="84.40" cy="166.00" r="1.72" fill="#0f5282"/>
<circle cx="86.85" cy="166.00" r="1.72" fill="#0f5282"/>
<circle cx="81.95" cy="156.75" r="1.72" fill="#c41230"/>
<circle cx="84.40" cy="156.75" r="1.72" fill="#0f5282"/>
<circle cx="86.85" cy="156.75" r="1.72" fill="#0f5282"/>
<circle cx="84.40" cy="147.50" r="1.72" fill="#c41230"/>
<circle cx="144.47" cy="230.75" r="1.72" fill="#c41230"/>
<circle cx="146.92" cy="230.75" r="1.72" fill="#c41230"/>
<circle cx="149.37" cy="230.75" r="1.72" fill="#c41230"/>
<circle cx="151.82" cy="230.75" r="1.72" fill="#c41230"/>
<circle cx="154.27" cy="230.75" r="1.72" fill="#c41230"/>
<circle cx="156.72" cy="230.75" r="1.72" fill="#c41230"/>
<circle cx="159.17" cy="230.75" r="1.72" fill="#c41230"/>
<circle cx="161.62" cy="230.75" r="1.72" fill="#c41230"/>
<circle cx="164.07" cy="230.75" r="1.72" fill="#0f5282"/>
<circle cx="166.52" cy="230.75" r="1.72" fill="#0f5282"/>
<circle cx="168.97" cy="230.75" r="1.72" fill="#0f5282"/>
<circle cx="171.42" cy="230.75" r="1.72" fill="#0f5282"/>
<circle cx="173.87" cy="230.75" r="1.72" fill="#0f5282"/>
<circle cx="176.32" cy="230.75" r="1.72" fill="#3bb34f"/>
<circle cx="178.77" cy="230.75" r="1.72" fill="#3bb34f"/>
<circle cx="181.22" cy="230.75" r="1.72" fill="#3bb34f"/>
<circle cx="159.17" cy="221.50" r="1.72" fill="#c41230"/>
<circle cx="161.62" cy="221.50" r="1.72" fill="#0f5282"/>
<circle cx="164.07" cy="221.50" r="1.72" fill="#0f5282"/>
<circle cx="166.52" cy="221.50" r="1.72" fill="#0f5282"/>
<circle cx="145.70" cy="212.25" r="1.72" fill="#c41230"/>
<circle cx="148.15" cy="212.25" r="1.72" fill="#c41230"/>
<circle cx="150.60" cy="212.25" r="1.72" fill="#c41230"/>
<circle cx="153.05" cy="212.25" r="1.72" fill="#c41230"/>
<circle cx="155.50" cy="212.25" r="1.72" fill="#c41230"/>
<circle cx="157.95" cy="212.25" r="1.72" fill="#c41230"/>
<circle cx="160.40" cy="212.25" r="1.72" fill="#0f5282"/>
<circle cx="162.85" cy="212.25" r="1.72" fill="#0f5282"/>
<circle cx="165.30" cy="212.25" r="1.72" fill="#0f5282"/>
<circle cx="167.75" cy="212.25" r="1.72" fill="#0f5282"/>
<circle cx="170.20" cy="212.25" r="1.72" fill="#0f5282"/>
<circle cx="172.65" cy="212.25" r="1.72" fill="#0f5282"/>
<circle cx="175.10" cy="212.25" r="1.72" fill="#0f5282"/>
<circle cx="177.55" cy="212.25" r="1.72" fill="#0f5282"/>
<circle cx="180.00" cy="212.25" r="1.72" fill="#3bb34f"/>
<circle cx="154.28" cy="203.00" r="1.72" fill="#c41230"/>
<circle cx="156.72" cy="203.00" r="1.72" fill="#c41230"/>
<circle cx="159.17" cy="203.00" r="1.72" fill="#c41230"/>
<circle cx="161.62" cy="203.00" r="1.72" fill="#c41230"/>
<circle cx="164.07" cy="203.00" r="1.72" fill="#c41230"/>
<circle cx="166.52" cy="203.00" r="1.72" fill="#0f5282"/>
<circle cx="168.97" cy="203.00" r="1.72" fill="#0f5282"/>
<circle cx="171.42" cy="203.00" r="1.72" fill="#0f5282"/>
<circle cx="154.28" cy="193.75" r="1.72" fill="#c41230"/>
<circle cx="156.72" cy="193.75" r="1.72" fill="#c41230"/>
<circle cx="159.17" cy="193.75" r="1.72" fill="#c41230"/>
<circle cx="161.62" cy="193.75" r="1.72" fill="#c41230"/>
<circle cx="164.07" cy="193.75" r="1.72" fill="#c41230"/>
<circle cx="166.52" cy="193.75" r="1.72" fill="#c41230"/>
<circle cx="168.97" cy="193.75" r="1.72" fill="#0f5282"/>
<circle cx="171.42" cy="193.75" r="1.72" fill="#3bb34f"/>
<circle cx="149.38" cy="184.50" r="1.72" fill="#c41230"/>
<circle cx="151.82" cy="184.50" r="1.72" fill="#c41230"/>
<circle cx="154.27" cy="184.50" r="1.72" fill="#c41230"/>
<circle cx="156.72" cy="184.50" r="1.72" fill="#c41230"/>
<circle cx="159.17" cy="184.50" r="1.72" fill="#c41230"/>
<circle cx="161.62" cy="184.50" r="1.72" fill="#c41230"/>
<circle cx="164.07" cy="184.50" r="1.72" fill="#c41230"/>
<circle cx="166.52" cy="184.50" r="1.72" fill="#0f5282"/>
<circle cx="168.97" cy="184.50" r="1.72" fill="#0f5282"/>
<circle cx="171.42" cy="184.50" r="1.72" fill="#0f5282"/>
<circle cx="173.87" cy="184.50" r="1.72" fill="#0f5282"/>
<circle cx="176.32" cy="184.50" r="1.72" fill="#0f5282"/>
<circle cx="145.70" cy="175.25" r="1.72" fill="#c41230"/>
<circle cx="148.15" cy="175.25" r="1.72" fill="#c41230"/>
<circle cx="150.60" cy="175.25" r="1.72" fill="#c41230"/>
<circle cx="153.05" cy="175.25" r="1.72" fill="#c41230"/>
<circle cx="155.50" cy="175.25" r="1.72" fill="#c41230"/>
<circle cx="157.95" cy="175.25" r="1.72" fill="#c41230"/>
<circle cx="160.40" cy="175.25" r="1.72" fill="#0f5282"/>
<circle cx="162.85" cy="175.25" r="1.72" fill="#0f5282"/>
<circle cx="165.30" cy="175.25" r="1.72" fill="#0f5282"/>
<circle cx="167.75" cy="175.25" r="1.72" fill="#0f5282"/>
<circle cx="170.20" cy="175.25" r="1.72" fill="#0f5282"/>
<circle cx="172.65" cy="175.25" r="1.72" fill="#0f5282"/>
<circle cx="175.10" cy="175.25" r="1.72" fill="#0f5282"/>
<circle cx="177.55" cy="175.25" r="1.72" fill="#3bb34f"/>
<circle cx="180.00" cy="175.25" r="1.72" fill="#3bb34f"/>
<circle cx="128.55" cy="166.00" r="1.72" fill="#c41230"/>
<circle cx="131.00" cy="166.00" r="1.72" fill="#c41230"/>
<circle cx="133.45" cy="166.00" r="1.72" fill="#c41230"/>
<circle cx="135.90" cy="166.00" r="1.72" fill="#c41230"/>
<circle cx="138.35" cy="166.00" r="1.72" fill="#c41230"/>
<circle cx="140.80" cy="166.00" r="1.72" fill="#c41230"/>
<circle cx="143.25" cy="166.00" r="1.72" fill="#c41230"/>
<circle cx="145.70" cy="166.00" r="1.72" fill="#c41230"/>
<circle cx="148.15" cy="166.00" r="1.72" fill="#c41230"/>
<circle cx="150.60" cy="166.00" r="1.72" fill="#c41230"/>
<circle cx="153.05" cy="166.00" r="1.72" fill="#c41230"/>
<circle cx="155.50" cy="166.00" r="1.72" fill="#c41230"/>
<circle cx="157.95" cy="166.00" r="1.72" fill="#c41230"/>
<circle cx="160.40" cy="166.00" r="1.72" fill="#c41230"/>
<circle cx="162.85" cy="166.00" r="1.72" fill="#c41230"/>
<circle cx="165.30" cy="166.00" r="1.72" fill="#c41230"/>
<circle cx="167.75" cy="166.00" r="1.72" fill="#c41230"/>
<circle cx="170.20" cy="166.00" r="1.72" fill="#c41230"/>
<circle cx="172.65" cy="166.00" r="1.72" fill="#c41230"/>
<circle cx="175.10" cy="166.00" r="1.72" fill="#c41230"/>
<circle cx="177.55" cy="166.00" r="1.72" fill="#0f5282"/>
<circle cx="180.00" cy="166.00" r="1.72" fill="#0f5282"/>
<circle cx="182.45" cy="166.00" r="1.72" fill="#0f5282"/>
<circle cx="184.90" cy="166.00" r="1.72" fill="#0f5282"/>
<circle cx="187.35" cy="166.00" r="1.72" fill="#0f5282"/>
<circle cx="189.80" cy="166.00" r="1.72" fill="#0f5282"/>
<circle cx="192.25" cy="166.00" r="1.72" fill="#0f5282"/>
<circle cx="194.70" cy="166.00" r="1.72" fill="#3bb34f"/>
<circle cx="197.15" cy="166.00" r="1.72" fill="#3bb34f"/>
<circle cx="139.57" cy="156.75" r="1.72" fill="#c41230"/>
<circle cx="142.02" cy="156.75" r="1.72" fill="#c41230"/>
<circle cx="144.47" cy="156.75" r="1.72" fill="#c41230"/>
<circle cx="146.92" cy="156.75" r="1.72" fill="#c41230"/>
<circle cx="149.37" cy="156.75" r="1.72" fill="#c41230"/>
<circle cx="151.82" cy="156.75" r="1.72" fill="#c41230"/>
<circle cx="154.27" cy="156.75" r="1.72" fill="#c41230"/>
<circle cx="156.72" cy="156.75" r="1.72" fill="#c41230"/>
<circle cx="159.17" cy="156.75" r="1.72" fill="#0f5282"/>
<circle cx="161.62" cy="156.75" r="1.72" fill="#0f5282"/>
<circle cx="164.07" cy="156.75" r="1.72" fill="#0f5282"/>
<circle cx="166.52" cy="156.75" r="1.72" fill="#0f5282"/>
<circle cx="168.97" cy="156.75" r="1.72" fill="#0f5282"/>
<circle cx="171.42" cy="156.75" r="1.72" fill="#0f5282"/>
<circle cx="173.87" cy="156.75" r="1.72" fill="#0f5282"/>
<circle cx="176.32" cy="156.75" r="1.72" fill="#0f5282"/>
<circle cx="178.77" cy="156.75" r="1.72" fill="#0f5282"/>
<circle cx="181.22" cy="156.75" r="1.72" fill="#3bb34f"/>
<circle cx="183.67" cy="156.75" r="1.72" fill="#3bb34f"/>
<circle cx="186.12" cy="156.75" r="1.72" fill="#3bb34f"/>
<circle cx="159.17" cy="147.50" r="1.72" fill="#c41230"/>
<circle cx="161.62" cy="147.50" r="1.72" fill="#c41230"/>
<circle cx="164.07" cy="147.50" r="1.72" fill="#c41230"/>
<circle cx="166.52" cy="147.50" r="1.72" fill="#c41230"/>
<line x1="84.00" y1="140.40" x2="163.00" y2="140.40" stroke="#111" stroke-width="1.1" />
<text x="123.00" y="141.20" font-size="7.8" text-anchor="middle" font-weight="bold" fill="#111" >****</text>
<text x="85.30" y="240.60" font-size="7.5" text-anchor="middle" fill="#1a1a1a" >CD37 negative</text>
<text x="163.50" y="240.60" font-size="7.5" text-anchor="middle" fill="#1a1a1a" >CD37 positive</text>
<circle cx="200.4" cy="205.7" r="3.15" fill="#c41230"/>
<text x="207.90" y="208.20" font-size="7" text-anchor="start" fill="#1a1a1a" >GCB</text>
<circle cx="200.4" cy="214.4" r="3.15" fill="#0f5282"/>
<text x="207.90" y="216.90" font-size="7" text-anchor="start" fill="#1a1a1a" >Non-GCB</text>
<circle cx="200.4" cy="222.9" r="3.15" fill="#3bb34f"/>
<text x="207.90" y="225.40" font-size="7" text-anchor="start" fill="#1a1a1a" >Unknown</text>
<text x="6.40" y="265.70" font-size="10.8" text-anchor="start" font-weight="bold" fill="#111" stroke="#111" stroke-width="0.35" transform="translate(6.4 0) scale(1.05 1) translate(-6.4 0)">D</text>
<text x="23.00" y="264.30" font-size="9" text-anchor="start" font-weight="bold" fill="#111" >Total DLBCL</text>
<rect x="52.9" y="272.80" width="14.50" height="75.80" fill="#3bb34f"/>
<rect x="52.9" y="279.55" width="14.50" height="69.05" fill="#0f5282"/>
<line x1="60.15" y1="348.60" x2="60.15" y2="351.60" stroke="#333" stroke-width="1.1" />
<rect x="74.9" y="272.80" width="14.30" height="75.80" fill="#3bb34f"/>
<rect x="74.9" y="311.99" width="14.30" height="36.61" fill="#0f5282"/>
<line x1="82.05" y1="348.60" x2="82.05" y2="351.60" stroke="#333" stroke-width="1.1" />
<line x1="45.90" y1="270.10" x2="45.90" y2="349.20" stroke="#333" stroke-width="1.4" />
<line x1="45.30" y1="348.60" x2="96.50" y2="348.60" stroke="#333" stroke-width="1.4" />
<line x1="43.10" y1="348.60" x2="45.90" y2="348.60" stroke="#333" stroke-width="1.1" />
<text x="40.30" y="351.20" font-size="7.3" text-anchor="end" fill="#1a1a1a" >0</text>
<line x1="43.10" y1="333.44" x2="45.90" y2="333.44" stroke="#333" stroke-width="1.1" />
<text x="40.30" y="336.04" font-size="7.3" text-anchor="end" fill="#1a1a1a" >20</text>
<line x1="43.10" y1="318.28" x2="45.90" y2="318.28" stroke="#333" stroke-width="1.1" />
<text x="40.30" y="320.88" font-size="7.3" text-anchor="end" fill="#1a1a1a" >40</text>
<line x1="43.10" y1="303.12" x2="45.90" y2="303.12" stroke="#333" stroke-width="1.1" />
<text x="40.30" y="305.72" font-size="7.3" text-anchor="end" fill="#1a1a1a" >60</text>
<line x1="43.10" y1="287.96" x2="45.90" y2="287.96" stroke="#333" stroke-width="1.1" />
<text x="40.30" y="290.56" font-size="7.3" text-anchor="end" fill="#1a1a1a" >80</text>
<line x1="43.10" y1="272.80" x2="45.90" y2="272.80" stroke="#333" stroke-width="1.1" />
<text x="40.30" y="275.40" font-size="7.3" text-anchor="end" fill="#1a1a1a" >100</text>
<text transform="translate(22.30,309.00) rotate(-90) scale(0.76,1)" font-size="8.6" text-anchor="middle" fill="#1a1a1a" stroke="#1a1a1a" stroke-width="0.25">% of samples</text>
<text transform="translate(62.55,357.20) rotate(-45)" font-size="7.8" text-anchor="end" fill="#1a1a1a">CD37-neg</text>
<text transform="translate(84.45,357.20) rotate(-45)" font-size="7.8" text-anchor="end" fill="#1a1a1a">CD37-pos</text>
<rect x="136.2" y="272.80" width="14.20" height="75.80" fill="#c41230"/>
<rect x="136.2" y="303.57" width="14.20" height="45.03" fill="#0f5282"/>
<line x1="143.30" y1="348.60" x2="143.30" y2="351.60" stroke="#333" stroke-width="1.1" />
<rect x="157.8" y="272.80" width="14.20" height="75.80" fill="#c41230"/>
<rect x="157.8" y="339.66" width="14.20" height="8.94" fill="#0f5282"/>
<line x1="164.90" y1="348.60" x2="164.90" y2="351.60" stroke="#333" stroke-width="1.1" />
<line x1="128.90" y1="270.10" x2="128.90" y2="349.20" stroke="#333" stroke-width="1.4" />
<line x1="128.30" y1="348.60" x2="179.40" y2="348.60" stroke="#333" stroke-width="1.4" />
<line x1="126.10" y1="348.60" x2="128.90" y2="348.60" stroke="#333" stroke-width="1.1" />
<text x="123.30" y="351.20" font-size="7.3" text-anchor="end" fill="#1a1a1a" >0</text>
<line x1="126.10" y1="333.44" x2="128.90" y2="333.44" stroke="#333" stroke-width="1.1" />
<text x="123.30" y="336.04" font-size="7.3" text-anchor="end" fill="#1a1a1a" >20</text>
<line x1="126.10" y1="318.28" x2="128.90" y2="318.28" stroke="#333" stroke-width="1.1" />
<text x="123.30" y="320.88" font-size="7.3" text-anchor="end" fill="#1a1a1a" >40</text>
<line x1="126.10" y1="303.12" x2="128.90" y2="303.12" stroke="#333" stroke-width="1.1" />
<text x="123.30" y="305.72" font-size="7.3" text-anchor="end" fill="#1a1a1a" >60</text>
<line x1="126.10" y1="287.96" x2="128.90" y2="287.96" stroke="#333" stroke-width="1.1" />
<text x="123.30" y="290.56" font-size="7.3" text-anchor="end" fill="#1a1a1a" >80</text>
<line x1="126.10" y1="272.80" x2="128.90" y2="272.80" stroke="#333" stroke-width="1.1" />
<text x="123.30" y="275.40" font-size="7.3" text-anchor="end" fill="#1a1a1a" >100</text>
<text transform="translate(106.60,309.00) rotate(-90) scale(0.76,1)" font-size="8.6" text-anchor="middle" fill="#1a1a1a" stroke="#1a1a1a" stroke-width="0.25">% of samples</text>
<text transform="translate(145.70,357.20) rotate(-45)" font-size="7.8" text-anchor="end" fill="#1a1a1a">IRF8-low</text>
<text transform="translate(167.30,357.20) rotate(-45)" font-size="7.8" text-anchor="end" fill="#1a1a1a">IRF8-high</text>
<text x="23.00" y="396.60" font-size="8.8" text-anchor="start" font-weight="bold" fill="#111" >GCB-DLBCL</text>
<rect x="52.9" y="405.00" width="14.50" height="75.80" fill="#3bb34f"/>
<rect x="52.9" y="410.31" width="14.50" height="70.49" fill="#0f5282"/>
<line x1="60.15" y1="480.80" x2="60.15" y2="483.80" stroke="#333" stroke-width="1.1" />
<rect x="74.9" y="405.00" width="14.30" height="75.80" fill="#3bb34f"/>
<rect x="74.9" y="446.01" width="14.30" height="34.79" fill="#0f5282"/>
<line x1="82.05" y1="480.80" x2="82.05" y2="483.80" stroke="#333" stroke-width="1.1" />
<line x1="45.90" y1="402.30" x2="45.90" y2="481.40" stroke="#333" stroke-width="1.4" />
<line x1="45.30" y1="480.80" x2="96.50" y2="480.80" stroke="#333" stroke-width="1.4" />
<line x1="43.10" y1="480.80" x2="45.90" y2="480.80" stroke="#333" stroke-width="1.1" />
<text x="40.30" y="483.40" font-size="7.3" text-anchor="end" fill="#1a1a1a" >0</text>
<line x1="43.10" y1="465.64" x2="45.90" y2="465.64" stroke="#333" stroke-width="1.1" />
<text x="40.30" y="468.24" font-size="7.3" text-anchor="end" fill="#1a1a1a" >20</text>
<line x1="43.10" y1="450.48" x2="45.90" y2="450.48" stroke="#333" stroke-width="1.1" />
<text x="40.30" y="453.08" font-size="7.3" text-anchor="end" fill="#1a1a1a" >40</text>
<line x1="43.10" y1="435.32" x2="45.90" y2="435.32" stroke="#333" stroke-width="1.1" />
<text x="40.30" y="437.92" font-size="7.3" text-anchor="end" fill="#1a1a1a" >60</text>
<line x1="43.10" y1="420.16" x2="45.90" y2="420.16" stroke="#333" stroke-width="1.1" />
<text x="40.30" y="422.76" font-size="7.3" text-anchor="end" fill="#1a1a1a" >80</text>
<line x1="43.10" y1="405.00" x2="45.90" y2="405.00" stroke="#333" stroke-width="1.1" />
<text x="40.30" y="407.60" font-size="7.3" text-anchor="end" fill="#1a1a1a" >100</text>
<text transform="translate(22.30,441.20) rotate(-90) scale(0.76,1)" font-size="8.6" text-anchor="middle" fill="#1a1a1a" stroke="#1a1a1a" stroke-width="0.25">% of samples</text>
<text transform="translate(62.55,489.40) rotate(-45)" font-size="7.8" text-anchor="end" fill="#1a1a1a">CD37-neg</text>
<text transform="translate(84.45,489.40) rotate(-45)" font-size="7.8" text-anchor="end" fill="#1a1a1a">CD37-pos</text>
<rect x="136.2" y="405.00" width="14.20" height="75.80" fill="#c41230"/>
<rect x="136.2" y="436.23" width="14.20" height="44.57" fill="#0f5282"/>
<line x1="143.30" y1="480.80" x2="143.30" y2="483.80" stroke="#333" stroke-width="1.1" />
<rect x="157.8" y="405.00" width="14.20" height="75.80" fill="#c41230"/>
<rect x="157.8" y="474.51" width="14.20" height="6.29" fill="#0f5282"/>
<line x1="164.90" y1="480.80" x2="164.90" y2="483.80" stroke="#333" stroke-width="1.1" />
<line x1="128.90" y1="402.30" x2="128.90" y2="481.40" stroke="#333" stroke-width="1.4" />
<line x1="128.30" y1="480.80" x2="179.40" y2="480.80" stroke="#333" stroke-width="1.4" />
<line x1="126.10" y1="480.80" x2="128.90" y2="480.80" stroke="#333" stroke-width="1.1" />
<text x="123.30" y="483.40" font-size="7.3" text-anchor="end" fill="#1a1a1a" >0</text>
<line x1="126.10" y1="465.64" x2="128.90" y2="465.64" stroke="#333" stroke-width="1.1" />
<text x="123.30" y="468.24" font-size="7.3" text-anchor="end" fill="#1a1a1a" >20</text>
<line x1="126.10" y1="450.48" x2="128.90" y2="450.48" stroke="#333" stroke-width="1.1" />
<text x="123.30" y="453.08" font-size="7.3" text-anchor="end" fill="#1a1a1a" >40</text>
<line x1="126.10" y1="435.32" x2="128.90" y2="435.32" stroke="#333" stroke-width="1.1" />
<text x="123.30" y="437.92" font-size="7.3" text-anchor="end" fill="#1a1a1a" >60</text>
<line x1="126.10" y1="420.16" x2="128.90" y2="420.16" stroke="#333" stroke-width="1.1" />
<text x="123.30" y="422.76" font-size="7.3" text-anchor="end" fill="#1a1a1a" >80</text>
<line x1="126.10" y1="405.00" x2="128.90" y2="405.00" stroke="#333" stroke-width="1.1" />
<text x="123.30" y="407.60" font-size="7.3" text-anchor="end" fill="#1a1a1a" >100</text>
<text transform="translate(106.60,441.20) rotate(-90) scale(0.76,1)" font-size="8.6" text-anchor="middle" fill="#1a1a1a" stroke="#1a1a1a" stroke-width="0.25">% of samples</text>
<text transform="translate(145.70,489.40) rotate(-45)" font-size="7.8" text-anchor="end" fill="#1a1a1a">IRF8-low</text>
<text transform="translate(167.30,489.40) rotate(-45)" font-size="7.8" text-anchor="end" fill="#1a1a1a">IRF8-high</text>
<text x="23.00" y="528.20" font-size="8.5" text-anchor="start" font-weight="bold" fill="#111" >Non-GCB-DLBCL</text>
<rect x="52.9" y="537.60" width="14.50" height="75.80" fill="#3bb34f"/>
<rect x="52.9" y="546.62" width="14.50" height="66.78" fill="#0f5282"/>
<line x1="60.15" y1="613.40" x2="60.15" y2="616.40" stroke="#333" stroke-width="1.1" />
<rect x="74.9" y="537.60" width="14.30" height="75.80" fill="#3bb34f"/>
<rect x="74.9" y="572.85" width="14.30" height="40.55" fill="#0f5282"/>
<line x1="82.05" y1="613.40" x2="82.05" y2="616.40" stroke="#333" stroke-width="1.1" />
<line x1="45.90" y1="534.90" x2="45.90" y2="614.00" stroke="#333" stroke-width="1.4" />
<line x1="45.30" y1="613.40" x2="96.50" y2="613.40" stroke="#333" stroke-width="1.4" />
<line x1="43.10" y1="613.40" x2="45.90" y2="613.40" stroke="#333" stroke-width="1.1" />
<text x="40.30" y="616.00" font-size="7.3" text-anchor="end" fill="#1a1a1a" >0</text>
<line x1="43.10" y1="598.24" x2="45.90" y2="598.24" stroke="#333" stroke-width="1.1" />
<text x="40.30" y="600.84" font-size="7.3" text-anchor="end" fill="#1a1a1a" >20</text>
<line x1="43.10" y1="583.08" x2="45.90" y2="583.08" stroke="#333" stroke-width="1.1" />
<text x="40.30" y="585.68" font-size="7.3" text-anchor="end" fill="#1a1a1a" >40</text>
<line x1="43.10" y1="567.92" x2="45.90" y2="567.92" stroke="#333" stroke-width="1.1" />
<text x="40.30" y="570.52" font-size="7.3" text-anchor="end" fill="#1a1a1a" >60</text>
<line x1="43.10" y1="552.76" x2="45.90" y2="552.76" stroke="#333" stroke-width="1.1" />
<text x="40.30" y="555.36" font-size="7.3" text-anchor="end" fill="#1a1a1a" >80</text>
<line x1="43.10" y1="537.60" x2="45.90" y2="537.60" stroke="#333" stroke-width="1.1" />
<text x="40.30" y="540.20" font-size="7.3" text-anchor="end" fill="#1a1a1a" >100</text>
<text transform="translate(22.30,573.80) rotate(-90) scale(0.76,1)" font-size="8.6" text-anchor="middle" fill="#1a1a1a" stroke="#1a1a1a" stroke-width="0.25">% of samples</text>
<text transform="translate(62.55,622.00) rotate(-45)" font-size="7.8" text-anchor="end" fill="#1a1a1a">CD37-neg</text>
<text transform="translate(84.45,622.00) rotate(-45)" font-size="7.8" text-anchor="end" fill="#1a1a1a">CD37-pos</text>
<rect x="136.2" y="537.60" width="14.20" height="75.80" fill="#c41230"/>
<rect x="136.2" y="566.63" width="14.20" height="46.77" fill="#0f5282"/>
<line x1="143.30" y1="613.40" x2="143.30" y2="616.40" stroke="#333" stroke-width="1.1" />
<rect x="157.8" y="537.60" width="14.20" height="75.80" fill="#c41230"/>
<rect x="157.8" y="598.24" width="14.20" height="15.16" fill="#0f5282"/>
<line x1="164.90" y1="613.40" x2="164.90" y2="616.40" stroke="#333" stroke-width="1.1" />
<line x1="128.90" y1="534.90" x2="128.90" y2="614.00" stroke="#333" stroke-width="1.4" />
<line x1="128.30" y1="613.40" x2="179.40" y2="613.40" stroke="#333" stroke-width="1.4" />
<line x1="126.10" y1="613.40" x2="128.90" y2="613.40" stroke="#333" stroke-width="1.1" />
<text x="123.30" y="616.00" font-size="7.3" text-anchor="end" fill="#1a1a1a" >0</text>
<line x1="126.10" y1="598.24" x2="128.90" y2="598.24" stroke="#333" stroke-width="1.1" />
<text x="123.30" y="600.84" font-size="7.3" text-anchor="end" fill="#1a1a1a" >20</text>
<line x1="126.10" y1="583.08" x2="128.90" y2="583.08" stroke="#333" stroke-width="1.1" />
<text x="123.30" y="585.68" font-size="7.3" text-anchor="end" fill="#1a1a1a" >40</text>
<line x1="126.10" y1="567.92" x2="128.90" y2="567.92" stroke="#333" stroke-width="1.1" />
<text x="123.30" y="570.52" font-size="7.3" text-anchor="end" fill="#1a1a1a" >60</text>
<line x1="126.10" y1="552.76" x2="128.90" y2="552.76" stroke="#333" stroke-width="1.1" />
<text x="123.30" y="555.36" font-size="7.3" text-anchor="end" fill="#1a1a1a" >80</text>
<line x1="126.10" y1="537.60" x2="128.90" y2="537.60" stroke="#333" stroke-width="1.1" />
<text x="123.30" y="540.20" font-size="7.3" text-anchor="end" fill="#1a1a1a" >100</text>
<text transform="translate(106.60,573.80) rotate(-90) scale(0.76,1)" font-size="8.6" text-anchor="middle" fill="#1a1a1a" stroke="#1a1a1a" stroke-width="0.25">% of samples</text>
<text transform="translate(145.70,622.00) rotate(-45)" font-size="7.8" text-anchor="end" fill="#1a1a1a">IRF8-low</text>
<text transform="translate(167.30,622.00) rotate(-45)" font-size="7.8" text-anchor="end" fill="#1a1a1a">IRF8-high</text>
<rect x="46" y="655.2" width="9.2" height="4.6" fill="#3bb34f"/>
<rect x="46" y="667.0" width="9.2" height="4.6" fill="#0f5282"/>
<rect x="129.4" y="655.2" width="9.2" height="4.6" fill="#c41230"/>
<rect x="129.4" y="667.0" width="9.2" height="4.6" fill="#0f5282"/>
<text x="57.10" y="660.30" font-size="6.9" text-anchor="start" fill="#1a1a1a" >IRF8-high</text>
<text x="57.10" y="672.10" font-size="6.9" text-anchor="start" fill="#1a1a1a" >IRF8-low</text>
<text x="140.60" y="660.30" font-size="6.9" text-anchor="start" fill="#1a1a1a" >CD37-pos</text>
<text x="140.60" y="672.10" font-size="6.9" text-anchor="start" fill="#1a1a1a" >CD37-neg</text>
<line x1="209.50" y1="293.20" x2="485.80" y2="293.20" stroke="#555" stroke-width="1.2" />
<text x="211.50" y="303.80" font-size="9.2" text-anchor="start" font-weight="bold" fill="#111" >Total</text>
<text x="277.70" y="304.00" font-size="9" text-anchor="start" fill="#1a1a1a" >CD37-negative</text>
<text x="347.40" y="304.00" font-size="9" text-anchor="start" fill="#1a1a1a" >CD37-positive</text>
<text x="414.60" y="304.00" font-size="9" text-anchor="start" fill="#1a1a1a" >Total</text>
<text x="440.80" y="304.00" font-size="8.6" text-anchor="start" fill="#1a1a1a" >P value</text>
<text x="211.50" y="317.80" font-size="8.6" text-anchor="start" fill="#1a1a1a" >IRF8-low</text>
<text x="302.60" y="317.80" font-size="9" text-anchor="start" fill="#1a1a1a" >82</text>
<text x="386.70" y="317.80" font-size="9" text-anchor="end" fill="#1a1a1a" >56</text>
<text x="432.40" y="317.80" font-size="9" text-anchor="end" fill="#1a1a1a" >138</text>
<text x="440.80" y="317.80" font-size="9" text-anchor="start" fill="#1a1a1a" >&lt;.0001</text>
<text x="472.30" y="318.70" font-size="8.6" text-anchor="start" font-weight="bold" fill="#111" >****</text>
<text x="211.50" y="331.40" font-size="8.6" text-anchor="start" fill="#1a1a1a" >IRF8-high</text>
<text x="302.60" y="331.40" font-size="9" text-anchor="start" fill="#1a1a1a" >8</text>
<text x="386.70" y="331.40" font-size="9" text-anchor="end" fill="#1a1a1a" >60</text>
<text x="432.40" y="331.40" font-size="9" text-anchor="end" fill="#1a1a1a" >68</text>
<text x="211.50" y="345.20" font-size="8.6" text-anchor="start" fill="#1a1a1a" >Total</text>
<text x="302.60" y="345.20" font-size="9" text-anchor="start" fill="#1a1a1a" >90</text>
<text x="386.70" y="345.20" font-size="9" text-anchor="end" fill="#1a1a1a" >116</text>
<text x="432.40" y="345.20" font-size="9" text-anchor="end" fill="#1a1a1a" >206</text>
<line x1="209.50" y1="334.90" x2="440.00" y2="334.90" stroke="#555" stroke-width="1.1" />
<line x1="209.50" y1="348.70" x2="485.80" y2="348.70" stroke="#555" stroke-width="1.2" />
<line x1="412.30" y1="307.00" x2="412.30" y2="348.70" stroke="#333" stroke-width="0.9" />
<line x1="209.50" y1="425.80" x2="485.80" y2="425.80" stroke="#555" stroke-width="1.2" />
<text x="211.50" y="436.40" font-size="9.2" text-anchor="start" font-weight="bold" fill="#111" >GCB</text>
<text x="277.70" y="436.60" font-size="9" text-anchor="start" fill="#1a1a1a" >CD37-negative</text>
<text x="347.40" y="436.60" font-size="9" text-anchor="start" fill="#1a1a1a" >CD37-positive</text>
<text x="414.60" y="436.60" font-size="9" text-anchor="start" fill="#1a1a1a" >Total</text>
<text x="440.80" y="436.60" font-size="8.6" text-anchor="start" fill="#1a1a1a" >P value</text>
<text x="211.50" y="450.40" font-size="8.6" text-anchor="start" fill="#1a1a1a" >IRF8-low</text>
<text x="302.60" y="450.40" font-size="9" text-anchor="start" fill="#1a1a1a" >40</text>
<text x="386.70" y="450.40" font-size="9" text-anchor="end" fill="#1a1a1a" >28</text>
<text x="432.40" y="450.40" font-size="9" text-anchor="end" fill="#1a1a1a" >68</text>
<text x="440.80" y="450.40" font-size="9" text-anchor="start" fill="#1a1a1a" >&lt;.0001</text>
<text x="472.30" y="451.30" font-size="8.6" text-anchor="start" font-weight="bold" fill="#111" >****</text>
<text x="211.50" y="464.00" font-size="8.6" text-anchor="start" fill="#1a1a1a" >IRF8-high</text>
<text x="302.60" y="464.00" font-size="9" text-anchor="start" fill="#1a1a1a" >3</text>
<text x="386.70" y="464.00" font-size="9" text-anchor="end" fill="#1a1a1a" >33</text>
<text x="432.40" y="464.00" font-size="9" text-anchor="end" fill="#1a1a1a" >36</text>
<text x="211.50" y="477.80" font-size="8.6" text-anchor="start" fill="#1a1a1a" >Total</text>
<text x="302.60" y="477.80" font-size="9" text-anchor="start" fill="#1a1a1a" >43</text>
<text x="386.70" y="477.80" font-size="9" text-anchor="end" fill="#1a1a1a" >61</text>
<text x="432.40" y="477.80" font-size="9" text-anchor="end" fill="#1a1a1a" >104</text>
<line x1="209.50" y1="467.50" x2="440.00" y2="467.50" stroke="#555" stroke-width="1.1" />
<line x1="209.50" y1="481.30" x2="485.80" y2="481.30" stroke="#555" stroke-width="1.2" />
<line x1="412.30" y1="439.60" x2="412.30" y2="481.30" stroke="#333" stroke-width="0.9" />
<line x1="209.50" y1="558.10" x2="485.80" y2="558.10" stroke="#555" stroke-width="1.2" />
<text x="211.50" y="568.70" font-size="9.2" text-anchor="start" font-weight="bold" fill="#111" >Non-GCB</text>
<text x="277.70" y="568.90" font-size="9" text-anchor="start" fill="#1a1a1a" >CD37-negative</text>
<text x="347.40" y="568.90" font-size="9" text-anchor="start" fill="#1a1a1a" >CD37-positive</text>
<text x="414.60" y="568.90" font-size="9" text-anchor="start" fill="#1a1a1a" >Total</text>
<text x="440.80" y="568.90" font-size="8.6" text-anchor="start" fill="#1a1a1a" >P value</text>
<text x="211.50" y="582.70" font-size="8.6" text-anchor="start" fill="#1a1a1a" >IRF8-low</text>
<text x="302.60" y="582.70" font-size="9" text-anchor="start" fill="#1a1a1a" >37</text>
<text x="386.70" y="582.70" font-size="9" text-anchor="end" fill="#1a1a1a" >23</text>
<text x="432.40" y="582.70" font-size="9" text-anchor="end" fill="#1a1a1a" >60</text>
<text x="440.80" y="582.70" font-size="9" text-anchor="start" fill="#1a1a1a" >.0007</text>
<text x="467.20" y="583.60" font-size="8.6" text-anchor="start" font-weight="bold" fill="#111" >***</text>
<text x="211.50" y="596.30" font-size="8.6" text-anchor="start" fill="#1a1a1a" >IRF8-high</text>
<text x="302.60" y="596.30" font-size="9" text-anchor="start" fill="#1a1a1a" >5</text>
<text x="386.70" y="596.30" font-size="9" text-anchor="end" fill="#1a1a1a" >20</text>
<text x="432.40" y="596.30" font-size="9" text-anchor="end" fill="#1a1a1a" >25</text>
<text x="211.50" y="610.10" font-size="8.6" text-anchor="start" fill="#1a1a1a" >Total</text>
<text x="302.60" y="610.10" font-size="9" text-anchor="start" fill="#1a1a1a" >42</text>
<text x="386.70" y="610.10" font-size="9" text-anchor="end" fill="#1a1a1a" >43</text>
<text x="432.40" y="610.10" font-size="9" text-anchor="end" fill="#1a1a1a" >85</text>
<line x1="209.50" y1="599.80" x2="440.00" y2="599.80" stroke="#555" stroke-width="1.1" />
<line x1="209.50" y1="613.60" x2="485.80" y2="613.60" stroke="#555" stroke-width="1.2" />
<line x1="412.30" y1="571.90" x2="412.30" y2="613.60" stroke="#333" stroke-width="0.9" />
<rect x="0.65" y="0.65" width="518.7" height="678.7" fill="none" stroke="#141212" stroke-width="1.3"/>
</svg>
</body></html>
